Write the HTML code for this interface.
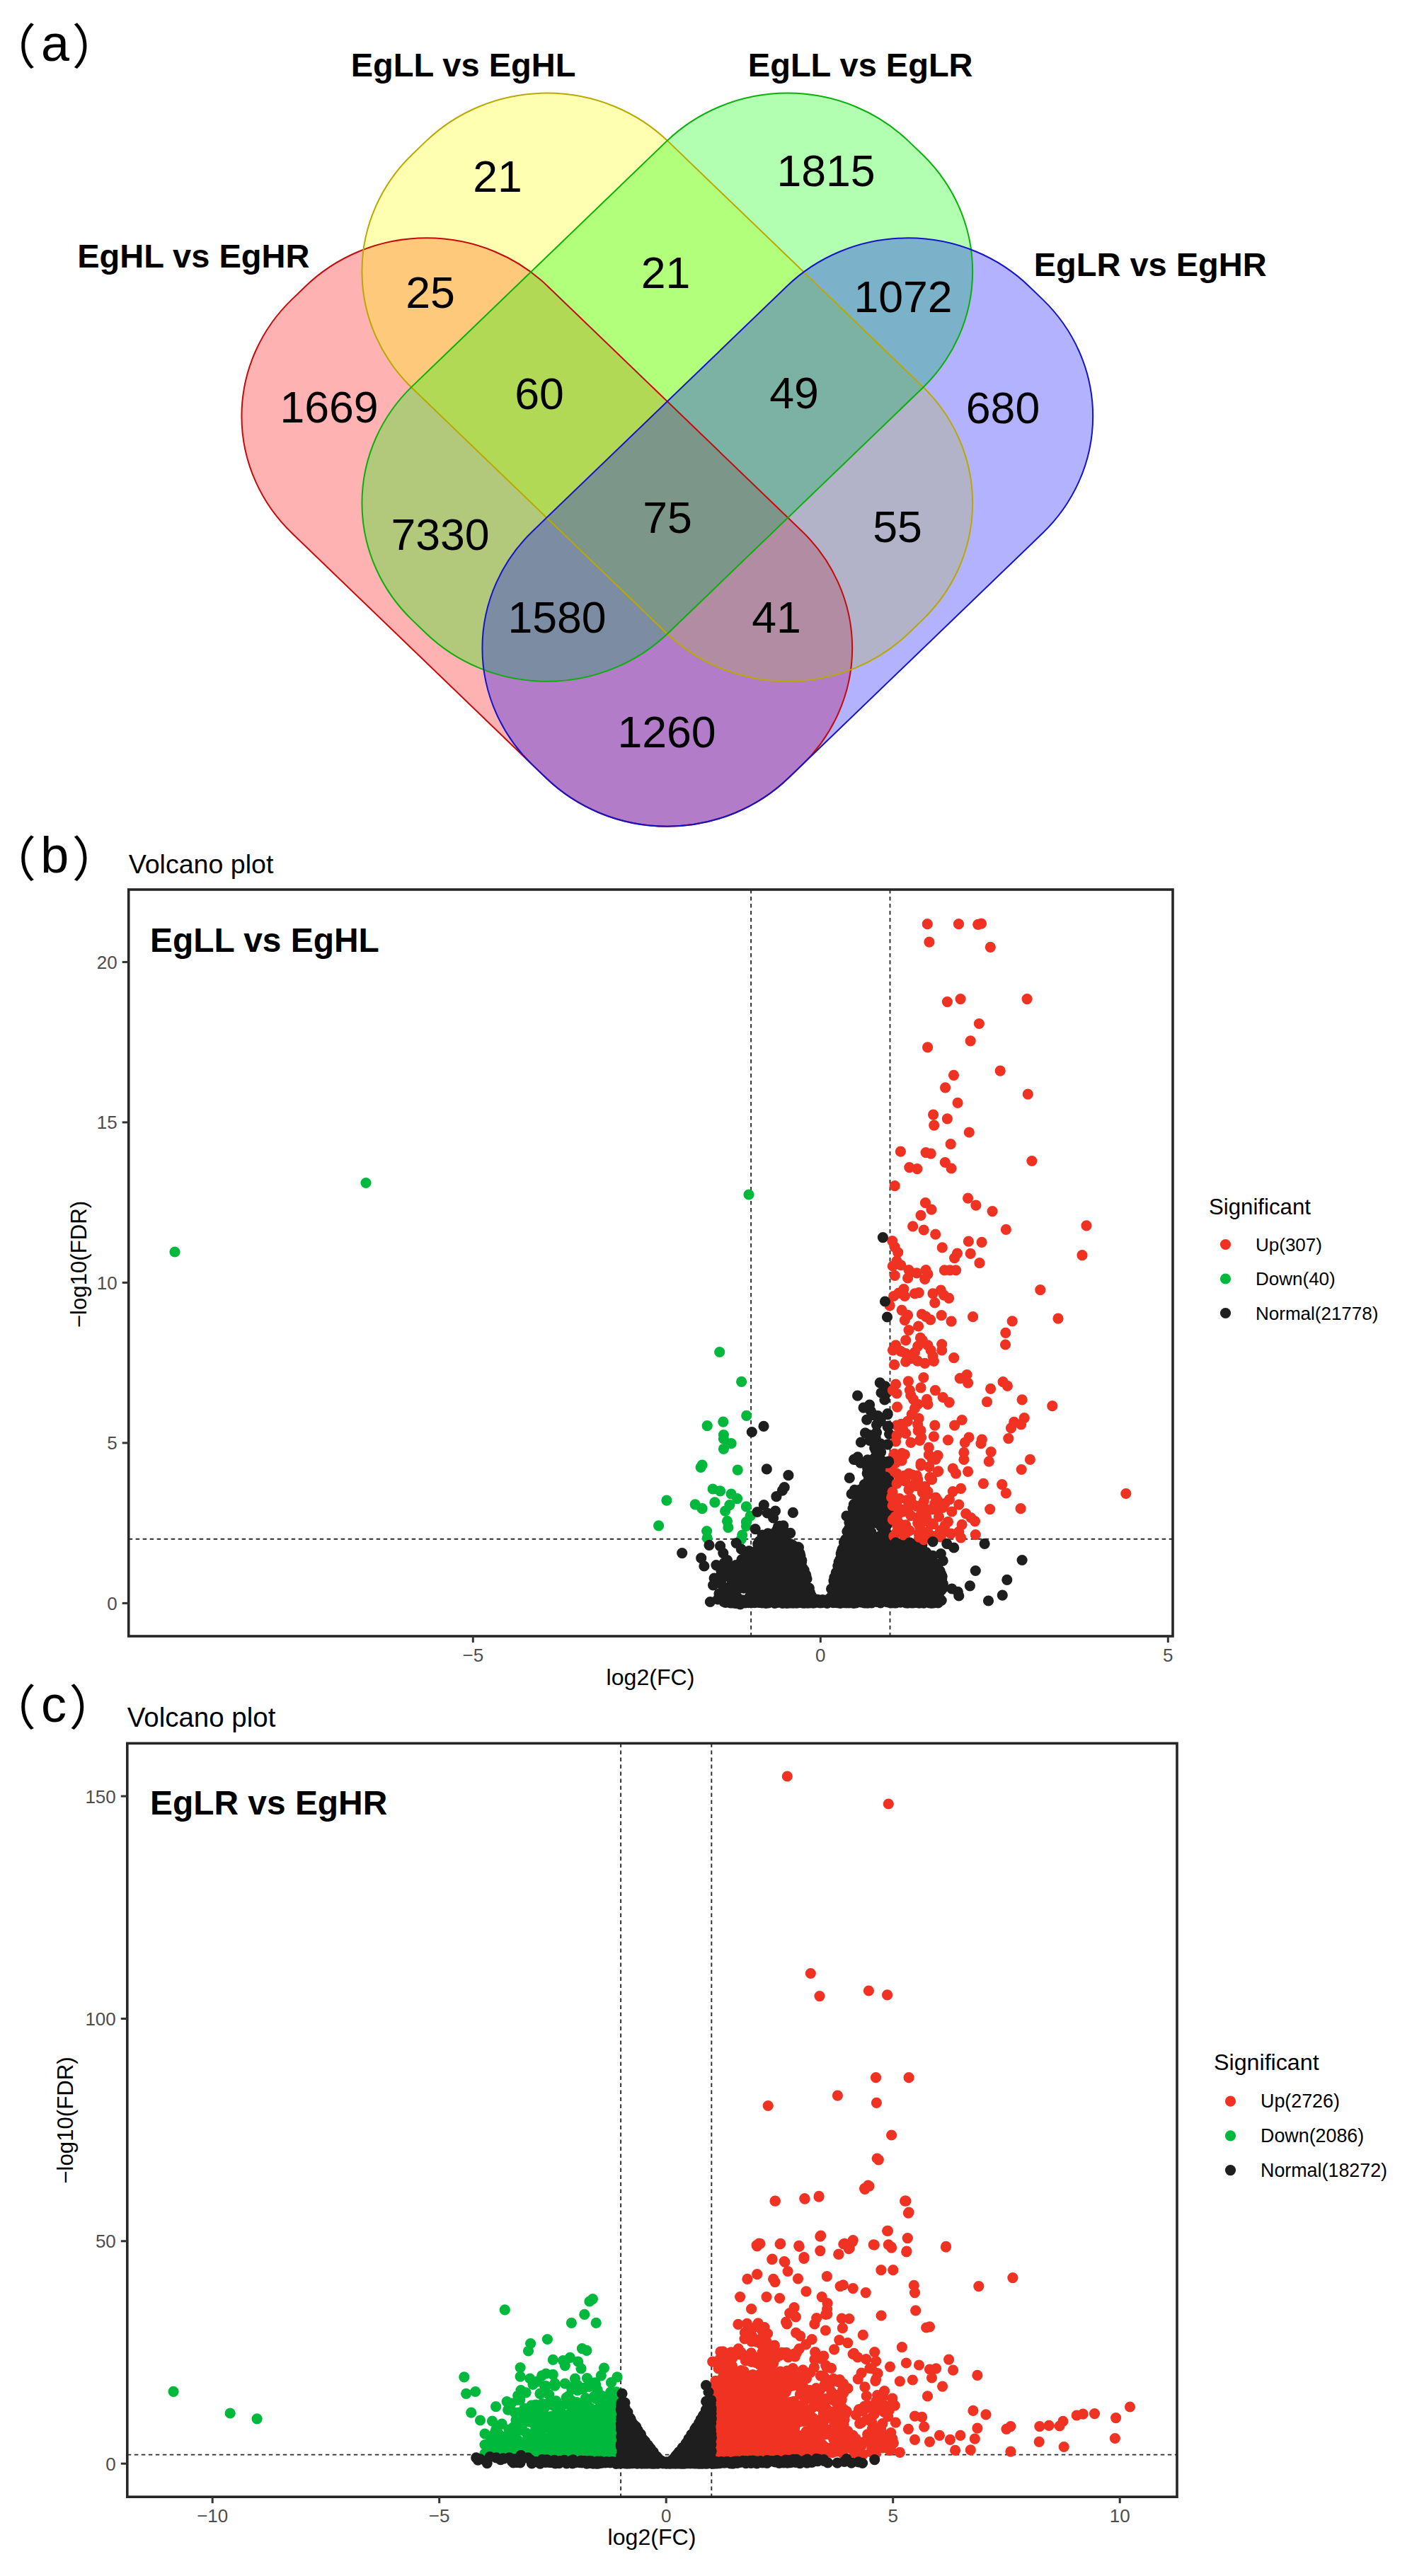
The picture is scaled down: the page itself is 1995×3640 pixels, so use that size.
<!DOCTYPE html>
<html lang="en"><head><meta charset="utf-8"><title>Figure</title>
<style>html,body{margin:0;padding:0;background:#fff}svg{display:block}text{font-family:"Liberation Sans","Noto Sans CJK SC",sans-serif}.cj{font-family:"Noto Sans CJK SC","Liberation Sans",sans-serif}.b{font-weight:bold}.g{fill:#4d4d4d}</style></head><body>
<svg width="1995" height="3640" viewBox="0 0 1995 3640">
<rect width="1995" height="3640" fill="#fff"/>
<path d="M774.1 404.7L1133.2 750.7A242.3 233.5 0 0 1 1133.2 1080.9L1114.1 1099.3A242.3 233.5 0 0 1 771.5 1099.3L412.4 753.3A242.3 233.5 0 0 1 412.4 423.1L431.5 404.7A242.3 233.5 0 0 1 774.1 404.7Z" fill="#ff0000" fill-opacity="0.3"/>
<path d="M944.1 199.9L1303.2 545.9A242.3 233.5 0 0 1 1303.2 876.1L1284.1 894.5A242.3 233.5 0 0 1 941.5 894.5L582.4 548.5A242.3 233.5 0 0 1 582.4 218.3L601.5 199.9A242.3 233.5 0 0 1 944.1 199.9Z" fill="#ffff00" fill-opacity="0.3"/>
<path d="M1303.2 548.5L944.1 894.5A242.3 233.5 0 0 1 601.5 894.5L582.4 876.1A242.3 233.5 0 0 1 582.4 545.9L941.5 199.9A242.3 233.5 0 0 1 1284.1 199.9L1303.2 218.3A242.3 233.5 0 0 1 1303.2 548.5Z" fill="#00ff00" fill-opacity="0.3"/>
<path d="M1473.2 753.3L1114.1 1099.3A242.3 233.5 0 0 1 771.5 1099.3L752.4 1080.9A242.3 233.5 0 0 1 752.4 750.7L1111.5 404.7A242.3 233.5 0 0 1 1454.1 404.7L1473.2 423.1A242.3 233.5 0 0 1 1473.2 753.3Z" fill="#0000ff" fill-opacity="0.3"/>
<path d="M774.1 404.7L1133.2 750.7A242.3 233.5 0 0 1 1133.2 1080.9L1114.1 1099.3A242.3 233.5 0 0 1 771.5 1099.3L412.4 753.3A242.3 233.5 0 0 1 412.4 423.1L431.5 404.7A242.3 233.5 0 0 1 774.1 404.7Z" fill="none" stroke="#c40a0a" stroke-width="2"/>
<path d="M944.1 199.9L1303.2 545.9A242.3 233.5 0 0 1 1303.2 876.1L1284.1 894.5A242.3 233.5 0 0 1 941.5 894.5L582.4 548.5A242.3 233.5 0 0 1 582.4 218.3L601.5 199.9A242.3 233.5 0 0 1 944.1 199.9Z" fill="none" stroke="#b9a800" stroke-width="2"/>
<path d="M1303.2 548.5L944.1 894.5A242.3 233.5 0 0 1 601.5 894.5L582.4 876.1A242.3 233.5 0 0 1 582.4 545.9L941.5 199.9A242.3 233.5 0 0 1 1284.1 199.9L1303.2 218.3A242.3 233.5 0 0 1 1303.2 548.5Z" fill="none" stroke="#0aaf0a" stroke-width="2"/>
<path d="M1473.2 753.3L1114.1 1099.3A242.3 233.5 0 0 1 771.5 1099.3L752.4 1080.9A242.3 233.5 0 0 1 752.4 750.7L1111.5 404.7A242.3 233.5 0 0 1 1454.1 404.7L1473.2 423.1A242.3 233.5 0 0 1 1473.2 753.3Z" fill="none" stroke="#1414c8" stroke-width="2"/>
<text x="654.5" y="108" font-size="47.0" text-anchor="middle" class="b">EgLL vs EgHL</text>
<text x="1215.7" y="108" font-size="47.0" text-anchor="middle" class="b">EgLL vs EgLR</text>
<text x="273.3" y="378" font-size="47.0" text-anchor="middle" class="b">EgHL vs EgHR</text>
<text x="1625.2" y="389.5" font-size="47.0" text-anchor="middle" class="b">EgLR vs EgHR</text>
<text x="703" y="271" font-size="62.6" text-anchor="middle">21</text>
<text x="1167" y="263" font-size="62.6" text-anchor="middle">1815</text>
<text x="608" y="435" font-size="62.6" text-anchor="middle">25</text>
<text x="940.5" y="407" font-size="62.6" text-anchor="middle">21</text>
<text x="1276" y="441" font-size="62.6" text-anchor="middle">1072</text>
<text x="465" y="597" font-size="62.6" text-anchor="middle">1669</text>
<text x="762" y="578" font-size="62.6" text-anchor="middle">60</text>
<text x="1122" y="577" font-size="62.6" text-anchor="middle">49</text>
<text x="1417" y="598" font-size="62.6" text-anchor="middle">680</text>
<text x="622" y="777" font-size="62.6" text-anchor="middle">7330</text>
<text x="943" y="753" font-size="62.6" text-anchor="middle">75</text>
<text x="1268" y="766" font-size="62.6" text-anchor="middle">55</text>
<text x="787" y="894" font-size="62.6" text-anchor="middle">1580</text>
<text x="1097" y="894" font-size="62.6" text-anchor="middle">41</text>
<text x="942" y="1056" font-size="62.6" text-anchor="middle">1260</text>
<text font-size="72"><tspan class="cj" font-size="68" x="-16.9" y="91.1">（</tspan><tspan x="58" y="85.5">a</tspan><tspan class="cj" font-size="68" x="101.8" y="91.1">）</tspan></text>
<text font-size="72"><tspan class="cj" font-size="68" x="-16.9" y="1238.6">（</tspan><tspan x="57.3" y="1233">b</tspan><tspan class="cj" font-size="68" x="101.8" y="1238.6">）</tspan></text>
<text font-size="72"><tspan class="cj" font-size="68" x="-16.9" y="2438.1">（</tspan><tspan x="58" y="2432.5">c</tspan><tspan class="cj" font-size="68" x="97.5" y="2438.1">）</tspan></text>
<g>
<line x1="1061.1" y1="1257" x2="1061.1" y2="2312" stroke="#2a2a2a" stroke-width="1.9" stroke-dasharray="5.5 4.5"/>
<line x1="1257.5" y1="1257" x2="1257.5" y2="2312" stroke="#2a2a2a" stroke-width="1.9" stroke-dasharray="5.5 4.5"/>
<line x1="181.7" y1="2174.8" x2="1657" y2="2174.8" stroke="#2a2a2a" stroke-width="1.9" stroke-dasharray="5.5 4.5"/>
<path d="M1116.3 2209.2h0M1129.8 2227.6h0M1034.5 2239.6h0M1278.3 2246.2h0M1214.1 2169.3h0M1105.3 2252.2h0M1111.4 2249.1h0M1199.3 2222.8h0M1188.4 2261.0h0M1078.3 2225.4h0M1113.2 2225.6h0M1108.6 2196.2h0M1090.6 2212.9h0M1293.9 2240.6h0M1327.7 2244.6h0M1255.9 2169.4h0M1258.3 2190.0h0M1113.1 2213.1h0M1198.8 2171.2h0M1225.9 2136.0h0M1220.4 2120.7h0M1103.7 2188.1h0M1066.1 2261.4h0M1259.4 2244.1h0M1189.0 2203.9h0M1290.3 2229.7h0M1127.6 2186.0h0M1060.6 2248.9h0M1087.2 2205.6h0M1096.6 2222.6h0M1130.9 2198.5h0M1234.4 2133.2h0M1229.8 2097.1h0M1263.2 2196.7h0M1138.4 2261.1h0M1216.3 2254.3h0M1079.2 2233.7h0M1028.9 2255.2h0M1209.8 2226.6h0M1123.9 2256.1h0M1285.4 2225.3h0M1167.8 2264.8h0M1122.4 2201.1h0M1064.0 2202.1h0M1182.1 2238.6h0M1236.2 2182.7h0M1118.2 2196.6h0M1271.6 2201.7h0M1085.0 2230.1h0M1021.3 2249.3h0M1095.5 2170.1h0M1129.4 2248.2h0M1075.4 2206.4h0M1269.6 2208.5h0M1253.6 2230.0h0M1266.2 2196.5h0M1245.5 2240.6h0M1271.8 2194.3h0M1124.9 2255.5h0M1221.3 2098.5h0M1278.1 2243.7h0M1106.4 2202.1h0M1095.5 2252.3h0M1305.1 2228.2h0M1199.9 2216.4h0M1183.3 2264.4h0M1067.5 2213.8h0M1191.2 2222.0h0M1190.9 2256.7h0M1192.5 2240.9h0M1260.7 2217.1h0M1256.8 2179.1h0M1209.3 2187.6h0M1235.1 2148.6h0M1237.2 2049.2h0M1095.6 2171.2h0M1282.6 2254.9h0M1154.4 2264.1h0M1264.5 2252.1h0M1242.7 2235.1h0M1296.4 2246.5h0M1280.1 2228.3h0M1178.1 2258.8h0M1114.6 2263.7h0M1190.5 2263.9h0M1118.8 2222.4h0M1265.9 2256.4h0M1097.5 2183.7h0M1099.1 2219.0h0M1095.3 2174.1h0M1195.8 2256.4h0M1149.0 2260.3h0M1216.4 2251.6h0M1287.8 2191.1h0M1190.1 2244.1h0M1088.8 2249.0h0M1112.5 2198.2h0M1105.4 2245.6h0M1123.8 2246.4h0M1189.5 2228.8h0M1313.0 2207.9h0M1280.8 2221.8h0M1233.5 2194.2h0M1280.1 2210.7h0M1142.4 2263.9h0M1053.8 2209.9h0M1094.3 2257.1h0M1283.0 2207.7h0M1102.8 2231.3h0M1160.0 2263.0h0M1096.8 2165.6h0M1188.2 2195.7h0M1111.7 2265.3h0M1134.9 2237.7h0M1076.7 2264.9h0M1097.1 2224.1h0M1025.4 2245.4h0M1087.0 2211.7h0M1253.7 2123.5h0M1295.2 2237.3h0M1329.2 2230.9h0M1219.2 2122.0h0M1299.3 2202.2h0M1273.6 2220.3h0M1271.2 2215.1h0M1299.6 2205.7h0M1086.1 2252.0h0M1128.2 2198.1h0M1191.9 2211.4h0M1231.2 2264.8h0M1268.9 2222.1h0M1184.4 2261.6h0M1249.3 2251.2h0M1097.5 2243.9h0M1250.3 2170.2h0M1135.2 2228.5h0M1259.0 2210.1h0M1037.0 2249.7h0M1251.4 2154.6h0M1016.0 2251.9h0M1228.4 2140.7h0M1105.7 2214.1h0M1162.2 2260.5h0M1076.2 2176.9h0M1276.1 2226.7h0M1098.5 2163.2h0M1079.9 2252.2h0M1238.5 2057.9h0M1168.6 2265.4h0M1109.3 2232.3h0M1113.8 2265.2h0M1253.8 2241.6h0M1302.4 2233.7h0M1201.8 2212.5h0M1100.6 2253.8h0M1280.8 2184.9h0M1092.3 2215.2h0M1073.1 2177.6h0M1296.8 2211.1h0M1188.9 2261.7h0M1247.9 2122.8h0M1219.6 2256.9h0M1310.5 2230.6h0M1122.7 2208.4h0M1326.5 2231.7h0M1108.9 2226.9h0M1065.9 2251.2h0M1082.9 2169.9h0M1156.9 2264.4h0M1095.2 2177.4h0M1253.5 2183.4h0M1180.8 2250.4h0M1323.7 2237.6h0M1214.8 2229.6h0M1099.3 2221.2h0M1285.4 2263.5h0M1300.5 2214.9h0M1287.5 2244.0h0M1047.1 2227.0h0M1231.7 2124.4h0M1220.5 2184.8h0M1189.6 2204.7h0M1086.9 2199.9h0M1109.8 2241.7h0M1216.9 2246.8h0M1199.7 2239.5h0M1205.6 2223.8h0M1219.6 2183.1h0M1087.6 2167.7h0M1239.0 2260.4h0M1227.0 2223.6h0M1075.8 2195.5h0M1174.6 2245.2h0M1112.4 2244.9h0M1083.3 2236.9h0M1072.3 2228.0h0M1226.3 2238.4h0M1138.7 2225.8h0M1057.7 2260.9h0M1296.6 2179.5h0M1312.1 2252.1h0M1134.0 2245.9h0M1066.5 2246.3h0M1078.8 2188.7h0M1276.8 2261.2h0M1308.2 2237.3h0M1300.9 2230.0h0M1273.5 2261.9h0M1023.2 2208.7h0M1094.8 2176.8h0M1121.2 2189.2h0M1210.7 2152.6h0M1113.9 2265.1h0M1255.4 2140.5h0M1315.8 2249.9h0M1092.9 2217.0h0M1310.9 2206.7h0M1249.9 2117.2h0M1207.6 2218.9h0M1128.6 2259.1h0M1075.6 2242.0h0M1032.9 2231.0h0M1116.9 2189.4h0M1330.2 2261.5h0M1240.6 2212.7h0M1229.1 2108.3h0M1226.0 2110.3h0M1106.6 2225.5h0M1249.7 2218.0h0M1091.0 2177.4h0M1198.3 2221.7h0M1086.5 2199.3h0M1331.2 2244.1h0M1275.8 2186.7h0M1311.6 2202.9h0M1262.5 2256.3h0M1204.0 2236.7h0M1130.8 2251.0h0M1094.1 2201.5h0M1077.5 2234.6h0M1230.5 2206.3h0M1077.5 2213.9h0M1032.4 2240.5h0M1189.2 2258.5h0M1144.0 2259.0h0M1319.0 2230.4h0M1127.0 2192.1h0M1075.5 2246.1h0M1218.4 2250.3h0M1212.4 2182.8h0M1271.2 2248.4h0M1211.8 2239.5h0M1265.1 2230.6h0M1284.6 2249.7h0M1082.3 2216.2h0M1135.5 2252.4h0M1245.5 2257.4h0M1193.1 2261.9h0M1282.0 2213.8h0M1189.2 2242.2h0M1257.9 2226.0h0M1069.8 2256.8h0M1176.3 2248.1h0M1262.5 2260.7h0M1318.3 2211.5h0M1274.5 2180.9h0M1307.1 2203.5h0M1311.7 2240.1h0M1255.6 2088.9h0M1100.6 2249.0h0M1079.1 2218.2h0M1114.8 2249.6h0M1230.9 2233.1h0M1264.8 2219.7h0M1217.0 2120.5h0M1190.8 2193.0h0M1214.8 2133.4h0M1097.3 2205.3h0M1128.0 2229.5h0M1068.9 2261.7h0M1276.1 2210.4h0M1225.8 2265.1h0M1022.9 2227.9h0M1300.5 2245.8h0M1222.4 2264.9h0M1126.3 2234.1h0M1084.2 2207.7h0M1077.8 2220.8h0M1090.5 2255.8h0M1217.6 2134.7h0M1141.5 2265.1h0M1219.7 2204.6h0M1219.9 2102.1h0M1248.3 2094.2h0M1142.8 2263.9h0M1262.9 2218.0h0M1315.1 2252.0h0M1207.9 2171.4h0M1274.0 2238.8h0M1108.7 2177.9h0M1264.2 2264.9h0M1284.0 2225.4h0M1250.9 2221.5h0M1253.5 2098.0h0M1241.2 2142.6h0M1180.5 2237.7h0M1322.9 2215.7h0M1088.0 2169.3h0M1252.3 2092.1h0M1117.8 2188.1h0M1215.1 2155.5h0M1282.5 2191.6h0M1195.7 2244.1h0M1212.5 2115.8h0M1058.6 2257.4h0M1311.2 2255.1h0M1021.3 2225.7h0M1216.2 2143.7h0M1129.1 2202.1h0M1299.1 2190.7h0M1048.1 2203.5h0M1273.5 2194.4h0M1215.4 2248.9h0M1078.0 2225.7h0M1103.0 2222.6h0M1115.3 2221.7h0M1286.2 2262.7h0M1261.0 2204.7h0M1185.2 2212.8h0M1066.9 2251.4h0M1257.5 2264.6h0M1268.6 2222.8h0M1123.8 2245.7h0M1316.0 2251.2h0M1237.3 2240.2h0M1217.0 2134.6h0M1236.6 2122.8h0M1126.5 2231.2h0M1298.8 2188.9h0M1096.8 2214.0h0M1087.2 2211.4h0M1255.0 2137.7h0M1124.2 2253.7h0M1283.6 2201.5h0M1066.6 2212.5h0M1198.5 2214.0h0M1297.1 2248.9h0M1109.1 2183.7h0M1061.8 2248.4h0M1117.2 2251.6h0M1117.7 2182.2h0M1246.7 2081.9h0M1248.2 2228.2h0M1217.5 2230.9h0M1137.1 2246.7h0M1266.8 2222.3h0M1215.7 2242.0h0M1206.5 2160.8h0M1304.5 2218.2h0M1253.3 2220.1h0M1244.6 2111.2h0M1237.5 2109.0h0M1218.6 2212.2h0M1214.4 2195.7h0M1264.0 2211.2h0M1092.5 2220.7h0M1212.2 2155.4h0M1311.6 2218.1h0M1262.6 2223.2h0M1325.9 2237.0h0M1186.3 2232.2h0M1217.9 2177.8h0M1079.7 2228.8h0M1257.7 2180.7h0M1126.5 2241.5h0M1140.7 2251.6h0M1125.4 2248.5h0M1250.8 2163.2h0M1082.5 2228.1h0M1080.3 2192.9h0M1272.8 2225.0h0M1193.0 2178.2h0M1125.7 2203.6h0M1274.9 2240.1h0M1188.6 2204.0h0M1126.3 2241.9h0M1133.2 2239.1h0M1071.9 2201.6h0M1102.6 2230.3h0M1217.3 2205.1h0M1215.9 2263.5h0M1092.5 2251.4h0M1087.3 2230.2h0M1267.0 2188.7h0M1208.0 2167.2h0M1299.9 2193.2h0M1075.6 2215.2h0M1251.0 2094.0h0M1190.8 2246.2h0M1289.9 2193.0h0M1226.3 2196.3h0M1216.9 2164.3h0M1231.9 2200.5h0M1213.4 2120.9h0M1129.9 2226.6h0M1260.2 2227.9h0M1278.3 2194.2h0M1099.5 2157.0h0M1222.8 2204.9h0M1114.1 2214.2h0M1216.5 2258.8h0M1244.8 2157.2h0M1223.9 2097.8h0M1209.0 2170.8h0M1236.3 2111.6h0M1080.4 2222.6h0M1257.7 2249.8h0M1130.8 2209.9h0M1193.1 2238.1h0M1312.8 2225.4h0M1024.7 2213.0h0M1197.3 2217.8h0M1202.7 2140.9h0M1080.4 2264.0h0M1053.5 2211.7h0M1090.0 2246.5h0M1241.8 2106.4h0M1240.4 2054.7h0M1093.8 2195.2h0M1015.7 2233.0h0M1275.3 2238.6h0M1247.0 2101.6h0M1168.6 2263.4h0M1197.2 2193.5h0M1129.0 2216.6h0M1265.2 2197.9h0M1194.6 2259.6h0M1278.5 2213.3h0M1205.6 2206.2h0M1298.1 2206.5h0M1205.8 2153.3h0M1103.3 2234.9h0M1274.8 2261.8h0M1280.4 2190.8h0M1196.2 2178.2h0M1271.9 2186.8h0M1123.7 2223.4h0M1268.8 2200.8h0M1312.1 2222.0h0M1230.3 2226.4h0M1094.0 2187.8h0M1160.1 2261.0h0M1260.7 2215.5h0M1300.9 2220.5h0M1072.9 2248.9h0M1237.8 2135.2h0M1060.0 2193.4h0M1132.5 2224.7h0M1265.6 2214.0h0M1123.1 2263.8h0M1291.0 2216.6h0M1096.3 2222.3h0M1275.7 2243.5h0M1070.2 2261.2h0M1191.5 2226.6h0M1140.0 2231.0h0M1094.8 2202.2h0M1138.6 2258.8h0M1083.4 2240.7h0M1125.4 2197.3h0M1281.7 2197.7h0M1240.6 2043.2h0M1030.0 2215.3h0M1108.2 2189.4h0M1094.8 2217.9h0M1066.3 2255.7h0M1230.3 2130.1h0M1074.8 2178.0h0M1083.0 2182.1h0M1298.2 2226.9h0M1283.3 2226.5h0M1121.4 2227.6h0M1214.3 2228.6h0M1190.2 2195.8h0M1097.8 2248.9h0M1099.3 2228.4h0M1066.0 2244.1h0M1302.9 2182.8h0M1227.3 2177.5h0M1104.2 2242.3h0M1300.7 2202.9h0M1106.5 2263.7h0M1271.9 2253.3h0M1181.6 2244.8h0M1305.7 2219.5h0M1056.5 2206.7h0M1241.2 2247.8h0M1078.4 2199.2h0M1273.4 2248.0h0M1120.0 2194.5h0M1170.8 2259.6h0M1097.8 2177.6h0M1130.2 2238.4h0M1203.6 2197.6h0M1275.0 2237.8h0M1241.1 2098.1h0M1185.1 2207.0h0M1084.1 2255.4h0M1092.7 2262.4h0M1074.8 2208.9h0M1197.7 2189.5h0M1243.0 2239.6h0M1102.1 2218.2h0M1289.4 2216.1h0M1252.5 2102.6h0M1181.3 2222.0h0M1262.2 2244.7h0M1119.9 2184.9h0M1271.1 2195.2h0M1285.0 2220.9h0M1092.3 2203.2h0M1129.4 2260.1h0M1272.7 2189.3h0M1097.6 2236.7h0M1212.1 2180.8h0M1104.6 2191.7h0M1098.5 2207.9h0M1059.8 2255.9h0M1106.6 2234.5h0M1090.4 2210.6h0M1282.5 2216.3h0M1221.5 2138.0h0M1209.4 2218.1h0M1090.0 2213.8h0M1135.4 2264.8h0M1125.6 2247.4h0M1191.3 2241.5h0M1260.7 2259.7h0M1292.6 2260.1h0M1136.9 2230.5h0M1125.5 2219.0h0M1285.8 2220.8h0M1250.0 2119.6h0M1240.2 2236.5h0M1292.5 2199.5h0M1200.7 2150.4h0M1196.2 2185.0h0M1293.1 2232.7h0M1244.9 2188.2h0M1190.9 2238.9h0M1265.5 2222.4h0M1109.9 2211.3h0M1199.3 2160.3h0M1116.3 2193.0h0M1320.8 2240.1h0M1305.3 2261.6h0M1194.0 2178.9h0M1261.1 2179.5h0M1232.7 2193.2h0M1203.6 2141.9h0M1229.9 2246.9h0M1132.6 2229.6h0M1196.9 2164.0h0M1213.2 2208.2h0M1067.0 2197.5h0M1278.1 2255.9h0M1300.1 2194.8h0M1147.6 2263.3h0M1072.6 2208.4h0M1206.3 2125.8h0M1217.0 2197.1h0M1265.7 2206.0h0M1283.3 2207.9h0M1075.3 2213.1h0M1097.7 2209.4h0M1144.4 2262.4h0M1256.6 2245.9h0M1066.9 2208.4h0M1209.4 2255.9h0M1116.0 2234.8h0M1066.6 2258.6h0M1124.4 2236.3h0M1199.7 2214.6h0M1211.8 2258.3h0M1113.4 2193.9h0M1109.8 2174.8h0M1090.2 2193.3h0M1083.3 2180.9h0M1090.4 2229.5h0M1072.1 2239.5h0M1192.9 2217.5h0M1136.2 2262.1h0M1125.1 2251.0h0M1103.3 2261.3h0M1226.0 2236.6h0M1239.4 2203.4h0M1281.0 2227.2h0M1281.4 2251.7h0M1125.7 2237.0h0M1320.7 2208.8h0M1174.6 2256.0h0M1096.0 2206.3h0M1130.5 2221.8h0M1080.5 2253.9h0M1099.1 2223.1h0M1223.8 2208.2h0M1137.6 2257.4h0M1286.1 2208.4h0M1128.4 2241.8h0M1084.9 2194.3h0M1102.9 2159.7h0M1261.6 2191.3h0M1225.7 2189.3h0M1224.3 2219.6h0M1284.7 2211.3h0M1070.5 2189.4h0M1248.4 2257.7h0M1024.9 2252.5h0M1109.6 2261.7h0M1112.1 2249.4h0M1282.4 2203.7h0M1094.0 2198.3h0M1124.4 2202.5h0M1262.1 2261.7h0M1287.1 2261.3h0M1090.7 2186.4h0M1079.7 2195.5h0M1278.9 2257.7h0M1249.9 2144.9h0M1157.8 2261.6h0M1310.9 2209.7h0M1271.5 2218.4h0M1187.2 2261.3h0M1127.3 2248.5h0M1112.0 2202.4h0M1227.9 2220.9h0M1178.0 2234.0h0M1125.2 2198.8h0M1119.4 2220.0h0M1257.0 2135.8h0M1204.8 2161.9h0M1279.7 2240.5h0M1128.1 2260.5h0M1102.5 2183.7h0M1156.3 2263.6h0M1066.1 2264.7h0M1186.9 2203.5h0M1219.6 2103.6h0M1222.2 2220.8h0M1056.7 2206.4h0M1282.4 2249.4h0M1217.5 2110.7h0M1066.3 2209.4h0M1251.1 2229.5h0M1277.8 2233.7h0M1189.5 2201.2h0M1089.1 2207.9h0M1214.3 2148.2h0M1199.2 2187.2h0M1324.4 2263.2h0M1244.9 2099.0h0M1287.5 2228.8h0M1103.2 2205.6h0M1278.1 2251.2h0M1107.3 2206.6h0M1124.1 2259.0h0M1116.3 2181.5h0M1211.7 2255.7h0M1229.9 2209.8h0M1196.0 2216.6h0M1220.5 2204.9h0M1297.1 2249.1h0M1230.6 2249.2h0M1224.7 2158.2h0M1193.9 2254.7h0M1070.1 2220.6h0M1093.6 2213.4h0M1093.0 2211.1h0M1085.0 2254.2h0M1290.1 2203.9h0M1255.8 2070.8h0M1244.4 2099.1h0M1138.2 2224.6h0M1193.4 2252.9h0M1262.0 2245.0h0M1131.9 2225.9h0M1080.6 2199.3h0M1212.1 2173.9h0M1066.1 2242.5h0M1258.0 2194.3h0M1249.5 2127.6h0M1270.6 2185.8h0M1229.5 2229.4h0M1199.3 2263.0h0M1071.7 2240.0h0M1233.3 2235.6h0M1294.0 2206.1h0M1272.3 2264.2h0M1122.3 2226.4h0M1293.2 2262.3h0M1070.7 2208.3h0M1138.4 2258.8h0M1284.2 2190.3h0M1208.8 2216.0h0M1081.7 2209.9h0M1128.3 2219.1h0M1136.9 2265.1h0M1198.5 2263.1h0M1026.6 2220.2h0M1099.8 2209.4h0M1096.4 2211.7h0M1260.3 2198.8h0M1215.9 2205.5h0M1102.7 2163.8h0M1109.9 2195.8h0M1124.9 2234.8h0M1116.1 2223.8h0M1130.3 2248.4h0M1124.5 2264.9h0M1292.5 2227.1h0M1195.2 2248.7h0M1111.4 2215.6h0M1313.9 2201.9h0M1199.9 2244.6h0M1199.0 2225.1h0M1261.4 2190.7h0M1301.6 2243.2h0M1098.3 2242.0h0M1140.7 2245.4h0M1290.3 2248.5h0M1248.4 2151.5h0M1294.0 2253.6h0M1072.6 2186.1h0M1218.1 2229.7h0M1117.2 2209.8h0M1120.8 2232.1h0M1119.7 2216.2h0M1094.8 2264.1h0M1330.1 2236.9h0M1245.2 2247.1h0M1062.3 2213.3h0M1201.5 2184.8h0M1205.8 2162.7h0M1095.0 2189.9h0M1261.9 2198.9h0M1101.6 2156.4h0M1054.5 2229.5h0M1223.1 2199.0h0M1330.7 2231.0h0M1041.0 2256.0h0M1190.8 2188.2h0M1129.8 2252.2h0M1249.6 2234.4h0M1090.1 2215.3h0M1216.9 2132.6h0M1303.0 2203.6h0M1084.2 2239.7h0M1077.5 2205.0h0M1108.1 2243.6h0M1195.4 2179.5h0M1292.0 2200.7h0M1277.0 2236.9h0M1204.5 2187.9h0M1296.4 2189.4h0M1128.1 2195.5h0M1070.7 2181.7h0M1107.9 2254.0h0M1325.8 2217.7h0M1043.4 2215.1h0M1296.1 2262.6h0M1087.6 2195.3h0M1086.6 2254.8h0M1113.9 2254.9h0M1169.0 2263.1h0M1069.6 2253.6h0M1249.8 2243.9h0M1125.9 2196.0h0M1124.6 2192.5h0M1296.5 2241.9h0M1069.1 2260.1h0M1128.8 2211.6h0M1222.4 2165.6h0M1234.3 2078.7h0M1243.2 2199.0h0M1136.7 2245.5h0M1310.4 2220.2h0M1133.4 2253.3h0M1264.5 2261.1h0M1235.6 2121.9h0M1188.8 2193.0h0M1286.9 2214.4h0M1332.4 2238.2h0M1251.4 2126.4h0M1138.8 2240.5h0M1230.1 2147.1h0M1186.9 2224.2h0M1097.3 2216.1h0M1244.4 2169.9h0M1083.3 2176.0h0M1182.3 2239.1h0M1274.0 2250.6h0M1276.7 2210.3h0M1278.5 2190.7h0M1280.0 2254.8h0M1270.7 2226.4h0M1269.1 2252.5h0M1231.1 2165.4h0M1088.5 2230.8h0M1134.8 2254.2h0M1195.8 2247.4h0M1243.3 2198.2h0M1089.9 2256.2h0M1216.9 2231.9h0M1211.0 2258.4h0M1241.5 2175.6h0M1220.8 2203.0h0M1136.1 2218.7h0M1073.7 2199.2h0M1131.9 2243.5h0M1134.2 2236.7h0M1282.4 2224.6h0M1298.8 2223.1h0M1227.9 2191.4h0M1190.4 2203.4h0M1044.8 2209.5h0M1193.8 2201.8h0M1241.0 2253.2h0M1234.6 2139.7h0M1292.8 2236.6h0M1178.9 2228.8h0M1100.5 2229.8h0M1094.1 2210.9h0M1291.2 2191.7h0M1094.8 2260.3h0M1184.9 2237.7h0M1129.8 2250.5h0M1183.7 2234.2h0M1116.2 2196.6h0M1105.9 2177.4h0M1202.7 2146.6h0M1217.9 2120.6h0M1070.0 2219.8h0M1269.9 2207.4h0M1229.4 2226.1h0M1282.0 2186.4h0M1078.6 2256.5h0M1264.6 2229.7h0M1224.2 2098.3h0M1232.9 2253.9h0M1236.1 2077.4h0M1106.6 2203.1h0M1114.7 2252.0h0M1305.7 2197.7h0M1218.4 2173.1h0M1246.6 2135.7h0M1181.5 2249.1h0M1253.7 2081.1h0M1290.3 2218.9h0M1040.5 2246.7h0M1299.7 2245.8h0M1309.8 2220.7h0M1251.1 2112.2h0M1108.1 2208.9h0M1265.8 2225.7h0M1125.7 2215.4h0M1315.3 2208.9h0M1293.3 2252.6h0M1184.6 2237.9h0M1075.7 2246.2h0M1292.7 2188.7h0M1195.7 2242.3h0M1253.6 2213.1h0M1178.9 2232.5h0M1087.3 2185.7h0M1240.9 2210.5h0M1205.0 2259.8h0M1211.1 2135.9h0M1122.2 2229.4h0M1308.6 2193.6h0M1248.3 2236.7h0M1122.9 2250.2h0M1082.7 2172.1h0M1263.0 2200.7h0M1217.0 2161.6h0M1284.4 2257.4h0M1243.1 2231.5h0M1252.1 2102.5h0M1251.9 2108.0h0M1202.2 2162.3h0M1264.7 2239.7h0M1316.7 2202.3h0M1265.6 2193.2h0M1086.8 2219.0h0M1088.2 2173.0h0M1232.7 2186.2h0M1264.5 2206.6h0M1142.8 2249.0h0M1281.4 2214.2h0M1281.4 2265.0h0M1169.5 2264.8h0M1273.7 2213.3h0M1080.8 2186.4h0M1211.5 2251.3h0M1099.3 2216.6h0M1224.9 2243.1h0M1232.0 2103.2h0M1071.3 2182.7h0M1128.7 2195.5h0M1208.6 2206.6h0M1073.0 2250.5h0M1181.8 2257.0h0M1272.7 2235.1h0M1289.7 2233.0h0M1226.6 2150.4h0M1128.5 2215.3h0M1133.1 2223.4h0M1232.2 2176.6h0M1253.9 2121.0h0M1253.5 2201.0h0M1299.1 2214.8h0M1197.8 2222.9h0M1252.7 2209.9h0M1257.6 2218.6h0M1221.0 2145.1h0M1240.6 2202.9h0M1278.0 2235.5h0M1294.6 2201.9h0M1067.0 2261.7h0M1107.9 2167.0h0M1321.9 2247.5h0M1316.0 2244.2h0M1153.2 2264.0h0M1138.9 2226.8h0M1098.0 2168.9h0M1217.2 2213.0h0M1228.0 2214.7h0M1128.8 2224.1h0M1104.9 2236.0h0M1260.5 2194.3h0M1194.5 2175.3h0M1097.5 2258.1h0M1188.7 2215.2h0M1219.7 2155.5h0M1234.9 2179.6h0M1122.1 2202.5h0M1124.6 2199.8h0M1183.3 2229.5h0M1302.4 2236.6h0M1227.1 2191.1h0M1196.8 2177.0h0M1266.0 2252.4h0M1228.3 2173.1h0M1301.4 2201.4h0M1276.4 2189.8h0M1238.7 2201.8h0M1277.5 2247.1h0M1084.1 2199.3h0M1127.9 2259.5h0M1282.1 2265.1h0M1214.7 2219.8h0M1190.7 2262.2h0M1278.5 2246.1h0M1214.7 2210.6h0M1195.1 2187.4h0M1079.3 2190.0h0M1185.0 2218.7h0M1148.5 2262.0h0M1245.4 2187.3h0M1084.9 2166.8h0M1271.0 2237.0h0M1329.7 2243.0h0M1231.9 2176.1h0M1122.1 2233.9h0M1103.0 2179.8h0M1178.3 2258.6h0M1238.7 2204.0h0M1192.5 2179.5h0M1252.8 2083.6h0M1244.7 2252.9h0M1078.2 2184.5h0M1244.5 2212.7h0M1126.5 2210.4h0M1126.4 2195.3h0M1158.6 2264.8h0M1053.3 2223.5h0M1175.6 2259.2h0M1240.8 2045.3h0M1283.0 2264.3h0M1080.9 2229.9h0M1265.2 2261.7h0M1298.4 2259.3h0M1116.2 2188.8h0M1078.3 2180.6h0M1135.2 2233.5h0M1217.0 2192.4h0M1241.9 2124.1h0M1234.9 2234.6h0M1329.9 2247.1h0M1265.8 2210.8h0M1250.9 2247.2h0M1024.3 2250.1h0M1311.8 2217.0h0M1308.1 2253.6h0M1240.7 2083.9h0M1298.6 2265.2h0M1286.2 2194.7h0M1203.5 2255.3h0M1105.7 2264.6h0M1252.0 2102.5h0M1273.4 2254.9h0M1221.4 2188.6h0M1187.9 2258.7h0M1247.2 2104.3h0M1109.5 2251.3h0M1207.3 2154.3h0M1014.2 2259.9h0M1235.0 2151.8h0M1208.8 2127.8h0M1248.0 2092.5h0M1281.7 2262.8h0M1231.3 2182.2h0M1294.8 2184.3h0M1093.4 2231.3h0M1116.5 2227.2h0M1281.5 2200.6h0M1100.3 2218.6h0M1297.5 2237.1h0M1260.1 2188.8h0M1267.9 2256.4h0M1277.9 2211.4h0M1130.2 2195.2h0M1221.3 2097.5h0M1234.2 2246.4h0M1080.4 2180.8h0M1242.6 2227.9h0M1234.5 2103.9h0M1092.0 2262.7h0M1234.6 2209.5h0M1202.4 2190.1h0M1235.8 2251.1h0M1033.6 2243.2h0M1057.8 2228.2h0M1100.1 2245.3h0M1122.3 2263.0h0M1278.9 2191.8h0M1270.6 2241.5h0M1303.5 2210.3h0M1201.1 2243.6h0M1058.3 2191.7h0M1135.4 2235.0h0M1083.9 2264.0h0M1286.6 2182.5h0M1129.1 2254.7h0M1265.8 2233.9h0M1180.5 2254.7h0M1268.4 2232.6h0M1258.3 2248.7h0M1082.5 2230.6h0M1218.6 2117.8h0M1281.4 2262.9h0M1153.2 2262.9h0M1241.2 2239.2h0M1086.3 2253.5h0M1190.7 2247.2h0M1251.7 2095.0h0M1181.0 2257.7h0M1290.5 2258.2h0M1097.5 2217.2h0M1247.6 2179.5h0M1114.4 2207.6h0M1128.4 2186.7h0M1177.8 2250.0h0M1250.5 2220.2h0M1221.7 2120.6h0M1288.1 2187.7h0M1070.5 2215.6h0M1302.4 2246.9h0M1253.2 2079.4h0M1087.1 2213.5h0M1081.7 2246.4h0M1084.9 2233.5h0M1143.1 2249.2h0M1095.1 2209.8h0M1241.2 2212.1h0M1060.0 2227.8h0M1199.3 2258.9h0M1087.5 2205.8h0M1298.1 2191.4h0M1320.2 2208.7h0M1143.3 2244.1h0M1045.5 2243.9h0M1105.1 2167.5h0M1285.4 2209.2h0M1177.2 2258.0h0M1224.0 2117.8h0M1301.5 2248.8h0M1195.7 2195.8h0M1094.3 2229.4h0M1213.1 2153.7h0M1269.5 2224.5h0M1230.4 2143.0h0M1070.1 2201.5h0M1087.0 2168.2h0M1078.7 2175.6h0M1301.9 2202.3h0M1127.9 2202.7h0M1081.2 2262.1h0M1147.5 2261.1h0M1126.6 2227.5h0M1068.5 2264.1h0M1229.7 2196.3h0M1281.1 2210.8h0M1239.0 2220.1h0M1258.8 2243.4h0M1276.6 2192.3h0M1293.9 2248.3h0M1245.7 2251.8h0M1236.1 2213.6h0M1097.4 2162.3h0M1018.2 2216.4h0M1324.4 2247.2h0M1180.2 2247.8h0M1029.7 2254.6h0M1236.4 2086.3h0M1246.7 2171.6h0M1072.7 2214.6h0M1028.5 2218.5h0M1085.9 2184.8h0M1073.6 2190.8h0M1266.9 2257.4h0M1225.7 2239.9h0M1074.1 2255.3h0M1216.2 2222.7h0M1245.3 2123.8h0M1083.2 2203.8h0M1234.6 2070.9h0M1077.9 2203.3h0M1096.0 2242.6h0M1260.4 2203.7h0M1111.7 2200.8h0M1040.7 2229.8h0M1294.6 2248.4h0M1179.9 2236.2h0M1046.2 2236.8h0M1227.3 2206.8h0M1260.1 2226.9h0M1211.3 2192.7h0M1217.1 2259.2h0M1211.5 2254.4h0M1253.8 2178.7h0M1259.3 2256.2h0M1066.5 2213.4h0M1325.0 2251.5h0M1250.6 2090.6h0M1206.6 2199.5h0M1242.6 2237.9h0M1074.4 2255.4h0M1274.0 2244.1h0M1094.2 2168.2h0M1115.5 2200.8h0M1122.0 2232.7h0M1276.7 2215.9h0M1207.4 2127.7h0M1117.3 2195.2h0M1097.7 2226.0h0M1125.7 2257.1h0M1085.2 2224.5h0M1216.8 2140.2h0M1090.7 2185.1h0M1255.1 2215.4h0M1223.3 2111.3h0M1120.4 2237.3h0M1283.8 2189.8h0M1251.7 2137.6h0M1188.4 2240.6h0M1264.2 2190.5h0M1081.0 2242.0h0M1085.1 2258.7h0M1250.7 2175.9h0M1319.3 2226.5h0M1300.2 2188.0h0M1248.3 2099.8h0M1196.6 2204.2h0M1279.1 2223.7h0M1226.4 2198.6h0M1236.1 2059.6h0M1150.3 2262.6h0M1276.3 2234.7h0M1083.6 2187.6h0M1082.5 2170.8h0M1240.6 2220.0h0M1109.2 2194.7h0M1072.2 2220.7h0M1227.3 2089.3h0M1268.1 2187.1h0M1189.6 2198.1h0M1128.5 2248.9h0M1301.5 2183.2h0M1192.4 2209.9h0M1270.8 2213.6h0M1095.5 2223.5h0M1041.7 2241.1h0M1242.9 2215.5h0M1094.3 2248.2h0M1206.2 2237.1h0M1200.6 2176.2h0M1241.4 2205.2h0M1282.0 2260.9h0M1039.8 2211.7h0M1230.3 2178.6h0M1217.7 2209.1h0M1258.9 2248.3h0M1211.1 2239.7h0M1082.4 2247.0h0M1113.7 2249.3h0M1075.8 2251.7h0M1066.5 2217.7h0M1126.1 2238.8h0M1234.5 2232.7h0M1290.4 2264.8h0M1285.6 2234.9h0M1214.9 2198.9h0M1190.5 2205.9h0M1317.8 2242.1h0M1286.3 2214.6h0M1230.1 2087.6h0M1189.0 2251.7h0M1269.8 2237.6h0M1129.1 2238.4h0M1217.9 2209.6h0M1136.7 2227.4h0M1095.9 2226.4h0M1128.9 2223.4h0M1100.8 2171.3h0M1248.2 2092.9h0M1309.0 2195.2h0M1252.9 2189.1h0M1254.7 2072.2h0M1024.3 2257.5h0M1215.0 2238.6h0M1070.3 2210.1h0M1137.9 2255.2h0M1239.4 2224.0h0M1249.4 2164.2h0M1231.3 2180.6h0M1266.8 2226.5h0M1295.9 2236.4h0M1288.8 2217.1h0M1057.9 2236.5h0M1234.5 2093.4h0M1265.2 2264.9h0M1269.1 2207.8h0M1195.6 2224.5h0M1113.9 2241.9h0M1265.9 2180.1h0M1233.6 2107.6h0M1096.5 2249.3h0M1288.3 2241.7h0M1309.3 2195.2h0M1255.8 2115.9h0M1196.7 2204.3h0M1094.7 2201.5h0M1244.5 2134.6h0M1101.5 2159.0h0M1272.4 2226.1h0M1290.2 2183.6h0M1164.3 2261.3h0M1186.2 2256.9h0M1217.1 2224.0h0M1274.5 2224.3h0M1299.7 2225.4h0M1246.9 2087.8h0M1071.7 2194.0h0M1092.6 2243.7h0M1215.2 2124.1h0M1154.9 2260.4h0M1271.5 2201.3h0M1086.7 2182.0h0M1190.5 2251.8h0M1130.4 2210.5h0M1201.8 2155.7h0M1328.2 2236.9h0M1188.3 2263.3h0M1077.9 2238.7h0M1214.8 2108.4h0M1232.8 2073.3h0M1216.2 2122.9h0M1227.8 2154.0h0M1108.7 2241.4h0M1325.4 2264.9h0M1190.2 2225.0h0M1227.5 2094.8h0M1241.7 2254.6h0M1112.8 2264.6h0M1201.9 2263.8h0M1077.3 2187.1h0M1098.1 2210.4h0M1116.2 2230.4h0M1236.6 2076.6h0M1328.0 2228.7h0M1099.1 2225.4h0M1225.2 2081.9h0M1222.5 2133.2h0M1189.6 2195.8h0M1094.2 2249.9h0M1270.0 2222.1h0M1197.0 2221.8h0M1187.1 2261.5h0M1255.8 2103.5h0M1089.8 2217.3h0M1136.8 2228.8h0M1083.6 2184.4h0M1070.3 2258.6h0M1118.8 2211.0h0M1090.7 2234.9h0M1116.5 2204.4h0M1026.6 2208.4h0M1220.7 2154.7h0M1120.0 2204.6h0M1242.9 2230.0h0M1227.7 2143.7h0M1140.3 2262.4h0M1233.4 2196.1h0M1097.7 2241.9h0M1150.7 2265.0h0M1308.3 2226.8h0M1227.7 2116.5h0M1106.0 2176.4h0M1164.5 2262.8h0M1236.7 2043.3h0M1270.0 2237.7h0M1244.9 2127.9h0M1130.1 2245.1h0M1013.2 2231.4h0M1290.5 2252.0h0M1292.9 2255.5h0M1134.6 2265.2h0M1293.7 2238.0h0M1290.6 2182.0h0M1219.5 2167.7h0M1075.3 2219.8h0M1120.7 2224.2h0M1201.4 2231.5h0M1071.7 2241.2h0M1260.0 2198.2h0M1178.7 2232.0h0M1176.5 2257.3h0M1275.7 2202.5h0M1080.6 2232.0h0M1110.7 2196.1h0M1248.2 2221.1h0M1264.6 2207.2h0M1216.6 2220.2h0M1085.9 2254.5h0M1268.3 2223.4h0M1130.9 2231.2h0M1241.4 2077.8h0M1291.5 2229.1h0M1113.2 2249.3h0M1118.8 2190.6h0M1260.9 2255.1h0M1302.8 2231.8h0M1203.7 2262.7h0M1137.6 2264.9h0M1131.7 2243.1h0M1230.9 2229.4h0M1208.8 2235.4h0M1287.5 2245.3h0M1200.7 2226.9h0M1219.6 2177.2h0M1112.3 2233.2h0M1302.6 2181.8h0M1089.4 2240.8h0M1201.1 2260.8h0M1268.5 2242.2h0M1262.0 2180.4h0M1085.4 2187.8h0M1283.3 2232.1h0M1269.6 2243.0h0M1254.4 2068.8h0M1080.4 2256.7h0M1105.2 2207.5h0M1328.2 2240.4h0M1289.4 2189.9h0M1127.2 2213.7h0M1193.5 2257.6h0M1183.4 2247.7h0M1284.2 2229.5h0M1141.5 2245.4h0M1226.1 2190.6h0M1087.0 2219.0h0M1280.0 2202.3h0M1229.6 2177.2h0M1075.6 2204.4h0M1235.5 2122.7h0M1067.3 2243.3h0M1189.4 2228.4h0M1210.6 2217.0h0M1230.6 2148.3h0M1263.2 2246.3h0M1194.5 2230.4h0M1276.8 2256.2h0M1209.1 2124.2h0M1098.2 2246.5h0M1278.7 2264.0h0M1298.8 2193.9h0M1233.8 2084.8h0M1077.4 2233.5h0M1033.3 2226.9h0M1050.9 2244.1h0M1101.8 2160.3h0M1292.2 2227.5h0M1268.3 2185.7h0M1273.1 2245.8h0M1189.8 2197.8h0M1320.0 2220.4h0M1279.7 2205.6h0M1139.6 2257.3h0M1252.0 2195.3h0M1079.6 2197.1h0M1223.9 2168.7h0M1265.5 2203.2h0M1125.8 2258.3h0M1100.9 2210.1h0M1133.4 2252.1h0M1152.9 2261.1h0M1093.8 2211.3h0M1205.7 2248.0h0M1262.3 2191.1h0M1265.3 2195.2h0M1318.9 2259.2h0M1291.1 2252.6h0M1070.9 2249.3h0M1281.5 2185.4h0M1076.2 2192.8h0M1195.6 2243.6h0M1263.6 2202.8h0M1085.5 2200.6h0M1131.7 2261.0h0M1219.2 2239.1h0M1189.4 2257.7h0M1282.2 2261.1h0M1092.0 2240.5h0M1092.6 2220.1h0M1131.7 2216.7h0M1263.3 2247.4h0M1138.4 2262.4h0M1259.6 2224.4h0M1069.4 2195.4h0M1192.3 2215.0h0M1090.9 2179.2h0M1295.6 2264.3h0M1214.0 2124.8h0M1163.4 2263.8h0M1241.6 2220.5h0M1219.0 2152.9h0M1116.7 2236.4h0M1104.4 2230.5h0M1187.8 2257.2h0M1247.5 2087.9h0M1130.8 2237.4h0M1108.7 2227.6h0M1220.2 2196.6h0M1255.3 2243.8h0M1293.5 2227.5h0M1257.7 2252.3h0M1179.2 2229.4h0M1301.0 2217.1h0M1146.1 2259.7h0M1306.9 2219.2h0M1240.8 2058.2h0M1242.6 2185.5h0M1083.7 2256.6h0M1074.6 2252.5h0M1276.5 2243.7h0M1089.6 2260.7h0M1251.1 2081.8h0M1290.1 2259.9h0M1235.4 2106.2h0M1101.5 2243.8h0M1200.6 2232.6h0M1218.9 2128.5h0M1132.4 2207.8h0M1100.2 2164.5h0M1094.8 2205.0h0M1077.7 2204.6h0M1272.8 2258.6h0M1290.1 2243.1h0M1210.5 2193.0h0M1241.8 2121.5h0M1221.2 2257.7h0M1073.6 2229.2h0M1236.2 2118.7h0M1178.0 2233.5h0M1282.3 2201.5h0M1242.3 2086.4h0M1295.2 2197.6h0M1130.7 2205.5h0M1284.1 2250.7h0M1080.3 2255.8h0M1084.0 2233.3h0M1285.4 2242.4h0M1139.2 2248.4h0M1134.4 2216.1h0M1132.8 2204.9h0M1085.6 2263.0h0M1199.5 2237.1h0M1104.4 2222.8h0M1272.8 2218.1h0M1273.8 2218.9h0M1097.6 2245.3h0M1240.1 2088.2h0M1214.4 2112.3h0M1273.7 2237.3h0M1310.9 2257.9h0M1119.3 2188.1h0M1220.0 2102.0h0M1262.6 2225.7h0M1256.7 2244.0h0M1211.6 2225.5h0M1232.2 2240.1h0M1119.7 2183.2h0M1215.5 2104.9h0M1068.2 2232.1h0M1263.2 2244.9h0M1110.2 2228.6h0M1219.9 2209.1h0M1207.5 2236.0h0M1120.1 2257.7h0M1281.4 2182.2h0M1281.6 2215.4h0M1096.3 2258.8h0M1186.7 2232.7h0M1142.3 2245.4h0M1269.8 2255.4h0M1205.0 2131.6h0M1256.3 2093.6h0M1226.2 2095.8h0M1278.1 2244.1h0M1197.8 2233.2h0M1257.2 2201.0h0M1194.5 2211.0h0M1331.6 2245.0h0M1189.9 2189.3h0M1212.8 2160.7h0M1183.8 2212.8h0M1294.3 2197.4h0M1269.8 2232.6h0M1084.9 2213.0h0M1207.1 2181.2h0M1318.6 2233.2h0M1136.2 2225.1h0M1068.4 2207.9h0M1313.3 2246.5h0M1310.9 2241.3h0M1062.2 2244.7h0M1237.7 2237.3h0M1270.2 2253.1h0M1276.3 2246.7h0M1085.8 2178.3h0M1278.1 2199.4h0M1261.0 2193.7h0M1280.6 2238.4h0M1232.2 2097.2h0M1194.6 2241.2h0M1186.8 2207.8h0M1298.4 2205.4h0M1228.8 2121.4h0M1258.8 2257.0h0M1102.8 2211.1h0M1274.6 2256.2h0M1124.4 2253.2h0M1225.7 2189.9h0M1156.8 2263.5h0M1090.0 2193.5h0M1264.6 2205.2h0M1106.4 2185.6h0M1081.0 2238.9h0M1290.3 2224.0h0M1194.6 2240.7h0M1095.3 2215.5h0M1259.5 2228.2h0M1299.3 2254.8h0M1217.0 2112.1h0M1224.6 2170.3h0M1104.7 2212.2h0M1322.6 2213.1h0M1218.2 2195.7h0M1331.2 2227.4h0M1276.0 2194.1h0M1080.8 2221.6h0M1144.4 2250.1h0M1247.4 2080.0h0M1083.3 2225.4h0M1197.7 2163.3h0M1216.0 2247.7h0M1199.9 2151.2h0M1146.7 2255.4h0M1202.4 2211.9h0M1092.5 2216.9h0M1193.4 2260.5h0M1264.0 2245.1h0M1263.3 2219.1h0M1183.6 2261.8h0M1227.0 2195.4h0M1109.3 2212.1h0M1222.8 2257.4h0M1168.9 2261.4h0M1213.5 2190.7h0M1087.0 2247.0h0M1274.7 2203.8h0M1123.9 2220.3h0M1222.7 2162.9h0M1073.4 2203.3h0M1183.5 2259.9h0M1119.7 2195.9h0M1291.8 2203.5h0M1109.1 2197.2h0M1108.2 2230.3h0M1257.0 2106.9h0M1329.8 2224.3h0M1113.5 2196.7h0M1189.3 2228.1h0M1082.3 2265.3h0M1095.4 2189.3h0M1217.0 2143.8h0M1227.4 2166.9h0M1204.6 2238.9h0M1112.1 2256.9h0M1124.2 2221.8h0M1067.7 2257.0h0M1254.0 2246.3h0M1093.1 2239.0h0M1296.8 2241.0h0M1253.5 2154.2h0M1094.1 2171.6h0M1115.4 2228.1h0M1301.3 2193.5h0M1111.5 2184.4h0M1099.7 2252.4h0M1130.3 2252.3h0M1092.5 2221.6h0M1110.2 2193.3h0M1245.2 2085.4h0M1266.9 2224.5h0M1118.2 2190.3h0M1207.9 2129.5h0M1297.7 2205.1h0M1088.7 2180.7h0M1124.9 2215.3h0M1080.4 2262.6h0M1151.3 2260.9h0M1079.0 2262.2h0M1034.4 2264.2h0M1057.7 2264.7h0M1182.6 2264.6h0M1263.8 2265.0h0M1211.5 2261.5h0M1060.4 2264.4h0M1254.7 2263.3h0M1305.6 2263.9h0M1143.0 2261.1h0M1126.5 2261.0h0M1293.1 2264.5h0M1188.0 2261.1h0M1057.6 2261.6h0M1257.5 2262.0h0M1204.7 2264.9h0M1313.6 2264.9h0M1260.4 2262.1h0M1118.4 2262.3h0M1146.8 2262.0h0M1035.0 2261.2h0M1138.9 2261.8h0M1165.4 2261.7h0M1113.5 2262.9h0M1029.5 2263.2h0M1045.9 2261.5h0M1228.0 2263.5h0M1318.4 2261.1h0M1313.1 2265.0h0M1236.2 2262.1h0M1206.3 2265.3h0M1303.1 2263.4h0M1203.0 2261.7h0M1105.6 2265.3h0M1302.9 2264.2h0M1034.3 2264.8h0M1324.7 2262.0h0M1085.7 2264.7h0M1295.1 2262.4h0M1199.3 2264.8h0M1147.6 2261.1h0M1022.8 2263.5h0M1039.2 2260.9h0M1053.6 2261.1h0M1277.9 2262.1h0M1034.7 2262.2h0M1171.9 2263.2h0M1066.0 2263.1h0M1266.0 2264.8h0M1288.5 2263.5h0M1102.8 2264.3h0M1161.8 2262.5h0M1195.3 2261.4h0M1177.5 2263.1h0M1322.9 2264.4h0M1026.9 2263.9h0M1117.2 2264.8h0M1149.1 2265.2h0M1302.1 2263.2h0M1289.3 2262.2h0M1244.0 2262.0h0M1113.6 2262.1h0M1084.5 2262.9h0M1203.1 2261.9h0M1072.9 2263.8h0M1272.7 2261.8h0M1319.5 2264.9h0M1085.8 2264.9h0M1242.1 2262.0h0M1219.1 2261.9h0M1178.9 2262.9h0M1302.2 2262.5h0M1221.5 2262.7h0M1172.2 2262.0h0M1196.1 2264.8h0M1151.5 2263.5h0M1153.4 2262.9h0M1131.9 2263.6h0M1151.8 2263.7h0M1317.7 2265.0h0M1027.0 2262.1h0M1142.1 2263.4h0M1202.0 2263.7h0M1094.6 2265.3h0M1287.8 2261.1h0M1108.9 2263.3h0M1120.4 2265.1h0M1293.6 2261.6h0M1095.2 2264.2h0M1234.4 2261.8h0M1164.8 2263.6h0M1092.9 2261.8h0M1284.7 2261.5h0M1056.6 2262.7h0M1321.7 2262.2h0M1161.6 2264.7h0M1040.2 2262.1h0M1042.7 2261.7h0M1224.5 2263.3h0M1293.2 2261.2h0M1209.5 2264.9h0M1201.0 2263.5h0M1097.8 2261.2h0M1244.1 2264.8h0M1091.5 2263.8h0M1196.2 2263.9h0M1155.6 2261.7h0M1077.2 2262.1h0M1122.5 2261.1h0M1311.6 2263.9h0M1206.3 2264.9h0M1146.8 2262.6h0M1216.1 2263.8h0M1032.1 2264.8h0M1192.4 2264.6h0M1115.0 2262.6h0M1296.0 2263.1h0M1099.3 2262.7h0M1105.7 2261.9h0M1069.3 2264.2h0M1155.3 2261.3h0M1072.2 2264.5h0M1061.9 2264.4h0M1123.0 2263.6h0M1253.1 2263.6h0M1166.4 2263.6h0M1257.5 2261.3h0M1151.3 2261.2h0M1098.1 2261.0h0M1181.7 2262.3h0M1137.9 2264.2h0M1063.0 2261.4h0M1131.3 2262.2h0M1162.1 2263.0h0M1084.8 2264.6h0M1124.2 2262.3h0M1187.2 2265.4h0M1238.2 2263.4h0M1042.8 2264.2h0M1086.2 2261.7h0M1189.3 2263.9h0M1097.5 2264.1h0M1107.1 2263.8h0M1262.5 2261.8h0M1234.3 2261.4h0M1220.9 2264.9h0M1035.4 2264.7h0M1100.4 2263.0h0M1272.1 2262.7h0M1152.6 2264.3h0M1320.7 2262.0h0M1125.7 2265.2h0M1320.7 2264.2h0M1279.9 2264.9h0M1220.6 2263.8h0M1292.4 2264.1h0M1052.5 2264.5h0M1267.1 2261.0h0M1217.5 2262.3h0M1107.7 2264.2h0M1048.2 2260.9h0M1035.0 2262.6h0M1128.3 2264.6h0M1154.5 2261.2h0M1097.2 2264.7h0M1213.4 2262.4h0M1177.3 2264.6h0M1287.9 2264.9h0M1074.8 2264.3h0M1178.2 2263.2h0M1190.4 2262.1h0M1294.0 2263.3h0M1034.6 2261.6h0M1027.4 2264.0h0M1065.4 2262.7h0M1259.8 2264.8h0M1111.4 2261.5h0M1231.6 2264.9h0M1230.8 2261.8h0M1146.2 2264.7h0M1222.4 2264.0h0M1062.5 2264.7h0M1144.3 2264.8h0M1139.1 2262.9h0M1189.9 2263.6h0M1265.4 2265.0h0M1122.2 2261.2h0M1284.9 2261.2h0M1254.8 2263.0h0M1261.6 2262.8h0M1057.6 2264.2h0M1051.5 2261.4h0M1119.9 2263.6h0M1185.7 2264.9h0M1236.7 2261.8h0M1264.2 2261.4h0M1118.4 2264.7h0M1253.7 2262.3h0M1134.9 2263.8h0M1068.6 2261.6h0M1162.0 2261.7h0M1125.2 2263.9h0M1178.1 2262.0h0M1290.5 2263.8h0M1232.9 2263.6h0M1284.1 2262.0h0M1190.9 2263.8h0M1105.2 2261.4h0M1265.6 2264.0h0M1047.6 2264.5h0M1315.3 2265.2h0M1268.4 2263.0h0M1190.5 2263.0h0M1146.7 2262.9h0M1049.2 2261.2h0M1053.1 2264.8h0M1226.5 2262.5h0M1267.4 2262.3h0M1305.1 2265.2h0M1025.1 2264.3h0M1258.9 2264.7h0M1183.5 2261.9h0M1069.4 2263.0h0M1296.0 2262.0h0M1143.0 2263.2h0M1106.4 2261.0h0M1260.1 2262.3h0M1114.4 2262.1h0M1222.5 2024.9h0M1224.7 2006.2h0M1243.9 2065.3h0M1235.3 2027.8h0M1240.5 2060.9h0M1237.2 2031.2h0M1244.6 2051.8h0M1252.0 1968.7h0M1228.7 2035.4h0M1248.0 2065.4h0M1256.6 2026.5h0M1228.7 2027.8h0M1233.0 2028.8h0M1234.6 1999.3h0M1211.9 2058.9h0M1240.3 2000.7h0M1250.6 1958.8h0" fill="none" stroke="#1e1e1e" stroke-width="15.2" stroke-linecap="round"/><path d="M247.0 1769.0h0M517.0 1671.5h0M1058.0 1688.0h0M1016.7 1910.5h0M1047.6 1952.4h0M1054.7 2000.3h0M1021.8 2009.1h0M999.2 2014.7h0M1022.4 2027.5h0M1022.4 2033.1h0M1033.1 2039.7h0M1022.4 2047.3h0M992.1 2070.0h0M990.1 2073.4h0M1042.2 2077.1h0M1007.1 2104.0h0M1017.6 2106.8h0M1033.1 2111.0h0M1041.6 2117.6h0M941.9 2120.1h0M1009.9 2122.9h0M982.2 2125.8h0M992.1 2131.7h0M1030.9 2126.6h0M1054.4 2128.9h0M1024.6 2135.1h0M1060.1 2142.2h0M1027.5 2149.3h0M1054.4 2150.7h0M930.6 2155.8h0M1028.9 2158.4h0M1054.4 2156.4h0M998.6 2163.5h0M1048.7 2169.1h0M999.2 2173.4h0M1047.3 2174.8h0" fill="none" stroke="#00b93c" stroke-width="15.2" stroke-linecap="round"/><path d="M1310.3 1305.7h0M1354.5 1305.7h0M1381.7 1306.3h0M1386.5 1305.1h0M1312.9 1331.2h0M1399.3 1338.3h0M1338.4 1415.6h0M1357.1 1411.6h0M1451.1 1411.6h0M1383.4 1446.5h0M1371.2 1470.8h0M1310.6 1479.9h0M1413.2 1513.1h0M1347.5 1519.3h0M1335.6 1536.9h0M1452.3 1546.2h0M1353.1 1558.4h0M1318.6 1575.1h0M1338.4 1580.8h0M1319.7 1590.1h0M1369.3 1600.0h0M1343.2 1616.7h0M1272.4 1627.2h0M1308.1 1628.6h0M1315.2 1630.1h0M1457.9 1640.5h0M1335.3 1642.5h0M1344.1 1651.0h0M1284.8 1649.6h0M1295.9 1651.6h0M1264.2 1675.7h0M1307.5 1699.7h0M1316.0 1709.1h0M1301.0 1717.3h0M1367.6 1693.2h0M1378.9 1703.1h0M1402.1 1711.6h0M1535.0 1731.8h0M1289.7 1732.9h0M1305.2 1738.0h0M1321.7 1744.2h0M1421.4 1737.4h0M1368.4 1754.1h0M1387.1 1755.3h0M1331.3 1762.9h0M1260.8 1753.6h0M1264.2 1762.1h0M1268.7 1769.7h0M1352.5 1771.1h0M1348.6 1777.6h0M1371.2 1771.4h0M1529.0 1773.7h0M1384.0 1784.7h0M1267.0 1781.9h0M1272.7 1787.6h0M1261.3 1789.0h0M1284.0 1794.6h0M1295.3 1798.9h0M1308.1 1794.6h0M1310.9 1800.3h0M1306.7 1807.4h0M1264.2 1802.3h0M1282.6 1806.0h0M1334.4 1794.9h0M1342.1 1794.9h0M1350.6 1794.9h0M1469.8 1822.7h0M1276.9 1821.6h0M1269.8 1827.2h0M1278.3 1831.5h0M1262.7 1831.5h0M1292.5 1827.8h0M1298.2 1826.7h0M1318.0 1827.8h0M1329.3 1823.0h0M1333.6 1830.1h0M1340.7 1834.3h0M1320.8 1840.8h0M1257.1 1844.8h0M1274.1 1851.3h0M1282.6 1858.4h0M1278.3 1865.5h0M1302.4 1857.0h0M1308.1 1860.4h0M1314.6 1864.9h0M1330.2 1858.7h0M1344.1 1867.2h0M1374.6 1860.7h0M1430.2 1866.9h0M1495.0 1863.2h0M1297.6 1874.0h0M1284.0 1879.6h0M1420.8 1883.3h0M1300.4 1890.4h0M1279.7 1893.8h0M1265.6 1900.9h0M1272.7 1909.4h0M1296.7 1902.3h0M1292.5 1910.8h0M1310.9 1900.9h0M1315.2 1908.0h0M1330.7 1899.5h0M1330.7 1908.0h0M1420.5 1900.0h0M1347.7 1918.7h0M1286.8 1919.3h0M1279.7 1924.1h0M1306.7 1926.4h0M1319.4 1923.5h0M1263.6 1928.4h0M1318.0 1916.5h0M1366.1 1942.5h0M1356.2 1947.6h0M1367.6 1954.1h0M1417.1 1952.7h0M1423.4 1958.4h0M1399.6 1962.4h0M1283.4 1951.9h0M1265.6 1956.1h0M1261.3 1964.6h0M1267.0 1968.9h0M1285.4 1964.6h0M1301.0 1960.9h0M1321.4 1964.6h0M1286.8 1971.7h0M1332.2 1974.5h0M1341.2 1981.6h0M1309.5 1977.4h0M1310.9 1984.4h0M1296.7 1984.4h0M1292.5 1990.1h0M1394.5 1980.8h0M1444.1 1977.9h0M1486.8 1986.7h0M1288.2 1998.6h0M1298.2 2004.3h0M1296.7 2012.8h0M1359.1 2006.5h0M1348.6 2014.2h0M1447.2 2003.7h0M1442.6 2012.8h0M1432.7 2009.4h0M1428.5 2017.9h0M1320.8 2014.2h0M1319.4 2029.8h0M1301.0 2021.3h0M1299.6 2035.4h0M1267.0 2014.2h0M1275.5 2018.4h0M1279.7 2025.5h0M1267.0 2028.4h0M1265.6 2036.9h0M1286.8 2038.3h0M1339.5 2034.9h0M1369.0 2031.2h0M1363.3 2038.3h0M1387.4 2034.0h0M1386.0 2039.7h0M1424.8 2032.6h0M1361.9 2052.4h0M1400.1 2051.6h0M1312.3 2045.4h0M1325.1 2056.7h0M1278.3 2055.3h0M1262.7 2056.7h0M1274.1 2063.8h0M1361.9 2062.4h0M1397.3 2065.2h0M1455.4 2062.4h0M1301.0 2068.0h0M1443.2 2076.5h0M1367.6 2079.3h0M1346.3 2075.1h0M1350.6 2082.2h0M1325.1 2079.3h0M1301.0 2070.8h0M1389.4 2096.3h0M1415.7 2097.7h0M1421.4 2109.9h0M1590.8 2110.5h0M1357.6 2103.4h0M1346.3 2107.6h0M1316.6 2090.7h0M1306.7 2100.6h0M1310.9 2107.6h0M1322.2 2116.1h0M1284.0 2104.8h0M1292.5 2096.3h0M1267.0 2082.2h0M1278.3 2085.0h0M1267.0 2096.3h0M1261.3 2113.3h0M1258.5 2077.9h0M1271.2 2089.2h0M1284.0 2082.2h0M1295.3 2085.0h0M1296.7 2090.7h0M1398.7 2132.6h0M1442.1 2131.7h0M1354.8 2126.1h0M1335.0 2124.6h0M1344.9 2136.0h0M1303.8 2124.6h0M1320.8 2124.6h0M1322.2 2133.1h0M1308.1 2138.8h0M1364.7 2138.8h0M1371.8 2144.5h0M1377.5 2149.6h0M1284.0 2130.3h0M1286.8 2141.6h0M1267.0 2127.5h0M1269.8 2138.8h0M1261.3 2147.3h0M1275.5 2155.8h0M1306.7 2147.3h0M1318.0 2153.0h0M1335.0 2155.8h0M1359.1 2154.4h0M1354.8 2164.3h0M1299.6 2158.6h0M1298.2 2167.1h0M1310.9 2164.3h0M1332.2 2165.7h0M1343.5 2167.1h0M1378.3 2168.6h0M1279.7 2167.1h0M1267.0 2164.3h0M1357.6 2172.8h0M1305.2 2175.6h0M1286.8 2117.6h0M1276.9 2133.1h0M1326.5 2143.1h0M1262.9 2170.7h0M1341.4 2118.9h0M1291.3 2126.9h0M1271.1 2085.7h0M1265.3 2067.2h0M1328.6 2162.6h0M1274.4 2053.7h0M1267.7 2129.9h0M1273.4 2012.3h0M1279.6 1912.5h0M1294.2 2099.7h0M1267.6 1988.1h0M1324.7 2120.1h0M1339.5 2150.4h0M1290.5 1977.4h0M1313.7 2087.3h0M1267.9 2156.8h0M1301.4 2152.1h0M1281.8 2119.7h0M1298.7 2172.2h0M1284.9 2162.9h0M1264.8 2143.1h0M1282.3 2008.3h0M1318.4 2153.4h0M1329.2 2172.0h0M1261.1 2127.4h0M1319.2 2170.7h0M1289.0 2084.2h0M1263.9 2054.3h0M1276.4 2161.2h0M1306.3 2133.5h0M1279.6 2154.9h0M1305.4 2121.2h0M1271.5 2013.9h0M1296.7 2152.2h0M1309.3 2112.4h0M1296.4 1923.1h0M1317.3 2062.1h0M1304.4 2126.4h0M1301.6 2031.0h0M1303.3 2108.8h0M1325.7 2078.9h0M1271.0 2117.7h0M1278.7 2093.0h0M1304.9 1946.5h0M1315.8 2132.8h0M1261.3 2147.4h0M1308.9 2144.2h0M1312.4 2055.7h0M1303.5 1894.1h0M1259.7 2115.4h0M1310.6 2149.9h0M1331.9 2130.3h0M1275.6 2136.1h0M1261.1 2108.0h0M1261.5 1907.8h0M1321.8 2062.2h0M1276.5 2168.8h0M1259.6 2116.2h0M1312.7 2072.7h0M1268.6 2150.0h0M1295.3 2128.4h0M1299.7 2142.1h0M1297.3 2021.7h0" fill="none" stroke="#f03223" stroke-width="15.2" stroke-linecap="round"/><path d="M1247.4 1748.6h0M1250.5 1839.0h0M1253.5 1861.0h0M1254.2 1998.6h0M1255.1 2015.0h0M1254.2 2041.1h0M1255.7 2065.2h0M1079.0 2015.3h0M1062.3 2023.5h0M1083.3 2075.9h0M1113.9 2084.7h0M1108.2 2101.7h0M1105.4 2106.2h0M1096.9 2114.7h0M1120.4 2137.4h0M1079.3 2126.6h0M1070.0 2136.5h0M1084.1 2138.0h0M1095.5 2135.1h0M1092.6 2145.0h0M1106.8 2155.8h0M1067.1 2160.6h0M1077.1 2169.1h0M1116.7 2166.3h0M963.7 2194.6h0M990.7 2201.7h0M994.9 2213.0h0M1002.0 2183.3h0M1017.6 2184.7h0M1021.8 2194.6h0M1027.5 2204.5h0M1040.2 2180.5h0M1047.3 2189.0h0M1054.4 2197.5h0M1011.9 2211.6h0M1019.0 2220.1h0M1034.6 2221.5h0M1009.1 2230.0h0M1007.6 2239.9h0M1019.0 2238.5h0M1003.4 2263.5h0M1033.1 2254.1h0M1038.8 2265.4h0M1045.9 2266.9h0M1243.3 1953.8h0M1211.6 1972.2h0M1245.0 1968.0h0M1249.9 1977.9h0M1220.1 1989.2h0M1228.6 1985.0h0M1230.0 1993.5h0M1254.1 1997.7h0M1244.2 2007.6h0M1238.5 2013.3h0M1254.1 2016.1h0M1238.5 2024.1h0M1216.4 2038.0h0M1244.2 2040.2h0M1235.7 2045.9h0M1242.8 2054.4h0M1206.5 2062.3h0M1215.9 2067.1h0M1225.8 2062.9h0M1237.1 2060.1h0M1254.1 2067.1h0M1225.8 2075.6h0M1237.1 2079.9h0M1200.3 2088.4h0M1251.3 2087.0h0M1228.6 2094.1h0M1242.8 2095.5h0M1207.4 2105.4h0M1203.1 2111.0h0M1215.9 2109.6h0M1211.6 2121.0h0M1196.0 2142.2h0M1391.1 2181.3h0M1444.1 2204.5h0M1378.3 2219.5h0M1422.8 2232.3h0M1370.4 2240.8h0M1344.9 2245.0h0M1353.4 2249.3h0M1354.8 2255.0h0M1416.3 2254.1h0M1396.5 2262.0h0M1327.9 2259.2h0M1316.6 2264.9h0M1318.0 2178.5h0M1285.4 2179.9h0M1265.6 2179.9h0M1337.8 2181.3h0M1347.7 2187.0h0M1329.3 2195.5h0M1318.0 2198.3h0M1332.2 2205.4h0M1292.5 2201.1h0M1327.9 2219.5h0M1329.3 2235.1h0M1322.2 2246.5h0" fill="none" stroke="#1e1e1e" stroke-width="15.2" stroke-linecap="round"/>
<rect x="181.7" y="1257" width="1475.3" height="1055" fill="none" stroke="#262626" stroke-width="3.6"/>
<line x1="668.3" y1="2312" x2="668.3" y2="2321" stroke="#333" stroke-width="3"/>
<text x="668.3" y="2347.5" font-size="26" text-anchor="middle" class="g">−5</text>
<line x1="1159.3" y1="2312" x2="1159.3" y2="2321" stroke="#333" stroke-width="3"/>
<text x="1159.3" y="2347.5" font-size="26" text-anchor="middle" class="g">0</text>
<line x1="1650.3" y1="2312" x2="1650.3" y2="2321" stroke="#333" stroke-width="3"/>
<text x="1650.3" y="2347.5" font-size="26" text-anchor="middle" class="g">5</text>
<line x1="172.7" y1="2265.4" x2="181.7" y2="2265.4" stroke="#333" stroke-width="3"/>
<text x="165.7" y="2274.9" font-size="26" text-anchor="end" class="g">0</text>
<line x1="172.7" y1="2038.9" x2="181.7" y2="2038.9" stroke="#333" stroke-width="3"/>
<text x="165.7" y="2048.4" font-size="26" text-anchor="end" class="g">5</text>
<line x1="172.7" y1="1812.4" x2="181.7" y2="1812.4" stroke="#333" stroke-width="3"/>
<text x="165.7" y="1821.9" font-size="26" text-anchor="end" class="g">10</text>
<line x1="172.7" y1="1585.9" x2="181.7" y2="1585.9" stroke="#333" stroke-width="3"/>
<text x="165.7" y="1595.4" font-size="26" text-anchor="end" class="g">15</text>
<line x1="172.7" y1="1359.4" x2="181.7" y2="1359.4" stroke="#333" stroke-width="3"/>
<text x="165.7" y="1368.9" font-size="26" text-anchor="end" class="g">20</text>
<text x="181.7" y="1233.5" font-size="37.6" text-anchor="start">Volcano plot</text>
<text x="212" y="1345.4" font-size="47.9" text-anchor="start" class="b">EgLL vs EgHL</text>
<text x="919" y="2381" font-size="32.1" text-anchor="middle">log2(FC)</text>
<text transform="translate(122,1786.5) rotate(-90)" font-size="31.2" text-anchor="middle">−log10(FDR)</text>
<text x="1708" y="1716" font-size="31.2" text-anchor="start">Significant</text>
<circle cx="1731.5" cy="1758.5" r="7.6" fill="#f03223"/>
<text x="1774" y="1767.5" font-size="26.0" text-anchor="start">Up(307)</text>
<circle cx="1731.5" cy="1807.0" r="7.6" fill="#00b93c"/>
<text x="1774" y="1816.0" font-size="26.0" text-anchor="start">Down(40)</text>
<circle cx="1731.5" cy="1855.5" r="7.6" fill="#1e1e1e"/>
<text x="1774" y="1864.5" font-size="26.0" text-anchor="start">Normal(21778)</text>
</g>
<g>
<line x1="877.1" y1="2463.4" x2="877.1" y2="3528.2" stroke="#2a2a2a" stroke-width="1.9" stroke-dasharray="5.5 4.5"/>
<line x1="1005.3" y1="2463.4" x2="1005.3" y2="3528.2" stroke="#2a2a2a" stroke-width="1.9" stroke-dasharray="5.5 4.5"/>
<line x1="179.8" y1="3468.6" x2="1663" y2="3468.6" stroke="#2a2a2a" stroke-width="1.9" stroke-dasharray="5.5 4.5"/>
<path d="M713.3 3263.9h0M837.4 3248.6h0M832.9 3252.0h0M825.8 3270.4h0M807.4 3282.3h0M842.2 3282.3h0M773.4 3305.5h0M749.6 3311.5h0M746.5 3322.0h0M822.4 3318.6h0M828.9 3321.4h0M781.3 3334.4h0M795.5 3335.6h0M805.4 3331.3h0M798.3 3342.6h0M816.7 3337.0h0M821.0 3346.9h0M853.5 3346.0h0M735.1 3345.5h0M735.1 3358.2h0M748.7 3361.0h0M753.0 3369.5h0M765.7 3356.8h0M771.4 3354.0h0M781.3 3355.4h0M812.5 3361.0h0M829.5 3360.5h0M798.3 3368.1h0M849.3 3356.8h0M872.0 3358.8h0M863.5 3366.7h0M655.8 3358.8h0M658.6 3382.3h0M671.7 3379.5h0M665.7 3409.2h0M678.5 3420.0h0M695.5 3421.1h0M700.6 3400.7h0M716.1 3393.6h0M731.7 3385.1h0M743.1 3380.9h0M762.9 3382.3h0M775.6 3383.7h0M727.5 3409.2h0M738.8 3407.8h0M685.0 3439.0h0M685.0 3454.5h0M700.6 3433.3h0M700.6 3465.9h0M719.0 3433.3h0M707.6 3446.0h0M245.1 3379.3h0M325.2 3410.0h0M363.1 3417.8h0M857.8 3443.2h0M781.6 3446.5h0M857.3 3465.2h0M874.2 3446.4h0M732.0 3387.3h0M762.9 3420.8h0M844.1 3463.3h0M778.1 3450.8h0M832.1 3447.2h0M741.5 3464.2h0M783.2 3446.0h0M787.6 3445.4h0M806.7 3458.4h0M832.5 3460.9h0M854.5 3450.7h0M821.6 3436.3h0M862.4 3412.8h0M865.4 3468.2h0M855.0 3422.0h0M862.7 3460.3h0M795.0 3453.7h0M777.0 3466.7h0M824.1 3430.3h0M779.5 3467.8h0M849.4 3417.8h0M790.4 3455.2h0M728.5 3447.3h0M774.5 3460.1h0M824.1 3447.6h0M828.7 3457.3h0M729.8 3436.5h0M842.8 3407.2h0M750.6 3413.4h0M872.8 3462.8h0M761.1 3419.0h0M853.6 3464.8h0M800.0 3452.3h0M854.8 3435.8h0M811.1 3462.6h0M767.5 3459.6h0M853.2 3461.2h0M845.8 3423.8h0M765.6 3463.2h0M843.1 3467.5h0M738.6 3434.3h0M838.6 3408.6h0M797.9 3443.7h0M767.3 3464.7h0M812.5 3439.2h0M812.9 3462.9h0M729.0 3419.9h0M853.4 3465.9h0M855.6 3461.6h0M807.6 3411.7h0M863.1 3460.5h0M833.2 3445.0h0M866.6 3452.6h0M844.0 3440.2h0M867.4 3424.9h0M695.4 3453.4h0M860.4 3414.8h0M728.2 3448.1h0M772.7 3452.5h0M853.9 3459.2h0M820.4 3455.4h0M850.9 3448.1h0M872.2 3453.3h0M832.4 3465.3h0M867.7 3439.5h0M774.4 3462.4h0M858.2 3443.6h0M817.1 3466.5h0M828.9 3397.2h0M831.9 3424.5h0M812.4 3462.3h0M867.6 3431.0h0M834.6 3467.3h0M822.1 3434.6h0M759.4 3365.2h0M785.4 3442.9h0M851.9 3461.6h0M863.3 3446.6h0M792.0 3453.3h0M832.8 3456.0h0M807.3 3448.9h0M866.3 3467.9h0M813.2 3429.4h0M818.3 3433.0h0M866.1 3454.8h0M855.6 3459.1h0M859.3 3456.2h0M860.7 3463.1h0M795.3 3434.0h0M836.3 3458.9h0M727.6 3446.8h0M865.0 3462.2h0M720.6 3434.0h0M805.6 3450.4h0M846.5 3455.8h0M839.7 3459.8h0M824.0 3451.6h0M836.7 3460.8h0M781.1 3459.2h0M850.2 3449.5h0M817.2 3429.3h0M793.7 3455.4h0M861.8 3436.1h0M826.5 3440.4h0M858.7 3463.3h0M772.7 3425.9h0M818.3 3455.6h0M857.6 3452.6h0M720.4 3459.5h0M846.0 3439.6h0M810.1 3371.8h0M832.4 3462.6h0M843.6 3452.1h0M824.2 3423.9h0M834.3 3451.5h0M853.4 3430.7h0M862.0 3428.2h0M867.7 3458.2h0M850.1 3424.5h0M851.2 3450.5h0M866.5 3460.3h0M838.9 3452.9h0M797.2 3435.9h0M807.5 3402.4h0M834.8 3456.2h0M818.4 3464.5h0M863.2 3416.7h0M863.0 3459.5h0M831.8 3439.5h0M853.6 3468.1h0M820.4 3461.8h0M800.9 3439.6h0M841.0 3451.9h0M845.6 3463.2h0M828.9 3459.3h0M749.4 3418.7h0M834.1 3425.7h0M826.8 3404.1h0M849.9 3422.5h0M849.4 3460.5h0M781.9 3458.6h0M804.3 3433.8h0M802.9 3393.8h0M843.6 3439.0h0M824.1 3454.9h0M798.7 3412.6h0M856.6 3454.3h0M857.7 3459.5h0M833.5 3461.0h0M832.7 3462.9h0M843.1 3465.6h0M809.2 3468.0h0M785.1 3438.3h0M819.4 3452.9h0M844.7 3456.3h0M784.0 3371.2h0M851.0 3468.2h0M842.3 3412.8h0M860.0 3434.8h0M837.7 3435.9h0M709.1 3425.2h0M855.7 3457.1h0M794.7 3463.6h0M860.7 3452.7h0M817.3 3403.4h0M758.9 3453.5h0M813.8 3466.1h0M873.2 3459.5h0M765.7 3460.4h0M792.0 3460.4h0M816.6 3440.2h0M822.2 3437.7h0M875.2 3407.1h0M864.9 3448.9h0M827.8 3396.5h0M788.9 3464.7h0M822.8 3466.5h0M809.6 3434.5h0M820.7 3423.5h0M852.3 3449.5h0M756.5 3467.6h0M847.7 3422.9h0M782.6 3444.8h0M841.3 3441.0h0M860.1 3464.3h0M843.4 3467.1h0M803.5 3450.5h0M857.4 3433.3h0M783.2 3452.9h0M830.4 3462.5h0M858.0 3459.6h0M749.9 3422.5h0M868.0 3462.7h0M734.3 3468.1h0M802.2 3427.9h0M802.2 3441.2h0M842.1 3419.0h0M844.6 3463.2h0M816.5 3457.2h0M849.7 3463.9h0M740.7 3460.0h0M869.1 3468.4h0M789.2 3443.9h0M832.8 3445.7h0M858.4 3467.5h0M839.4 3423.3h0M790.4 3425.9h0M837.2 3440.3h0M734.6 3412.4h0M774.0 3468.6h0M848.8 3461.7h0M853.2 3462.6h0M830.2 3409.7h0M856.7 3435.6h0M865.1 3431.6h0M863.4 3407.6h0M827.4 3421.2h0M835.8 3468.5h0M843.0 3383.0h0M812.0 3465.6h0M802.6 3458.8h0M770.1 3450.7h0M822.2 3463.8h0M835.9 3467.1h0M847.7 3437.3h0M826.8 3450.9h0M842.6 3423.7h0M832.9 3426.5h0M836.4 3467.1h0M867.8 3435.3h0M782.0 3437.3h0M829.2 3462.9h0M807.9 3442.8h0M858.9 3468.1h0M836.0 3432.3h0M811.9 3467.5h0M832.3 3424.5h0M802.4 3467.6h0M862.6 3456.7h0M845.2 3467.4h0M841.7 3462.1h0M818.2 3450.1h0M866.5 3461.1h0M865.6 3438.2h0M831.4 3401.5h0M764.4 3441.9h0M865.2 3462.4h0M793.8 3399.7h0M866.9 3438.5h0M783.8 3367.9h0M866.8 3466.1h0M847.8 3467.4h0M697.4 3458.0h0M864.2 3467.1h0M819.4 3449.6h0M813.0 3435.3h0M871.4 3452.8h0M816.0 3412.3h0M807.0 3440.8h0M782.1 3431.4h0M787.5 3451.4h0M870.7 3450.1h0M857.5 3457.1h0M858.9 3455.7h0M863.3 3433.3h0M877.1 3443.2h0M839.8 3443.1h0M866.1 3441.7h0M870.5 3459.0h0M836.3 3458.7h0M698.9 3438.4h0M759.7 3465.1h0M816.0 3432.7h0M823.7 3449.8h0M868.7 3460.0h0M786.6 3466.3h0M801.8 3455.5h0M853.4 3465.8h0M763.6 3406.7h0M847.7 3463.9h0M740.8 3403.4h0M807.0 3457.0h0M802.9 3413.7h0M823.3 3465.9h0M866.4 3466.9h0M852.4 3467.1h0M777.5 3426.6h0M835.5 3458.8h0M758.5 3462.6h0M761.0 3460.0h0M869.2 3453.8h0M784.2 3457.1h0M688.8 3458.3h0M849.1 3424.6h0M804.3 3432.1h0M872.8 3453.8h0M796.7 3465.5h0M807.9 3461.3h0M782.7 3427.1h0M775.8 3464.3h0M834.8 3430.5h0M864.6 3407.3h0M865.9 3462.1h0M773.5 3467.3h0M854.1 3456.5h0M771.9 3467.9h0M811.9 3456.0h0M845.9 3461.8h0M841.6 3465.5h0M855.6 3444.7h0M796.6 3456.1h0M818.8 3397.1h0M755.4 3454.0h0M851.2 3435.6h0M871.6 3463.6h0M782.0 3427.3h0M834.8 3468.3h0M841.5 3441.9h0M813.3 3467.1h0M863.1 3446.3h0M788.1 3410.1h0M841.5 3432.6h0M831.2 3466.1h0M815.6 3455.2h0M834.1 3457.9h0M833.8 3466.8h0M874.7 3441.7h0M870.3 3397.1h0M867.0 3396.2h0M842.8 3431.2h0M875.8 3460.5h0M785.3 3394.7h0M753.9 3440.9h0M823.5 3376.0h0M769.2 3444.9h0M803.7 3458.3h0M827.7 3445.9h0M811.4 3461.9h0M864.6 3452.6h0M739.8 3455.5h0M851.6 3459.3h0M869.0 3453.0h0M870.3 3443.9h0M848.8 3462.8h0M749.9 3453.3h0M866.2 3433.4h0M795.7 3451.8h0M774.2 3464.3h0M833.4 3464.5h0M862.6 3380.1h0M836.2 3427.7h0M788.4 3464.7h0M729.3 3432.7h0M856.5 3452.8h0M862.4 3462.5h0M828.2 3397.2h0M853.8 3451.8h0M809.0 3441.1h0M808.3 3453.4h0M783.6 3447.6h0M838.6 3454.0h0M847.0 3440.9h0M812.8 3466.4h0M778.2 3414.7h0M817.6 3460.6h0M735.9 3377.6h0M786.2 3446.4h0M830.4 3467.1h0M842.4 3464.1h0M798.1 3432.1h0M769.6 3371.5h0M820.4 3454.7h0M817.5 3434.0h0M846.7 3455.2h0M873.6 3468.6h0M859.9 3436.4h0M872.9 3457.7h0M873.3 3460.0h0M754.0 3438.1h0M874.4 3416.2h0M867.8 3427.5h0M839.8 3468.5h0M835.2 3466.9h0M867.7 3467.4h0M859.6 3456.6h0M864.9 3464.6h0M792.5 3415.8h0M803.6 3462.1h0M872.3 3408.2h0M841.9 3370.1h0M822.9 3457.4h0M845.8 3406.8h0M812.3 3444.0h0M847.4 3411.9h0M807.0 3447.3h0M803.0 3439.4h0M816.5 3467.4h0M851.2 3468.1h0M864.6 3455.1h0M770.7 3397.7h0M852.8 3461.2h0M829.7 3433.3h0M855.6 3466.1h0M845.8 3437.5h0M819.4 3442.8h0M759.8 3454.9h0M805.9 3464.8h0M817.6 3432.3h0M842.7 3438.9h0M781.0 3463.3h0M835.6 3453.2h0M840.9 3366.8h0M835.6 3452.8h0M779.3 3435.0h0M866.2 3418.4h0M863.1 3416.2h0M840.0 3433.4h0M829.8 3455.8h0M863.0 3458.7h0M757.8 3446.9h0M828.1 3459.4h0M821.0 3465.6h0M704.1 3428.5h0M761.3 3401.9h0M781.6 3465.4h0M842.0 3467.9h0M850.7 3460.4h0M862.8 3450.0h0M830.8 3462.3h0M771.8 3452.2h0M782.8 3465.6h0M849.5 3458.1h0M836.4 3433.0h0M830.0 3439.3h0M865.8 3431.8h0M837.4 3453.4h0M861.5 3461.1h0M839.8 3414.5h0M793.6 3438.6h0M819.4 3445.1h0M816.3 3459.3h0M866.5 3455.8h0M798.1 3428.9h0M863.4 3449.8h0M859.4 3465.7h0M730.2 3459.1h0M724.8 3461.3h0M866.6 3431.4h0M809.6 3457.3h0M850.8 3385.5h0M811.5 3433.7h0M738.3 3419.1h0M839.9 3452.3h0M734.8 3391.1h0M861.2 3458.2h0M855.1 3460.4h0M875.0 3452.5h0M858.8 3457.1h0M800.2 3450.0h0M862.6 3465.1h0M866.7 3460.0h0M850.0 3466.1h0M807.5 3401.4h0M776.3 3446.4h0M781.5 3444.7h0M846.5 3436.8h0M833.9 3449.9h0M764.7 3468.3h0M769.7 3456.0h0M818.1 3442.7h0M806.1 3455.4h0M860.1 3386.0h0M845.7 3409.5h0M855.6 3441.3h0M856.2 3447.7h0M716.1 3464.0h0M751.1 3462.8h0M817.9 3416.1h0M870.9 3379.8h0M831.5 3464.4h0M758.7 3450.5h0M868.6 3427.9h0M874.1 3443.7h0M870.3 3459.3h0M834.9 3466.4h0M826.5 3463.8h0M744.5 3460.5h0M843.5 3445.7h0M840.1 3428.4h0M860.2 3460.0h0M763.8 3460.2h0M802.9 3447.9h0M760.0 3454.1h0M755.7 3446.6h0M815.7 3463.5h0M785.2 3455.5h0M836.7 3446.7h0M845.6 3465.1h0M828.1 3425.0h0M852.9 3464.0h0M818.7 3461.8h0M841.4 3465.4h0M819.7 3463.8h0M843.8 3450.6h0M835.9 3459.1h0M743.8 3438.1h0M865.2 3464.0h0M866.3 3466.5h0M808.1 3467.2h0M818.7 3438.2h0M797.6 3443.9h0M822.9 3449.0h0M846.9 3451.6h0M847.6 3465.8h0M859.3 3453.7h0M789.1 3430.1h0M851.2 3450.7h0M778.5 3461.3h0M853.0 3456.3h0M868.9 3430.4h0M855.8 3417.4h0M833.5 3460.0h0M854.1 3427.6h0M871.1 3410.8h0M795.2 3464.1h0M873.7 3459.1h0M862.6 3455.2h0M816.1 3377.6h0M834.0 3447.0h0M827.3 3453.0h0M793.9 3467.8h0M839.6 3447.3h0M865.2 3464.3h0M863.0 3457.7h0M819.6 3464.2h0M818.5 3429.1h0M827.2 3461.3h0M756.9 3431.1h0M861.8 3451.6h0M875.6 3431.4h0M821.6 3456.8h0M834.9 3454.9h0M866.1 3464.0h0M824.7 3464.7h0M792.3 3459.6h0M751.0 3461.4h0M859.1 3467.6h0M839.9 3457.0h0M810.3 3453.5h0M817.5 3372.4h0M862.2 3462.5h0M786.2 3461.6h0M853.1 3423.4h0M825.4 3439.0h0M830.8 3424.0h0M835.8 3458.1h0M850.7 3432.8h0M850.4 3464.8h0M832.5 3454.1h0M785.3 3468.0h0M875.2 3452.9h0M845.2 3455.3h0M847.7 3454.9h0M824.4 3455.0h0M746.8 3440.2h0M855.0 3400.6h0M732.2 3448.5h0M851.4 3434.3h0M797.4 3461.2h0M799.7 3455.6h0M752.7 3451.7h0M807.8 3376.2h0M863.4 3410.2h0M831.5 3466.0h0M763.8 3454.6h0M852.5 3467.7h0M821.1 3467.1h0M873.4 3461.0h0M798.1 3449.3h0M829.9 3457.1h0M811.8 3432.3h0M826.4 3436.2h0M777.1 3395.0h0M866.5 3466.7h0M838.8 3462.3h0M829.5 3452.8h0M844.2 3377.2h0M857.1 3397.0h0M870.3 3435.0h0M788.5 3428.9h0M796.7 3463.7h0M873.7 3383.4h0M808.2 3444.1h0M796.9 3450.1h0M824.6 3456.7h0M781.2 3458.7h0M862.5 3454.3h0M872.5 3451.4h0M774.8 3458.4h0M824.1 3410.0h0M861.9 3467.7h0M861.8 3459.4h0M859.8 3464.5h0M845.4 3462.6h0M868.0 3406.3h0M844.9 3458.2h0M872.2 3457.5h0M807.8 3392.3h0M832.8 3450.2h0M866.3 3438.3h0M858.8 3428.5h0M858.1 3448.9h0M792.5 3444.7h0M842.0 3460.9h0M837.8 3424.6h0M869.4 3435.5h0M812.5 3432.7h0M697.7 3466.9h0M818.9 3452.9h0M745.4 3422.0h0M771.5 3371.6h0M862.7 3449.0h0M819.2 3465.2h0M871.7 3461.7h0M800.9 3414.7h0M816.7 3428.6h0M812.6 3402.7h0M866.4 3459.6h0M832.7 3372.4h0M789.9 3467.6h0M818.5 3429.7h0M873.5 3429.6h0M873.5 3461.3h0M748.5 3408.3h0M786.2 3465.3h0M757.2 3399.5h0M815.1 3458.4h0M874.8 3436.4h0M871.0 3468.6h0M845.7 3453.8h0M815.8 3370.1h0M872.1 3466.6h0M795.1 3429.1h0M744.8 3412.4h0M819.6 3466.9h0M824.8 3467.8h0M843.2 3458.3h0M852.8 3432.4h0M753.2 3446.3h0M753.8 3414.2h0M825.9 3444.0h0M794.0 3444.2h0M806.3 3467.1h0M829.4 3464.3h0M828.8 3442.8h0M859.2 3458.4h0M866.8 3430.0h0M849.8 3448.7h0M871.9 3453.8h0M809.7 3407.8h0M817.6 3445.1h0M764.5 3468.6h0M846.4 3454.1h0M815.1 3438.1h0M829.1 3450.6h0M831.5 3456.5h0M857.0 3461.6h0M827.6 3457.2h0M858.7 3465.9h0M800.1 3463.4h0M845.6 3436.6h0M829.4 3458.9h0M826.7 3458.5h0M788.3 3449.3h0M859.3 3459.1h0M842.6 3463.5h0M786.5 3440.7h0M854.8 3463.8h0M840.7 3449.2h0M844.2 3457.1h0M787.2 3396.0h0M847.2 3463.9h0M798.8 3468.1h0M840.0 3464.7h0M823.9 3438.0h0M755.6 3445.6h0M785.7 3453.5h0M825.1 3466.3h0M820.1 3446.4h0M872.3 3432.7h0M821.2 3461.4h0M813.5 3427.0h0M859.2 3450.7h0M842.7 3457.3h0M821.5 3428.0h0M843.9 3451.8h0M868.3 3459.8h0M825.1 3462.2h0M861.3 3468.4h0M869.0 3462.2h0M834.0 3466.5h0M835.4 3452.9h0M776.6 3465.2h0M858.6 3435.7h0M868.5 3423.1h0M832.2 3445.2h0M794.3 3453.3h0M862.2 3463.6h0M813.0 3416.4h0M822.6 3456.2h0M865.3 3462.3h0M838.6 3446.0h0M801.1 3452.6h0M788.4 3458.8h0M835.4 3459.6h0M841.9 3420.4h0M873.2 3468.1h0M854.6 3462.7h0M861.7 3465.4h0M833.7 3438.8h0M827.4 3455.9h0M762.5 3467.8h0M824.0 3463.9h0M833.8 3424.2h0M842.8 3462.5h0M716.7 3463.3h0M836.5 3452.7h0M835.0 3456.8h0M800.9 3468.6h0M852.0 3468.5h0M851.6 3460.2h0M806.5 3467.9h0M851.1 3465.7h0M831.1 3372.2h0M846.6 3457.2h0M853.5 3454.2h0M782.0 3461.7h0M859.3 3457.9h0M813.4 3454.6h0M849.0 3405.7h0M822.2 3447.4h0M789.6 3445.6h0M832.6 3467.0h0M758.8 3458.4h0M785.6 3392.7h0M848.0 3400.6h0M863.1 3450.9h0M869.2 3444.1h0M769.2 3458.4h0M827.5 3388.6h0M854.6 3444.0h0M859.1 3461.1h0M871.2 3466.3h0M847.9 3453.7h0M808.5 3436.1h0M845.6 3456.2h0M822.2 3448.5h0M861.0 3452.1h0M810.4 3456.2h0M820.3 3466.9h0M859.3 3451.0h0M776.9 3418.6h0M848.9 3453.5h0M762.8 3435.7h0M831.6 3429.1h0M860.5 3460.1h0M803.1 3460.4h0M781.4 3398.8h0M870.8 3457.1h0M799.6 3439.1h0M872.6 3419.6h0M816.9 3450.0h0M794.8 3427.9h0M834.5 3403.2h0M856.9 3452.1h0M846.3 3465.1h0M791.4 3465.9h0M800.1 3388.0h0M771.3 3464.3h0M780.1 3433.6h0M866.7 3438.7h0M819.3 3439.8h0M826.5 3431.8h0M868.8 3453.3h0M790.0 3424.7h0M839.6 3462.9h0M826.1 3458.0h0M843.6 3459.8h0M835.1 3467.7h0M836.0 3460.2h0M769.8 3455.6h0M755.5 3451.2h0M801.2 3430.0h0M849.6 3450.9h0M838.7 3416.6h0M859.4 3444.1h0M717.7 3405.2h0M870.8 3443.0h0M841.8 3465.7h0M823.0 3442.5h0M735.3 3451.6h0M829.0 3461.6h0M872.6 3426.2h0M767.6 3467.6h0M786.8 3462.2h0M859.2 3422.6h0M764.9 3443.6h0M804.1 3414.0h0M860.1 3454.7h0M706.9 3460.9h0M868.1 3468.3h0M793.8 3454.5h0M767.5 3426.8h0M827.8 3443.7h0M689.5 3467.9h0M803.1 3386.1h0M818.4 3447.7h0M831.5 3424.9h0M852.9 3467.8h0M730.7 3428.6h0M790.4 3422.4h0M876.4 3462.5h0M828.9 3411.8h0M838.9 3466.5h0M788.1 3467.6h0M864.3 3438.9h0M858.5 3468.3h0M803.7 3463.9h0M807.6 3466.2h0M861.4 3458.5h0M790.0 3457.1h0M855.0 3414.7h0M861.3 3396.2h0M827.4 3443.0h0M868.1 3468.3h0M862.0 3435.0h0M834.3 3467.7h0M803.1 3396.3h0M821.3 3417.2h0M730.6 3465.9h0M791.2 3440.5h0M845.9 3446.7h0M776.4 3467.6h0M843.7 3463.5h0M816.5 3467.3h0M873.8 3449.7h0M863.7 3460.4h0M815.1 3407.6h0M849.9 3442.8h0M818.4 3463.2h0M800.4 3422.4h0M820.0 3438.9h0M844.9 3429.7h0M853.9 3462.9h0M852.8 3425.7h0M850.1 3389.5h0M788.3 3442.2h0M852.7 3394.4h0M839.4 3445.2h0M758.1 3439.6h0M810.7 3418.8h0M859.4 3464.0h0M850.6 3467.7h0M703.9 3459.1h0M826.2 3408.7h0M775.1 3465.2h0M785.0 3414.2h0M841.2 3463.3h0M847.1 3442.5h0M802.2 3461.1h0M828.6 3457.5h0M823.5 3460.9h0M722.3 3396.0h0M765.4 3381.5h0M809.7 3456.8h0M869.5 3444.6h0M752.4 3456.3h0M836.3 3431.4h0M788.9 3408.2h0M873.0 3452.9h0M684.9 3467.0h0M840.6 3465.9h0M842.6 3455.1h0M766.0 3396.5h0M865.8 3389.1h0M846.6 3451.6h0M791.3 3462.8h0M781.2 3425.1h0M740.9 3456.3h0M862.1 3444.7h0M849.7 3460.5h0M855.1 3448.9h0M760.7 3467.7h0M840.4 3463.9h0M825.5 3439.8h0M854.8 3445.4h0M860.8 3421.1h0M837.4 3467.8h0M790.8 3426.2h0M831.0 3452.6h0M785.8 3463.8h0M853.1 3462.7h0M737.8 3466.7h0M795.1 3464.1h0M826.8 3447.2h0M868.4 3444.9h0M731.6 3391.2h0M861.0 3451.7h0M815.3 3463.3h0M812.8 3436.2h0M869.2 3464.8h0M827.3 3464.3h0M863.8 3451.6h0M834.4 3451.1h0M802.0 3463.5h0M861.6 3447.0h0M820.6 3464.7h0M704.7 3439.7h0M838.0 3367.7h0M863.8 3459.8h0M844.8 3457.2h0M862.1 3460.3h0M832.6 3450.7h0M826.3 3459.4h0M866.6 3431.7h0M814.7 3445.9h0M824.4 3440.8h0M725.0 3460.6h0M789.6 3439.8h0M843.5 3415.8h0M769.8 3401.6h0M770.7 3430.3h0M850.8 3461.0h0M724.6 3459.9h0M693.5 3445.4h0M720.6 3461.7h0M856.1 3444.9h0M842.6 3452.8h0M756.9 3398.0h0M710.2 3466.6h0M835.9 3454.8h0M856.1 3466.2h0M862.5 3468.5h0M818.5 3432.7h0M837.3 3443.4h0M851.6 3457.0h0M853.2 3388.0h0M826.1 3437.1h0M843.0 3404.9h0M874.6 3418.8h0M807.7 3449.2h0M788.4 3425.6h0M845.2 3385.4h0M865.5 3467.6h0M860.0 3432.7h0M773.0 3415.2h0M848.9 3397.3h0M827.5 3460.2h0M849.7 3460.4h0M727.0 3445.1h0M851.8 3418.3h0M753.3 3447.1h0M844.7 3431.3h0M851.5 3466.1h0M788.2 3454.3h0M792.1 3463.5h0M836.3 3450.6h0M788.5 3433.1h0M862.6 3455.4h0M831.2 3451.5h0M811.6 3459.5h0M800.8 3451.1h0M716.5 3450.7h0M791.0 3457.1h0M717.0 3450.0h0M868.4 3446.8h0M757.7 3452.9h0M787.0 3436.5h0M756.3 3452.2h0M830.7 3451.3h0M864.8 3457.3h0M776.8 3466.3h0M764.0 3466.4h0M861.2 3430.0h0M815.0 3394.6h0M835.7 3417.7h0M873.0 3460.6h0M821.3 3467.5h0M831.1 3464.5h0M834.5 3443.7h0M794.2 3447.1h0M838.3 3443.1h0M798.4 3449.1h0M795.8 3457.2h0M828.2 3453.5h0M765.7 3446.8h0M811.3 3463.8h0M827.5 3430.7h0M874.6 3444.1h0M872.8 3462.5h0M804.8 3443.4h0M750.0 3409.9h0M824.6 3436.8h0M826.4 3453.0h0M825.4 3464.5h0M865.7 3439.0h0M876.8 3450.6h0M862.8 3458.1h0M860.6 3432.7h0M742.6 3450.4h0M870.7 3448.4h0M836.3 3468.2h0M815.6 3466.1h0M862.1 3459.3h0M822.3 3462.3h0M839.0 3386.5h0M860.2 3447.6h0M813.4 3459.5h0M846.7 3434.7h0M825.2 3432.1h0M859.3 3457.3h0M790.2 3417.7h0M834.9 3466.7h0M744.3 3461.8h0M829.1 3446.7h0M693.5 3450.6h0M833.9 3434.4h0M848.5 3409.6h0M834.5 3447.0h0M837.0 3456.5h0M818.0 3417.0h0M765.8 3450.9h0M841.5 3389.3h0M858.9 3467.5h0M848.1 3394.8h0M862.6 3450.4h0M804.1 3455.3h0M766.6 3463.7h0M816.9 3433.1h0M851.0 3455.7h0M786.1 3466.1h0M834.4 3443.3h0M827.3 3446.2h0M789.3 3462.2h0M713.2 3443.4h0M751.0 3398.9h0M819.5 3456.2h0M779.6 3441.1h0M853.6 3468.0h0M865.5 3460.7h0M842.1 3453.8h0M839.8 3410.0h0M812.5 3458.5h0M861.5 3459.7h0M846.9 3437.7h0M851.9 3415.1h0M725.8 3429.4h0M761.3 3460.9h0M854.7 3468.5h0M815.9 3445.0h0M850.8 3458.4h0M859.8 3463.2h0M858.0 3406.5h0M804.1 3449.1h0M827.4 3467.5h0M841.8 3452.0h0M826.8 3427.1h0M854.8 3461.9h0M822.6 3444.4h0M824.6 3445.6h0M846.7 3448.0h0M839.1 3446.4h0M840.4 3463.4h0M805.9 3397.0h0M707.5 3458.6h0M874.7 3457.5h0M803.0 3456.2h0M825.8 3374.0h0M846.5 3462.0h0M825.3 3456.2h0M835.9 3445.6h0M834.2 3467.5h0M794.3 3461.8h0M814.3 3451.9h0M803.8 3462.6h0M856.0 3449.3h0M827.9 3465.0h0M832.5 3452.0h0M792.3 3452.6h0M778.7 3442.3h0M867.9 3454.0h0M747.8 3418.7h0M857.8 3463.1h0M857.3 3440.0h0M732.0 3409.0h0M764.2 3462.7h0M843.3 3459.0h0M842.5 3428.5h0M832.3 3446.4h0M762.9 3439.1h0M812.0 3415.0h0M794.7 3429.7h0M871.1 3419.9h0M859.9 3455.8h0M779.9 3464.5h0M817.8 3459.4h0M764.9 3460.6h0M830.8 3457.4h0M858.6 3450.2h0M834.3 3468.6h0M789.2 3425.5h0M767.4 3429.6h0M841.4 3443.1h0M855.2 3450.2h0M719.8 3455.9h0M817.7 3457.5h0M806.6 3464.1h0M782.9 3413.4h0M847.6 3461.8h0M837.0 3462.2h0M867.5 3442.3h0M847.0 3455.0h0M795.9 3423.5h0M863.5 3458.1h0M871.3 3442.2h0M835.2 3466.4h0M742.6 3468.0h0M857.7 3468.2h0M855.2 3453.2h0M801.8 3425.4h0M830.9 3465.2h0M867.7 3466.5h0M804.4 3445.8h0M830.8 3468.5h0M853.6 3465.9h0M832.7 3451.4h0M783.5 3465.7h0M776.4 3468.1h0M856.8 3464.8h0M792.9 3464.0h0M853.1 3464.9h0M864.0 3463.4h0M805.0 3397.3h0M764.3 3459.5h0M821.6 3448.3h0M820.6 3430.9h0" fill="none" stroke="#00b93c" stroke-width="15.2" stroke-linecap="round"/><path d="M1112.3 2510.0h0M1255.3 2549.0h0M1145.3 2788.5h0M1158.0 2820.6h0M1227.4 2813.0h0M1253.6 2818.9h0M1237.5 2935.7h0M1284.1 2935.7h0M1183.4 2961.1h0M1085.2 2975.5h0M1238.4 2971.3h0M1259.6 3017.0h0M1239.2 3050.0h0M1226.5 3088.1h0M1221.5 3092.3h0M1095.4 3110.1h0M1136.8 3106.7h0M1157.1 3103.3h0M1279.9 3110.1h0M1284.1 3126.1h0M1159.7 3159.1h0M1253.6 3152.4h0M1282.4 3162.5h0M1072.5 3170.1h0M1069.1 3172.7h0M1102.1 3171.0h0M1129.2 3174.4h0M1158.8 3180.3h0M1191.8 3171.0h0M1204.5 3167.6h0M1200.3 3176.9h0M1234.2 3171.8h0M1255.3 3171.8h0M1259.6 3176.1h0M1280.7 3182.0h0M1336.6 3174.4h0M1091.1 3192.2h0M1108.1 3195.5h0M1136.0 3189.6h0M1185.1 3185.4h0M1596.5 3401.0h0M1576.6 3416.6h0M1546.5 3410.6h0M1530.2 3411.2h0M1521.2 3413.0h0M1575.4 3445.5h0M1501.9 3421.4h0M1497.1 3428.0h0M1482.1 3427.4h0M1468.8 3428.6h0M1468.2 3450.3h0M1503.2 3457.5h0M1427.9 3428.6h0M1421.9 3432.3h0M1427.9 3464.2h0M1393.0 3411.8h0M1374.9 3406.4h0M1380.9 3431.1h0M1377.3 3446.1h0M1371.3 3461.8h0M1356.9 3441.3h0M1349.6 3462.4h0M1342.4 3447.3h0M1327.4 3441.3h0M1313.5 3450.3h0M1302.7 3415.4h0M1292.5 3414.2h0M1305.7 3429.2h0M1292.5 3447.3h0M1283.4 3432.3h0M1271.4 3465.4h0M1262.4 3452.1h0M1254.5 3408.2h0M1264.2 3399.2h0M1265.4 3423.2h0M1235.3 3411.2h0M1241.3 3444.3h0M1226.2 3399.2h0M1217.2 3423.2h0M1205.2 3441.3h0M1430.9 3218.6h0M1382.8 3230.6h0M1336.4 3175.2h0M1380.9 3356.4h0M1340.6 3334.1h0M1346.6 3349.2h0M1331.6 3372.1h0M1310.5 3385.9h0M1313.5 3287.8h0M1308.7 3289.0h0M1293.7 3264.9h0M1292.5 3239.6h0M1291.3 3229.4h0M1316.5 3360.0h0M1322.6 3346.8h0M1313.5 3348.0h0M1298.5 3342.0h0M1289.4 3363.0h0M1280.4 3339.0h0M1274.4 3316.7h0M1271.4 3364.8h0M1278.6 3110.2h0M1283.4 3127.1h0M1282.2 3162.6h0M1281.0 3181.2h0M1254.5 3152.3h0M1259.3 3175.2h0M1261.8 3207.7h0M1244.9 3207.7h0M1235.3 3172.2h0M1205.2 3165.6h0M1199.2 3177.6h0M1193.1 3170.4h0M1184.7 3185.4h0M1158.8 3160.2h0M1158.8 3180.6h0M1128.7 3173.4h0M1135.9 3191.5h0M1102.8 3170.4h0M1073.9 3170.4h0M1069.7 3174.0h0M1090.8 3192.7h0M1108.9 3196.3h0M1113.1 3209.5h0M1127.5 3219.8h0M1095.0 3224.6h0M1092.6 3220.4h0M1069.7 3213.7h0M1055.9 3220.4h0M1045.6 3245.6h0M1083.0 3245.6h0M1101.6 3247.5h0M1122.1 3260.7h0M1139.0 3237.8h0M1161.2 3245.6h0M1169.1 3254.7h0M1168.4 3216.7h0M1187.1 3230.6h0M1191.3 3228.8h0M1205.2 3233.6h0M1223.2 3239.6h0M1241.3 3051.8h0M1228.0 3089.1h0M1222.0 3093.3h0M1157.0 3104.2h0M1137.1 3107.2h0M1095.0 3110.2h0M1088.6 3361.0h0M1040.7 3385.5h0M1136.9 3465.6h0M1031.6 3396.0h0M1083.7 3415.6h0M1083.3 3309.3h0M1166.5 3389.6h0M1037.9 3464.6h0M1051.7 3427.1h0M1045.2 3463.9h0M1234.9 3435.3h0M1163.3 3410.9h0M1094.2 3405.0h0M1037.5 3460.7h0M1039.6 3407.9h0M1034.4 3439.6h0M1064.0 3427.2h0M1083.7 3347.6h0M1192.9 3405.2h0M1182.6 3384.3h0M1055.0 3362.9h0M1136.3 3445.4h0M1047.3 3442.9h0M1065.8 3431.6h0M1029.1 3411.8h0M1088.9 3457.5h0M1104.7 3455.0h0M1034.2 3400.8h0M1143.9 3389.3h0M1114.0 3373.2h0M1136.5 3410.5h0M1090.3 3435.4h0M1098.5 3461.1h0M1122.7 3431.6h0M1196.3 3407.3h0M1051.7 3445.0h0M1027.2 3438.7h0M1034.1 3454.5h0M1056.5 3369.3h0M1014.4 3468.3h0M1027.7 3451.8h0M1050.0 3442.9h0M1051.2 3350.8h0M1173.2 3439.7h0M1047.9 3449.1h0M1019.3 3430.4h0M1033.9 3465.0h0M1059.7 3465.5h0M1081.6 3442.2h0M1060.8 3303.0h0M1073.0 3375.2h0M1027.5 3465.6h0M1018.8 3431.3h0M1112.2 3456.7h0M1068.9 3410.4h0M1129.9 3451.0h0M1069.2 3375.0h0M1121.9 3406.8h0M1012.6 3468.3h0M1011.3 3458.7h0M1134.0 3454.0h0M1072.9 3463.4h0M1094.3 3429.4h0M1012.5 3443.8h0M1059.0 3463.2h0M1052.4 3452.2h0M1037.7 3455.8h0M1102.8 3467.5h0M1055.6 3454.4h0M1078.3 3440.7h0M1083.1 3468.5h0M1039.1 3440.4h0M1164.8 3370.4h0M1055.2 3423.3h0M1034.2 3460.3h0M1115.7 3268.6h0M1064.6 3451.2h0M1022.4 3367.5h0M1046.0 3450.0h0M1036.1 3433.1h0M1060.1 3450.0h0M1110.6 3451.2h0M1058.2 3425.7h0M1077.3 3402.0h0M1138.4 3452.1h0M1025.3 3460.0h0M1074.6 3411.4h0M1049.9 3430.5h0M1102.8 3465.2h0M1024.6 3461.2h0M1006.3 3453.2h0M1106.7 3401.9h0M1054.1 3454.9h0M1051.8 3464.8h0M1045.9 3408.7h0M1028.4 3460.7h0M1010.5 3459.9h0M1035.2 3459.8h0M1030.2 3415.5h0M1053.7 3455.7h0M1041.9 3464.2h0M1071.1 3282.8h0M1051.9 3435.7h0M1090.8 3419.0h0M1034.4 3457.6h0M1116.7 3438.6h0M1150.4 3435.8h0M1029.4 3453.4h0M1046.9 3467.1h0M1080.1 3432.1h0M1053.1 3420.4h0M1044.0 3435.2h0M1034.2 3422.2h0M1056.9 3423.7h0M1120.3 3409.9h0M1018.5 3457.7h0M1107.2 3370.1h0M1080.2 3447.6h0M1029.7 3466.5h0M1109.2 3352.3h0M1101.1 3461.5h0M1164.3 3358.6h0M1165.3 3436.8h0M1199.8 3276.5h0M1051.4 3438.5h0M1050.6 3434.7h0M1172.7 3459.3h0M1008.1 3436.7h0M1024.7 3424.9h0M1013.1 3400.6h0M1099.6 3452.9h0M1029.6 3427.4h0M1052.5 3450.7h0M1101.9 3466.6h0M1090.8 3455.1h0M1021.8 3423.3h0M1033.3 3457.7h0M1033.0 3459.5h0M1080.3 3463.3h0M1055.2 3431.9h0M1151.3 3397.3h0M1016.4 3412.9h0M1082.0 3453.8h0M1100.7 3442.8h0M1107.6 3399.7h0M1041.4 3433.9h0M1187.7 3456.1h0M1013.0 3460.2h0M1107.1 3324.6h0M1187.2 3399.7h0M1062.0 3427.1h0M1138.6 3408.0h0M1041.6 3424.4h0M1092.7 3435.2h0M1053.6 3366.6h0M1134.7 3453.9h0M1008.2 3422.0h0M1145.1 3385.1h0M1048.0 3422.7h0M1111.9 3327.3h0M1135.3 3421.3h0M1056.8 3466.6h0M1037.4 3465.4h0M1025.1 3448.4h0M1050.1 3453.1h0M1037.8 3414.4h0M1069.8 3448.7h0M1053.7 3391.5h0M1020.1 3429.8h0M1027.7 3437.7h0M1020.6 3388.8h0M1240.9 3446.7h0M1079.1 3459.9h0M1157.0 3446.7h0M1017.4 3447.0h0M1057.1 3458.5h0M1006.7 3337.1h0M1022.7 3464.0h0M1081.5 3369.2h0M1012.8 3429.4h0M1071.7 3436.2h0M1015.5 3454.9h0M1060.4 3408.0h0M1144.8 3457.9h0M1146.1 3464.8h0M1096.1 3331.4h0M1093.5 3426.2h0M1048.0 3446.7h0M1070.2 3404.9h0M1039.7 3445.2h0M1087.5 3326.1h0M1073.1 3465.8h0M1038.7 3450.2h0M1074.3 3394.9h0M1088.5 3363.6h0M1090.2 3455.5h0M1048.1 3463.5h0M1015.8 3404.2h0M1069.4 3460.7h0M1030.7 3451.6h0M1030.7 3392.6h0M1122.3 3413.6h0M1071.9 3459.3h0M1068.7 3457.5h0M1054.1 3453.7h0M1024.7 3406.3h0M1032.4 3448.1h0M1059.2 3465.8h0M1084.3 3331.8h0M1058.8 3444.4h0M1062.1 3455.1h0M1091.1 3465.7h0M1036.6 3468.5h0M1047.5 3453.6h0M1057.3 3416.1h0M1045.6 3430.7h0M1095.0 3425.8h0M1149.4 3387.1h0M1023.0 3445.5h0M1039.8 3439.8h0M1033.7 3447.2h0M1066.3 3381.9h0M1015.0 3429.8h0M1085.8 3368.1h0M1075.1 3342.8h0M1210.8 3448.6h0M1042.5 3424.1h0M1084.9 3467.9h0M1054.5 3451.4h0M1059.8 3467.0h0M1043.0 3388.5h0M1099.8 3401.5h0M1059.0 3426.0h0M1034.9 3425.2h0M1055.7 3392.3h0M1077.0 3412.7h0M1193.4 3437.7h0M1101.2 3417.3h0M1039.6 3450.2h0M1024.7 3461.8h0M1069.2 3458.9h0M1074.5 3421.7h0M1103.1 3424.0h0M1039.3 3423.1h0M1055.4 3415.2h0M1056.1 3450.1h0M1139.4 3461.3h0M1083.5 3458.5h0M1035.2 3424.0h0M1010.9 3364.3h0M1016.9 3434.5h0M1030.0 3458.8h0M1007.3 3448.1h0M1038.4 3445.7h0M1158.9 3466.9h0M1039.9 3442.3h0M1047.7 3465.3h0M1049.6 3449.9h0M1047.5 3444.5h0M1082.8 3464.6h0M1028.6 3467.6h0M1042.6 3442.6h0M1055.1 3466.8h0M1047.0 3441.3h0M1015.5 3412.4h0M1025.1 3464.1h0M1094.2 3397.2h0M1058.2 3455.2h0M1045.6 3467.5h0M1028.3 3411.7h0M1065.6 3436.9h0M1137.6 3450.9h0M1037.6 3418.2h0M1026.2 3433.2h0M1037.6 3458.3h0M1072.3 3421.7h0M1054.0 3466.5h0M1013.3 3396.4h0M1136.7 3454.2h0M1122.2 3457.4h0M1018.2 3434.8h0M1094.1 3455.3h0M1019.3 3461.9h0M1032.6 3451.5h0M1030.6 3438.3h0M1031.0 3465.0h0M1021.7 3467.3h0M1064.8 3427.9h0M1025.0 3386.6h0M1116.8 3401.7h0M1032.3 3430.1h0M1022.0 3463.6h0M1042.9 3284.4h0M1014.9 3460.3h0M1118.9 3396.9h0M1030.6 3440.2h0M1011.2 3440.6h0M1147.8 3378.6h0M1038.3 3457.4h0M1035.2 3467.4h0M1014.9 3449.3h0M1075.9 3434.8h0M1035.8 3413.0h0M1035.6 3464.6h0M1072.7 3459.9h0M1044.8 3445.2h0M1074.0 3451.7h0M1018.3 3441.7h0M1064.1 3289.5h0M1036.9 3457.6h0M1045.6 3457.7h0M1037.9 3404.9h0M1057.3 3432.4h0M1064.1 3433.3h0M1085.3 3461.2h0M1044.5 3392.4h0M1018.1 3438.3h0M1062.2 3434.2h0M1050.8 3460.0h0M1022.7 3390.9h0M1074.3 3336.8h0M1041.1 3415.0h0M1012.9 3442.2h0M1035.0 3436.2h0M1068.5 3338.7h0M1032.8 3446.3h0M1024.7 3437.3h0M1084.5 3430.4h0M1116.0 3455.9h0M1054.9 3424.4h0M1017.0 3442.8h0M1015.1 3347.0h0M1087.4 3430.6h0M1043.1 3443.7h0M1039.3 3461.0h0M1035.6 3465.6h0M1071.4 3467.1h0M1111.3 3437.1h0M1056.7 3457.6h0M1033.6 3398.8h0M1043.1 3455.6h0M1085.5 3443.8h0M1026.6 3465.5h0M1025.6 3432.5h0M1115.7 3394.6h0M1007.9 3457.1h0M1098.2 3466.5h0M1086.8 3411.1h0M1034.4 3444.0h0M1189.3 3276.2h0M1075.3 3423.7h0M1044.8 3461.3h0M1054.9 3438.4h0M1063.4 3459.6h0M1042.0 3467.6h0M1010.2 3421.2h0M1239.6 3384.6h0M1040.4 3450.9h0M1095.3 3434.4h0M1077.7 3467.4h0M1110.3 3453.2h0M1034.2 3349.5h0M1036.2 3467.2h0M1095.8 3356.5h0M1127.5 3442.9h0M1126.6 3443.8h0M1059.2 3451.2h0M1077.0 3386.5h0M1077.2 3448.7h0M1007.3 3458.7h0M1050.4 3465.2h0M1072.7 3467.8h0M1052.9 3436.2h0M1089.4 3337.6h0M1064.1 3459.8h0M1055.5 3283.3h0M1090.1 3441.7h0M1051.1 3431.2h0M1041.5 3461.8h0M1115.7 3394.6h0M1014.1 3453.4h0M1088.0 3461.2h0M1048.1 3448.8h0M1046.7 3448.4h0M1052.1 3467.6h0M1061.6 3397.1h0M1129.7 3371.1h0M1027.5 3336.7h0M1028.4 3410.6h0M1087.7 3398.8h0M1091.6 3445.0h0M1060.8 3423.0h0M1180.2 3420.8h0M1016.3 3457.5h0M1059.2 3456.0h0M1088.9 3447.9h0M1046.9 3421.7h0M1124.7 3461.8h0M1158.1 3419.8h0M1063.6 3450.4h0M1097.9 3438.0h0M1059.6 3401.9h0M1016.6 3434.8h0M1090.6 3383.3h0M1062.1 3438.4h0M1084.3 3363.6h0M1068.7 3441.9h0M1043.3 3318.9h0M1014.6 3462.8h0M1111.2 3440.1h0M1187.7 3461.0h0M1036.0 3459.6h0M1019.1 3457.9h0M1025.1 3445.6h0M1091.5 3390.5h0M1121.7 3454.3h0M1221.1 3400.3h0M1054.6 3432.8h0M1054.7 3456.1h0M1158.5 3377.3h0M1094.3 3420.7h0M1055.1 3460.3h0M1023.8 3409.0h0M1090.9 3446.6h0M1102.2 3425.6h0M1025.9 3421.8h0M1028.5 3467.6h0M1147.4 3421.8h0M1029.9 3451.5h0M1094.0 3463.4h0M1011.5 3460.4h0M1048.8 3426.8h0M1027.1 3451.6h0M1030.2 3466.7h0M1013.0 3464.4h0M1070.8 3462.9h0M1074.1 3356.9h0M1109.3 3450.9h0M1058.1 3421.1h0M1091.4 3429.1h0M1046.4 3435.2h0M1062.5 3301.2h0M1088.0 3410.0h0M1079.9 3424.0h0M1058.1 3453.4h0M1071.8 3395.6h0M1072.3 3392.8h0M1019.5 3465.3h0M1055.5 3466.9h0M1209.3 3446.0h0M1064.9 3453.3h0M1128.3 3422.7h0M1049.8 3445.2h0M1075.6 3468.2h0M1153.3 3434.2h0M1130.3 3383.3h0M1014.9 3364.5h0M1178.6 3319.8h0M1018.2 3453.8h0M1055.2 3452.6h0M1049.1 3416.3h0M1046.9 3323.9h0M1061.1 3452.1h0M1051.3 3370.8h0M1039.4 3464.0h0M1104.7 3425.6h0M1095.2 3446.4h0M1019.8 3466.1h0M1028.1 3418.4h0M1054.4 3448.8h0M1042.4 3401.8h0M1024.2 3466.5h0M1042.7 3367.7h0M1066.2 3414.3h0M1067.1 3439.3h0M1105.2 3446.3h0M1061.8 3337.4h0M1255.5 3442.4h0M1059.2 3456.9h0M1032.1 3416.9h0M1065.0 3330.2h0M1088.8 3450.0h0M1128.7 3357.4h0M1072.9 3305.9h0M1058.5 3451.0h0M1138.1 3461.6h0M1038.2 3452.2h0M1061.8 3452.6h0M1197.7 3310.6h0M1032.0 3466.9h0M1043.8 3430.0h0M1080.5 3426.0h0M1139.5 3456.3h0M1056.7 3423.7h0M1086.1 3449.3h0M1122.5 3398.9h0M1055.5 3459.6h0M1041.6 3465.4h0M1040.4 3460.5h0M1096.9 3382.8h0M1111.8 3283.8h0M1044.1 3438.1h0M1095.3 3464.7h0M1062.8 3441.6h0M1025.2 3463.9h0M1008.5 3464.6h0M1051.7 3430.5h0M1089.2 3427.6h0M1065.1 3448.3h0M1036.3 3442.6h0M1042.0 3452.3h0M1061.1 3459.8h0M1048.9 3450.2h0M1032.9 3411.9h0M1038.5 3457.2h0M1022.3 3439.5h0M1077.5 3459.9h0M1045.4 3327.0h0M1019.8 3459.9h0M1090.0 3403.1h0M1168.0 3345.3h0M1102.2 3364.8h0M1095.5 3468.3h0M1171.8 3372.7h0M1124.6 3296.3h0M1089.9 3432.6h0M1064.3 3397.2h0M1153.2 3374.6h0M1031.4 3413.7h0M1072.1 3369.3h0M1052.3 3381.4h0M1046.8 3374.6h0M1017.1 3430.8h0M1092.8 3398.2h0M1060.1 3462.8h0M1036.0 3464.7h0M1032.2 3417.0h0M1167.6 3403.5h0M1030.4 3413.5h0M1084.3 3465.6h0M1014.8 3396.3h0M1048.2 3363.4h0M1039.9 3401.9h0M1095.7 3454.0h0M1025.5 3445.1h0M1116.0 3435.0h0M1030.9 3433.2h0M1041.9 3466.5h0M1007.3 3433.7h0M1060.8 3463.1h0M1093.2 3433.8h0M1032.9 3323.8h0M1122.4 3325.8h0M1036.3 3460.0h0M1043.3 3401.3h0M1110.9 3414.5h0M1074.0 3432.3h0M1029.9 3443.3h0M1029.4 3439.7h0M1038.1 3445.5h0M1014.1 3463.1h0M1084.6 3460.9h0M1045.2 3399.7h0M1066.7 3456.6h0M1186.4 3389.3h0M1094.3 3433.2h0M1033.2 3439.6h0M1034.7 3434.4h0M1105.4 3450.3h0M1051.7 3430.9h0M1051.5 3452.0h0M1076.8 3459.9h0M1056.3 3439.2h0M1072.7 3429.4h0M1054.3 3388.4h0M1035.4 3424.9h0M1035.8 3462.2h0M1052.7 3446.4h0M1069.9 3445.4h0M1042.6 3453.6h0M1041.0 3468.5h0M1031.3 3457.3h0M1064.9 3468.3h0M1086.0 3462.8h0M1057.7 3437.1h0M1070.9 3462.2h0M1062.1 3431.9h0M1039.7 3438.2h0M1040.5 3414.2h0M1038.5 3443.7h0M1130.7 3300.9h0M1073.1 3378.9h0M1094.5 3395.5h0M1061.8 3462.3h0M1062.4 3447.1h0M1053.2 3460.8h0M1020.7 3435.7h0M1097.7 3421.6h0M1029.6 3454.5h0M1040.4 3458.6h0M1031.3 3437.8h0M1044.6 3416.0h0M1093.1 3413.3h0M1055.0 3457.4h0M1066.0 3369.7h0M1050.2 3463.7h0M1051.7 3387.7h0M1025.4 3458.5h0M1034.1 3454.8h0M1091.6 3331.8h0M1058.1 3461.8h0M1081.5 3408.4h0M1027.0 3430.4h0M1015.8 3428.4h0M1148.0 3451.4h0M1136.1 3464.3h0M1042.7 3365.4h0M1058.5 3332.8h0M1193.5 3413.5h0M1059.6 3455.5h0M1017.6 3464.3h0M1068.5 3445.1h0M1043.5 3445.9h0M1122.2 3443.8h0M1043.3 3460.9h0M1031.9 3455.0h0M1131.9 3367.2h0M1033.2 3454.0h0M1026.4 3456.4h0M1064.5 3453.8h0M1084.5 3364.2h0M1016.7 3437.0h0M1182.0 3463.8h0M1222.3 3449.7h0M1038.3 3460.7h0M1092.4 3420.9h0M1117.8 3451.7h0M1048.0 3437.6h0M1077.9 3438.7h0M1061.9 3441.0h0M1017.5 3457.3h0M1028.1 3376.6h0M1060.2 3383.9h0M1020.6 3462.2h0M1038.7 3447.9h0M1032.4 3448.0h0M1099.9 3436.4h0M1029.4 3461.9h0M1020.8 3453.4h0M1108.7 3425.5h0M1073.8 3442.2h0M1046.0 3466.9h0M1047.9 3448.3h0M1034.8 3467.3h0M1028.9 3433.6h0M1051.1 3461.5h0M1019.9 3427.7h0M1032.3 3410.0h0M1074.3 3442.4h0M1038.7 3466.2h0M1031.8 3454.6h0M1063.2 3440.7h0M1065.6 3436.9h0M1065.8 3435.8h0M1026.0 3466.5h0M1030.8 3431.6h0M1139.7 3468.1h0M1043.0 3392.9h0M1085.7 3458.8h0M1018.8 3442.0h0M1045.2 3442.4h0M1073.5 3341.6h0M1024.2 3467.1h0M1059.9 3369.1h0M1049.4 3444.1h0M1018.1 3453.7h0M1040.0 3428.4h0M1037.8 3440.5h0M1087.1 3454.0h0M1045.5 3465.9h0M1040.0 3441.6h0M1053.4 3383.1h0M1051.0 3462.8h0M1079.5 3415.4h0M1051.9 3411.4h0M1067.8 3406.3h0M1050.1 3414.6h0M1051.9 3403.5h0M1020.5 3425.9h0M1021.5 3437.9h0M1027.6 3439.8h0M1053.5 3447.3h0M1051.9 3453.2h0M1166.3 3464.6h0M1026.7 3451.0h0M1029.8 3448.1h0M1189.3 3390.7h0M1108.3 3421.8h0M1013.2 3441.7h0M1056.7 3414.6h0M1027.6 3445.1h0M1205.1 3326.3h0M1258.7 3456.0h0M1054.1 3435.0h0M1057.4 3430.0h0M1010.2 3421.8h0M1025.2 3431.0h0M1102.6 3351.0h0M1096.0 3411.5h0M1028.7 3377.6h0M1043.7 3424.4h0M1176.0 3465.6h0M1027.3 3441.9h0M1059.1 3452.9h0M1085.4 3447.1h0M1016.9 3465.6h0M1042.5 3386.3h0M1020.7 3455.1h0M1060.4 3461.6h0M1047.1 3427.9h0M1042.8 3467.9h0M1092.8 3426.7h0M1059.7 3436.5h0M1065.5 3454.3h0M1022.0 3420.4h0M1061.5 3455.0h0M1049.2 3392.8h0M1021.7 3458.4h0M1116.7 3448.5h0M1159.1 3401.5h0M1134.5 3348.8h0M1026.4 3466.6h0M1074.6 3463.9h0M1028.0 3333.6h0M1091.7 3351.9h0M1122.2 3410.0h0M1091.1 3460.2h0M1020.5 3383.7h0M1044.5 3459.4h0M1084.4 3455.0h0M1036.6 3374.5h0M1139.7 3462.5h0M1041.9 3355.7h0M1032.9 3454.8h0M1067.8 3460.0h0M1043.4 3459.9h0M1044.7 3395.3h0M1021.2 3448.0h0M1062.7 3357.4h0M1040.1 3390.9h0M1104.9 3461.1h0M1038.8 3458.1h0M1034.5 3343.1h0M1061.2 3390.4h0M1067.4 3468.5h0M1026.8 3428.5h0M1039.2 3467.0h0M1094.6 3373.8h0M1028.9 3461.5h0M1078.0 3389.1h0M1097.9 3445.9h0M1101.2 3468.2h0M1115.8 3434.5h0M1046.4 3324.0h0M1086.7 3450.7h0M1086.6 3435.9h0M1061.9 3465.1h0M1044.1 3444.0h0M1216.9 3456.1h0M1062.8 3394.4h0M1044.4 3463.3h0M1153.4 3463.2h0M1110.2 3453.5h0M1084.1 3440.1h0M1109.7 3406.7h0M1131.2 3463.8h0M1048.4 3444.0h0M1164.7 3400.3h0M1033.2 3442.4h0M1035.8 3462.8h0M1050.3 3449.9h0M1022.5 3458.1h0M1025.3 3449.3h0M1100.2 3437.5h0M1155.0 3461.1h0M1061.2 3389.9h0M1054.6 3421.5h0M1037.6 3432.0h0M1077.0 3421.7h0M1057.0 3379.7h0M1063.5 3460.7h0M1077.0 3443.6h0M1166.7 3342.3h0M1022.0 3428.5h0M1107.1 3425.4h0M1023.5 3459.9h0M1025.1 3460.6h0M1094.7 3454.3h0M1189.0 3442.3h0M1066.2 3449.5h0M1008.3 3403.0h0M1063.8 3397.5h0M1043.9 3457.8h0M1067.8 3424.3h0M1025.7 3372.3h0M1028.4 3446.4h0M1036.8 3462.3h0M1013.9 3451.9h0M1094.4 3314.2h0M1100.7 3429.5h0M1124.5 3467.3h0M1071.8 3408.0h0M1060.0 3445.6h0M1034.3 3368.9h0M1026.2 3457.5h0M1049.1 3442.5h0M1041.9 3396.1h0M1048.7 3454.9h0M1065.4 3460.0h0M1084.6 3297.5h0M1053.6 3427.9h0M1017.1 3460.2h0M1100.6 3444.4h0M1026.7 3345.5h0M1029.1 3457.0h0M1032.3 3465.0h0M1129.3 3318.8h0M1086.1 3453.0h0M1224.5 3402.7h0M1032.6 3468.6h0M1117.0 3444.0h0M1085.2 3464.7h0M1223.7 3333.7h0M1040.8 3441.2h0M1064.5 3461.1h0M1158.6 3431.8h0M1109.6 3433.6h0M1123.3 3442.6h0M1166.0 3362.5h0M1042.0 3401.7h0M1046.3 3458.8h0M1077.4 3429.4h0M1040.7 3447.7h0M1069.2 3461.0h0M1041.4 3435.3h0M1037.0 3411.8h0M1025.0 3445.5h0M1145.6 3462.0h0M1072.7 3436.2h0M1012.4 3463.2h0M1067.9 3432.0h0M1012.8 3444.9h0M1080.7 3363.4h0M1048.4 3460.5h0M1022.7 3464.4h0M1023.8 3412.9h0M1030.9 3433.9h0M1163.7 3329.1h0M1021.7 3442.6h0M1027.2 3424.2h0M1122.1 3427.3h0M1008.3 3405.9h0M1078.6 3461.8h0M1016.5 3440.5h0M1006.3 3456.9h0M1023.3 3458.7h0M1081.4 3465.0h0M1034.4 3465.4h0M1120.3 3346.6h0M1047.5 3452.7h0M1023.0 3384.0h0M1039.9 3463.8h0M1058.4 3409.7h0M1015.3 3460.8h0M1142.6 3461.5h0M1115.1 3459.4h0M1026.6 3467.5h0M1096.6 3413.9h0M1024.8 3460.3h0M1041.4 3427.0h0M1097.2 3458.7h0M1038.7 3464.7h0M1036.2 3409.9h0M1082.3 3455.3h0M1024.2 3442.0h0M1069.8 3461.4h0M1007.5 3456.7h0M1080.9 3460.6h0M1045.4 3434.4h0M1076.1 3442.2h0M1060.2 3441.0h0M1038.8 3438.5h0M1049.2 3450.6h0M1192.7 3460.2h0M1032.1 3430.8h0M1052.0 3444.0h0M1027.3 3394.8h0M1017.9 3452.4h0M1019.7 3433.1h0M1077.1 3456.2h0M1175.1 3442.1h0M1013.6 3448.4h0M1121.1 3465.0h0M1055.3 3448.8h0M1025.5 3341.5h0M1029.2 3454.8h0M1016.7 3397.7h0M1065.0 3461.7h0M1121.5 3456.8h0M1053.2 3407.2h0M1013.4 3464.5h0M1018.7 3460.8h0M1048.0 3436.0h0M1035.4 3462.1h0M1089.7 3379.2h0M1011.4 3466.9h0M1030.6 3430.1h0M1025.2 3430.8h0M1069.6 3375.8h0M1037.5 3442.2h0M1053.5 3363.4h0M1022.2 3464.3h0M1057.4 3452.8h0M1030.8 3465.6h0M1080.7 3422.0h0M1042.0 3369.0h0M1115.4 3460.0h0M1082.5 3464.7h0M1130.8 3403.5h0M1050.6 3442.7h0M1055.5 3433.0h0M1026.2 3459.9h0M1074.4 3435.1h0M1024.4 3427.7h0M1073.1 3455.2h0M1094.0 3459.9h0M1047.4 3468.3h0M1085.5 3374.0h0M1034.3 3465.0h0M1080.1 3288.5h0M1030.4 3457.8h0M1101.7 3328.3h0M1049.8 3443.3h0M1082.0 3445.6h0M1235.5 3444.8h0M1026.5 3414.1h0M1072.5 3455.8h0M1017.7 3445.8h0M1131.5 3411.8h0M1045.5 3391.4h0M1101.9 3466.5h0M1146.1 3456.9h0M1078.8 3439.5h0M1039.8 3460.3h0M1075.5 3461.9h0M1078.0 3384.8h0M1033.3 3394.7h0M1111.0 3324.3h0M1027.9 3448.0h0M1066.6 3447.3h0M1011.4 3440.4h0M1042.6 3455.2h0M1025.8 3467.6h0M1022.8 3430.9h0M1021.6 3358.5h0M1099.3 3437.2h0M1072.4 3450.0h0M1070.0 3454.3h0M1068.2 3417.0h0M1079.5 3446.1h0M1034.7 3434.9h0M1014.8 3382.6h0M1110.2 3380.5h0M1064.9 3427.4h0M1062.4 3415.5h0M1045.1 3380.2h0M1118.2 3454.0h0M1058.2 3374.2h0M1061.3 3376.1h0M1035.6 3460.4h0M1049.9 3456.9h0M1132.0 3457.7h0M1164.3 3465.1h0M1159.2 3439.8h0M1247.3 3458.9h0M1062.3 3465.9h0M1090.4 3461.8h0M1062.1 3416.4h0M1016.5 3407.6h0M1036.3 3414.1h0M1064.0 3460.9h0M1151.2 3465.4h0M1012.4 3457.7h0M1129.9 3441.8h0M1092.5 3386.9h0M1206.4 3461.5h0M1128.6 3319.8h0M1131.1 3466.6h0M1050.5 3441.7h0M1048.3 3438.8h0M1022.8 3431.5h0M1145.6 3424.8h0M1026.9 3446.6h0M1138.7 3455.5h0M1047.3 3434.1h0M1094.6 3459.8h0M1097.7 3463.7h0M1087.1 3403.9h0M1037.6 3466.6h0M1013.0 3431.4h0M1018.2 3456.4h0M1047.7 3448.8h0M1068.9 3386.5h0M1052.0 3457.4h0M1058.1 3426.3h0M1025.8 3468.0h0M1133.9 3403.7h0M1058.7 3389.0h0M1157.4 3468.5h0M1112.0 3439.6h0M1063.1 3459.2h0M1171.9 3407.6h0M1185.8 3306.6h0M1116.4 3365.3h0M1113.4 3401.6h0M1094.0 3409.2h0M1033.7 3367.9h0M1013.2 3453.8h0M1026.5 3440.7h0M1088.2 3445.0h0M1047.0 3374.9h0M1068.2 3455.3h0M1011.7 3433.0h0M1087.1 3459.8h0M1035.9 3388.9h0M1031.8 3428.2h0M1047.1 3459.0h0M1054.1 3396.8h0M1052.3 3410.2h0M1020.6 3423.6h0M1037.5 3463.4h0M1087.0 3457.9h0M1045.9 3448.0h0M1076.8 3456.2h0M1031.7 3366.2h0M1029.6 3443.8h0M1020.8 3415.5h0M1015.2 3403.2h0M1055.1 3417.9h0M1063.4 3427.1h0M1087.2 3442.1h0M1024.6 3464.3h0M1201.4 3444.3h0M1107.0 3414.8h0M1049.7 3431.0h0M1043.3 3449.6h0M1017.3 3465.2h0M1069.5 3437.1h0M1027.4 3461.5h0M1132.3 3456.1h0M1078.2 3458.0h0M1028.9 3466.9h0M1041.1 3442.7h0M1101.6 3435.1h0M1066.6 3395.5h0M1070.9 3440.9h0M1071.2 3451.2h0M1178.2 3464.7h0M1021.5 3322.8h0M1035.3 3447.1h0M1034.1 3414.2h0M1044.0 3449.0h0M1089.2 3406.6h0M1042.2 3435.6h0M1060.6 3459.6h0M1160.0 3333.0h0M1047.2 3354.2h0M1109.8 3457.2h0M1058.1 3399.9h0M1254.7 3414.6h0M1059.8 3419.3h0M1037.1 3466.3h0M1026.6 3434.7h0M1059.6 3466.8h0M1056.3 3449.2h0M1057.7 3436.5h0M1046.1 3393.5h0M1038.5 3447.9h0M1017.7 3452.0h0M1045.5 3443.6h0M1192.1 3434.1h0M1029.5 3457.5h0M1073.4 3334.1h0M1018.0 3463.7h0M1050.8 3431.1h0M1071.6 3382.7h0M1050.0 3418.4h0M1042.3 3455.3h0M1054.3 3434.2h0M1190.8 3376.1h0M1102.2 3411.1h0M1089.1 3437.3h0M1063.7 3451.5h0M1044.4 3357.1h0M1090.1 3462.5h0M1086.1 3405.7h0M1159.9 3390.5h0M1056.7 3449.1h0M1141.3 3452.7h0M1043.9 3445.7h0M1053.3 3447.4h0M1035.7 3377.4h0M1021.0 3439.9h0M1078.3 3382.4h0M1138.8 3436.0h0M1025.5 3412.6h0M1039.2 3422.4h0M1018.6 3453.9h0M1036.5 3391.5h0M1122.3 3439.8h0M1043.7 3456.8h0M1081.5 3348.4h0M1033.3 3453.3h0M1034.6 3459.4h0M1144.4 3377.5h0M1064.2 3438.0h0M1047.2 3424.1h0M1138.7 3312.8h0M1065.1 3381.7h0M1054.4 3464.5h0M1071.7 3449.5h0M1046.1 3451.6h0M1088.7 3442.7h0M1120.4 3458.5h0M1037.1 3462.8h0M1088.5 3467.8h0M1121.5 3393.3h0M1020.8 3437.9h0M1098.1 3425.7h0M1039.4 3413.5h0M1020.8 3430.7h0M1017.3 3466.0h0M1075.0 3444.5h0M1026.7 3429.7h0M1092.4 3465.8h0M1028.1 3460.4h0M1237.7 3336.5h0M1036.4 3467.0h0M1099.5 3324.9h0M1059.2 3439.7h0M1093.8 3453.9h0M1027.8 3449.9h0M1162.2 3429.1h0M1021.1 3459.8h0M1083.9 3461.5h0M1062.7 3434.6h0M1012.6 3464.2h0M1076.0 3430.3h0M1010.5 3441.5h0M1089.7 3454.0h0M1060.5 3424.5h0M1026.7 3445.7h0M1069.4 3459.2h0M1015.4 3369.2h0M1048.5 3405.9h0M1048.0 3438.2h0M1025.2 3398.1h0M1080.9 3462.0h0M1070.7 3428.5h0M1054.7 3334.6h0M1023.2 3460.1h0M1045.3 3458.4h0M1100.5 3449.5h0M1119.2 3368.6h0M1189.7 3448.5h0M1038.5 3446.4h0M1038.4 3456.6h0M1034.7 3424.1h0M1087.8 3451.1h0M1145.1 3352.4h0M1078.5 3427.5h0M1042.5 3457.1h0M1184.6 3365.6h0M1038.3 3447.3h0M1039.8 3458.2h0M1038.1 3444.9h0M1058.6 3442.3h0M1076.5 3451.7h0M1018.0 3447.9h0M1081.0 3339.4h0M1082.5 3421.5h0M1076.7 3435.8h0M1024.9 3415.8h0M1119.4 3446.5h0M1007.1 3450.0h0M1053.8 3453.3h0M1131.8 3416.2h0M1056.8 3448.8h0M1012.0 3377.0h0M1019.9 3443.5h0M1081.3 3447.5h0M1032.4 3449.2h0M1026.0 3461.0h0M1069.5 3413.7h0M1028.5 3400.4h0M1144.1 3421.6h0M1098.2 3389.3h0M1015.3 3424.2h0M1113.6 3330.9h0M1063.2 3434.5h0M1089.3 3322.6h0M1021.5 3392.2h0M1035.0 3464.8h0M1015.0 3451.2h0M1057.6 3416.0h0M1040.3 3449.7h0M1085.2 3441.0h0M1014.6 3370.4h0M1090.4 3451.4h0M1015.7 3461.6h0M1048.5 3427.2h0M1039.5 3465.9h0M1041.1 3459.5h0M1072.8 3455.3h0M1025.1 3457.4h0M1135.5 3361.2h0M1024.5 3451.3h0M1035.6 3420.6h0M1079.4 3425.9h0M1032.6 3466.0h0M1045.1 3416.4h0M1063.8 3358.4h0M1053.4 3335.7h0M1256.7 3445.8h0M1137.8 3390.6h0M1077.5 3436.0h0M1083.3 3463.6h0M1009.8 3447.7h0M1072.0 3356.1h0M1046.2 3442.1h0M1034.0 3461.7h0M1049.6 3460.5h0M1037.2 3450.3h0M1029.0 3451.6h0M1063.8 3429.4h0M1072.1 3461.4h0M1085.5 3467.6h0M1042.4 3463.1h0M1055.5 3452.2h0M1015.6 3414.2h0M1073.8 3415.3h0M1072.4 3403.9h0M1051.8 3423.4h0M1060.5 3450.5h0M1088.6 3463.0h0M1040.9 3463.0h0M1021.6 3465.2h0M1068.8 3467.6h0M1101.6 3454.9h0M1031.4 3461.8h0M1093.9 3464.2h0M1021.4 3457.3h0M1086.1 3381.8h0M1094.5 3447.1h0M1012.3 3433.2h0M1020.4 3465.9h0M1228.9 3346.5h0M1110.5 3281.0h0M1038.5 3468.0h0M1020.6 3467.4h0M1066.5 3453.1h0M1029.1 3458.2h0M1110.1 3405.9h0M1023.1 3459.4h0M1022.2 3441.3h0M1027.8 3464.4h0M1047.1 3433.2h0M1015.9 3419.3h0M1053.5 3456.3h0M1065.3 3460.7h0M1042.0 3451.7h0M1041.1 3403.1h0M1041.7 3390.0h0M1115.3 3425.9h0M1045.7 3398.9h0M1117.2 3463.7h0M1030.6 3413.8h0M1085.5 3430.7h0M1110.9 3378.4h0M1096.8 3427.7h0M1023.8 3424.1h0M1070.1 3436.2h0M1108.9 3355.0h0M1089.8 3416.3h0M1063.6 3456.8h0M1045.7 3466.1h0M1086.7 3467.1h0M1035.5 3449.7h0M1040.3 3397.9h0M1118.0 3353.3h0M1088.1 3457.5h0M1032.8 3413.5h0M1037.8 3445.7h0M1047.1 3439.9h0M1087.8 3355.6h0M1068.4 3461.8h0M1054.4 3432.7h0M1137.3 3455.2h0M1083.8 3435.5h0M1049.8 3399.2h0M1017.5 3433.7h0M1027.6 3458.3h0M1079.8 3459.5h0M1078.6 3382.9h0M1045.4 3456.6h0M1078.0 3347.6h0M1035.0 3388.9h0M1143.0 3404.7h0M1017.6 3460.9h0M1079.5 3357.3h0M1190.9 3466.9h0M1060.0 3457.9h0M1036.0 3403.0h0M1023.2 3435.3h0M1112.3 3418.8h0M1061.9 3402.3h0M1045.2 3459.2h0M1104.8 3419.5h0M1144.5 3443.8h0M1031.1 3467.8h0M1022.7 3463.3h0M1017.2 3333.1h0M1060.3 3462.6h0M1024.7 3461.8h0M1064.4 3432.7h0M1116.6 3405.9h0M1058.3 3288.0h0M1066.7 3369.2h0M1026.0 3368.3h0M1019.0 3460.0h0M1077.8 3432.2h0M1055.8 3408.6h0M1081.4 3467.8h0M1061.3 3324.8h0M1115.4 3440.0h0M1026.7 3427.9h0M1042.2 3378.5h0M1038.5 3461.8h0M1033.0 3441.3h0M1150.9 3283.9h0M1026.4 3440.1h0M1089.0 3462.6h0M1153.3 3429.7h0M1024.4 3449.7h0M1066.6 3400.6h0M1088.5 3460.0h0M1080.1 3439.8h0M1068.2 3378.5h0M1063.4 3453.2h0M1018.7 3420.6h0M1135.9 3374.2h0M1052.7 3406.4h0M1088.6 3451.7h0M1014.5 3452.4h0M1091.4 3316.8h0M1038.1 3443.2h0M1046.6 3400.2h0M1067.7 3446.0h0M1054.7 3463.6h0M1129.2 3447.4h0M1150.4 3345.2h0M1063.2 3441.1h0M1037.1 3413.7h0M1043.0 3461.7h0M1016.5 3444.0h0M1024.3 3455.6h0M1159.6 3426.6h0M1059.9 3458.8h0M1041.4 3420.7h0M1149.2 3401.2h0M1052.4 3422.9h0M1079.7 3468.5h0M1139.7 3462.3h0M1021.3 3433.1h0M1022.3 3396.0h0M1131.2 3454.5h0M1015.8 3468.2h0M1079.9 3431.6h0M1093.8 3433.6h0M1082.1 3461.7h0M1012.4 3466.0h0M1038.4 3420.5h0M1057.3 3441.5h0M1190.5 3465.7h0M1096.0 3461.2h0M1052.9 3455.0h0M1041.4 3425.1h0M1031.8 3461.1h0M1189.0 3401.1h0M1103.7 3412.5h0M1023.6 3420.0h0M1082.9 3452.3h0M1057.3 3437.8h0M1050.0 3403.2h0M1141.4 3461.6h0M1055.5 3434.4h0M1192.1 3426.8h0M1082.2 3448.2h0M1043.2 3358.4h0M1069.4 3411.2h0M1035.1 3452.1h0M1021.1 3446.5h0M1060.2 3424.8h0M1074.8 3439.0h0M1073.3 3442.2h0M1083.5 3412.7h0M1143.6 3457.5h0M1088.4 3423.8h0M1080.8 3451.7h0M1029.3 3432.0h0M1082.7 3347.6h0M1135.5 3414.2h0M1031.2 3440.9h0M1102.9 3430.9h0M1090.3 3459.4h0M1062.8 3442.7h0M1046.8 3357.7h0M1075.7 3428.1h0M1091.3 3399.8h0M1024.9 3465.8h0M1028.8 3439.2h0M1059.2 3401.8h0M1040.5 3432.8h0M1007.9 3435.3h0M1206.5 3325.3h0M1055.5 3376.1h0M1078.8 3432.9h0M1130.5 3445.8h0M1031.4 3409.1h0M1044.4 3457.1h0M1056.1 3459.1h0M1063.6 3444.0h0M1033.3 3411.0h0M1113.8 3431.1h0M1046.0 3415.3h0M1055.7 3467.3h0M1028.3 3462.6h0M1093.2 3358.2h0M1065.4 3461.8h0M1107.2 3421.5h0M1067.1 3468.0h0M1110.8 3441.2h0M1067.2 3431.5h0M1038.7 3456.0h0M1071.0 3408.2h0M1121.9 3428.4h0M1013.4 3416.5h0M1060.4 3450.3h0M1037.1 3466.5h0M1059.4 3459.5h0M1099.2 3464.5h0M1096.8 3368.6h0M1089.3 3468.0h0M1140.8 3465.9h0M1038.0 3453.6h0M1075.4 3443.0h0M1035.5 3423.9h0M1077.7 3448.4h0M1032.2 3459.9h0M1034.8 3460.6h0M1015.8 3467.7h0M1063.0 3363.1h0M1164.7 3371.8h0M1052.8 3463.2h0M1064.6 3447.8h0M1135.2 3456.2h0M1028.3 3378.6h0M1230.7 3464.9h0M1031.0 3357.2h0M1043.6 3443.5h0M1017.1 3399.4h0M1121.9 3424.8h0M1086.4 3453.4h0M1092.2 3462.7h0M1057.9 3466.2h0M1105.1 3353.7h0M1059.1 3463.6h0M1032.4 3454.6h0M1075.6 3373.3h0M1021.0 3389.2h0M1016.4 3452.7h0M1051.3 3450.7h0M1180.3 3420.0h0M1079.7 3447.0h0M1056.8 3455.9h0M1025.2 3453.5h0M1092.7 3339.6h0M1064.8 3439.5h0M1056.7 3432.5h0M1018.3 3421.5h0M1156.2 3456.1h0M1088.1 3404.2h0M1017.4 3448.7h0M1044.3 3419.7h0M1144.7 3406.0h0M1101.0 3448.2h0M1046.2 3430.7h0M1088.6 3450.9h0M1116.1 3462.1h0M1082.1 3319.2h0M1034.0 3467.5h0M1052.4 3296.0h0M1028.3 3410.0h0M1172.7 3437.9h0M1122.9 3446.3h0M1049.9 3445.4h0M1055.6 3445.4h0M1024.2 3465.3h0M1050.9 3468.5h0M1119.3 3457.6h0M1080.9 3462.1h0M1008.1 3455.1h0M1107.2 3441.9h0M1065.5 3462.0h0M1045.0 3382.4h0M1062.0 3467.7h0M1023.1 3456.8h0M1148.6 3435.4h0M1157.2 3428.0h0M1079.7 3427.8h0M1183.9 3443.8h0M1050.2 3466.6h0M1115.3 3463.5h0M1043.7 3422.1h0M1097.7 3445.5h0M1035.6 3384.9h0M1035.5 3457.8h0M1083.1 3321.0h0M1094.5 3465.4h0M1085.9 3380.6h0M1028.5 3408.4h0M1101.3 3393.6h0M1043.4 3425.8h0M1056.1 3461.9h0M1026.5 3383.3h0M1061.6 3467.1h0M1025.6 3446.1h0M1008.6 3464.0h0M1101.5 3458.2h0M1153.1 3466.6h0M1053.3 3396.7h0M1085.5 3461.6h0M1077.3 3419.4h0M1073.1 3465.1h0M1114.1 3417.0h0M1130.7 3468.0h0M1015.9 3426.8h0M1147.7 3438.5h0M1029.4 3408.8h0M1018.6 3440.7h0M1131.6 3404.6h0M1022.5 3464.3h0M1012.8 3441.2h0M1054.6 3435.7h0M1026.0 3393.3h0M1128.0 3398.9h0M1093.9 3438.0h0M1014.7 3455.6h0M1038.8 3452.9h0M1037.5 3452.5h0M1032.6 3407.5h0M1018.7 3453.0h0M1030.9 3429.2h0M1031.4 3437.1h0M1030.9 3415.6h0M1017.9 3323.2h0M1037.3 3447.4h0M1104.1 3383.1h0M1043.2 3446.4h0M1141.0 3453.8h0M1070.1 3466.7h0M1032.2 3332.8h0M1128.8 3460.7h0M1064.9 3417.5h0M1076.3 3426.7h0M1061.7 3308.6h0M1098.2 3467.1h0M1061.7 3433.9h0M1119.3 3425.9h0M1086.5 3465.8h0M1051.8 3391.0h0M1014.0 3445.3h0M1063.5 3448.1h0M1034.4 3441.3h0M1017.5 3435.5h0M1237.6 3362.2h0M1131.2 3408.6h0M1112.2 3350.2h0M1016.3 3464.1h0M1084.5 3440.2h0M1032.5 3465.4h0M1164.8 3419.7h0M1066.7 3405.2h0M1118.3 3454.7h0M1072.8 3426.0h0M1028.4 3462.6h0M1090.4 3427.9h0M1038.8 3417.9h0M1028.0 3406.2h0M1013.1 3459.2h0M1053.2 3455.4h0M1221.9 3372.9h0M1069.8 3465.5h0M1030.6 3436.8h0M1046.3 3427.0h0M1065.5 3442.6h0M1069.7 3453.7h0M1096.4 3446.3h0M1113.7 3455.1h0M1060.3 3402.4h0M1086.0 3361.1h0M1061.0 3431.2h0M1103.7 3450.6h0M1051.8 3436.4h0M1040.6 3437.1h0M1047.0 3349.7h0M1010.8 3448.7h0M1061.6 3337.2h0M1058.8 3452.3h0M1054.6 3456.0h0M1027.6 3428.7h0M1044.7 3354.2h0M1168.8 3269.8h0M1041.2 3417.3h0M1055.5 3466.0h0M1032.6 3436.5h0M1020.2 3383.6h0M1041.6 3415.8h0M1040.9 3463.9h0M1080.2 3452.5h0M1042.3 3446.1h0M1024.0 3447.2h0M1043.0 3460.0h0M1054.8 3436.7h0M1086.0 3411.7h0M1023.1 3344.9h0M1047.9 3457.0h0M1026.7 3398.7h0M1082.8 3381.9h0M1059.1 3459.1h0M1068.7 3432.5h0M1076.5 3400.0h0M1113.8 3457.3h0M1062.6 3411.1h0M1008.6 3462.9h0M1098.7 3462.2h0M1093.7 3446.7h0M1050.6 3446.8h0M1071.8 3468.0h0M1057.4 3460.5h0M1061.3 3423.5h0M1074.1 3459.2h0M1093.7 3435.8h0M1109.7 3439.5h0M1020.3 3437.0h0M1112.1 3446.9h0M1261.0 3446.2h0M1054.8 3365.7h0M1085.1 3461.3h0M1077.8 3414.5h0M1104.4 3358.0h0M1033.5 3432.0h0M1022.6 3457.4h0M1049.1 3443.6h0M1106.8 3459.3h0M1039.7 3400.9h0M1029.4 3450.5h0M1095.8 3447.3h0M1028.2 3407.1h0M1049.0 3436.3h0M1063.2 3458.1h0M1045.1 3437.7h0M1023.2 3451.0h0M1072.4 3373.7h0M1040.3 3460.8h0M1025.1 3460.9h0M1087.2 3455.4h0M1119.7 3371.1h0M1109.5 3436.9h0M1045.2 3449.9h0M1034.1 3455.4h0M1123.6 3465.2h0M1042.9 3426.2h0M1104.4 3459.3h0M1242.6 3434.6h0M1079.6 3443.3h0M1016.2 3465.5h0M1079.4 3443.6h0M1238.0 3431.6h0M1018.4 3437.7h0M1054.1 3439.5h0M1035.9 3456.9h0M1057.3 3385.4h0M1236.9 3364.5h0M1018.9 3460.4h0M1087.1 3453.5h0M1134.8 3449.0h0M1052.8 3451.5h0M1074.6 3451.8h0M1077.3 3407.0h0M1013.7 3467.7h0M1008.9 3430.8h0M1161.7 3423.4h0M1063.2 3396.1h0M1020.3 3463.0h0M1121.4 3439.8h0M1038.0 3466.5h0M1036.5 3367.2h0M1057.8 3461.4h0M1052.1 3304.8h0M1027.9 3403.6h0M1082.4 3407.5h0M1096.3 3453.2h0M1107.0 3461.6h0M1061.6 3262.7h0M1101.2 3361.6h0M1053.9 3370.6h0M1094.1 3462.2h0M1015.7 3461.3h0M1180.3 3463.1h0M1081.1 3459.5h0M1074.6 3456.0h0M1046.0 3452.2h0M1067.5 3385.5h0M1168.6 3262.8h0M1010.7 3466.2h0M1098.9 3387.0h0M1058.7 3458.1h0M1028.9 3462.4h0M1011.4 3449.7h0M1122.4 3458.7h0M1116.2 3442.7h0M1026.3 3403.7h0M1107.4 3444.4h0M1031.1 3456.8h0M1077.9 3408.1h0M1036.7 3454.8h0M1106.5 3357.1h0M1023.5 3425.3h0M1245.1 3272.0h0M1100.1 3430.4h0M1022.4 3329.2h0M1066.4 3447.4h0M1045.9 3448.7h0M1055.5 3423.1h0M1022.2 3388.4h0M1090.7 3352.9h0M1157.9 3425.9h0M1048.8 3443.9h0M1053.2 3452.4h0M1116.0 3455.5h0M1060.0 3447.8h0M1022.6 3451.3h0M1062.1 3407.0h0M1057.1 3463.5h0M1113.4 3428.2h0M1048.4 3428.4h0M1102.4 3379.8h0M1055.0 3449.9h0M1021.5 3468.6h0M1033.4 3447.8h0M1033.0 3422.1h0M1078.5 3445.6h0M1090.1 3458.6h0M1013.4 3451.6h0M1052.7 3463.5h0M1123.3 3330.0h0M1039.8 3460.6h0M1058.5 3426.2h0M1028.2 3468.5h0M1066.7 3409.2h0M1075.9 3313.0h0M1109.2 3422.0h0M1047.5 3460.5h0M1017.9 3423.3h0M1070.9 3446.2h0M1061.3 3465.2h0M1065.0 3373.5h0M1059.6 3458.4h0M1017.7 3447.8h0M1035.1 3427.5h0M1077.2 3462.7h0M1086.1 3340.2h0M1015.2 3426.2h0M1060.2 3433.8h0M1071.8 3457.0h0M1084.6 3370.6h0M1165.4 3371.6h0M1034.9 3332.0h0M1025.3 3465.9h0M1139.5 3361.0h0M1106.2 3373.7h0M1098.0 3454.9h0M1046.5 3456.3h0M1048.6 3444.9h0M1055.2 3467.0h0M1076.6 3442.1h0M1089.6 3434.4h0M1060.5 3441.8h0M1062.1 3405.8h0M1077.2 3323.6h0M1165.2 3439.8h0M1067.7 3374.3h0M1053.8 3453.9h0M1059.0 3454.3h0M1107.5 3371.3h0M1123.7 3458.7h0M1084.1 3455.3h0M1051.0 3457.1h0M1064.9 3439.4h0M1039.9 3449.4h0M1025.5 3467.1h0M1011.5 3452.8h0M1026.3 3459.0h0M1128.3 3371.3h0M1084.6 3412.2h0M1037.4 3403.6h0M1102.2 3456.8h0M1045.4 3468.2h0M1070.9 3372.2h0M1057.3 3416.1h0M1044.5 3355.4h0M1018.1 3411.3h0M1084.2 3343.7h0M1038.3 3464.5h0M1077.3 3294.1h0M1041.5 3442.4h0M1209.3 3412.3h0M1010.2 3461.0h0M1071.1 3439.3h0M1068.8 3464.3h0M1068.6 3420.0h0M1017.8 3459.9h0M1019.8 3459.5h0M1019.3 3451.7h0M1058.9 3452.6h0M1039.3 3427.0h0M1007.6 3374.3h0M1079.4 3432.5h0M1035.3 3422.3h0M1034.4 3464.4h0M1071.8 3420.3h0M1068.1 3453.5h0M1056.1 3434.5h0M1075.2 3442.4h0M1188.2 3415.5h0M1017.4 3429.9h0M1128.1 3417.2h0M1042.0 3458.7h0M1042.3 3464.1h0M1075.8 3412.9h0M1041.7 3465.6h0M1089.7 3443.1h0M1047.2 3399.5h0M1069.0 3309.1h0M1090.2 3380.5h0M1056.1 3412.2h0M1058.8 3465.9h0M1015.1 3435.0h0M1034.9 3423.6h0M1101.4 3420.3h0M1035.0 3430.4h0M1058.9 3416.5h0M1041.0 3453.1h0M1125.4 3325.0h0M1092.1 3467.8h0M1083.8 3440.9h0M1031.0 3458.2h0M1060.0 3459.2h0M1063.7 3456.4h0M1046.5 3456.1h0M1066.2 3451.6h0M1037.0 3448.3h0M1058.0 3455.2h0M1042.1 3457.0h0M1108.0 3429.6h0M1042.5 3447.7h0M1107.7 3422.3h0M1104.0 3435.8h0M1014.7 3418.6h0M1063.4 3431.5h0M1067.9 3464.6h0M1042.8 3452.3h0M1119.5 3365.4h0M1090.5 3339.3h0M1052.5 3450.0h0M1073.1 3411.9h0M1104.8 3324.3h0M1141.2 3385.3h0M1039.4 3354.3h0M1045.6 3387.5h0M1097.4 3443.4h0M1018.6 3465.6h0M1041.3 3437.1h0M1032.3 3452.3h0M1065.5 3418.1h0M1089.6 3449.4h0M1047.3 3454.8h0M1097.2 3331.1h0M1023.2 3462.1h0M1094.0 3427.4h0M1047.5 3424.1h0M1051.5 3428.4h0M1024.5 3443.2h0M1057.1 3466.0h0M1054.4 3424.6h0M1052.8 3420.9h0M1127.0 3364.8h0M1044.9 3442.8h0M1063.6 3355.7h0M1076.1 3468.3h0M1034.6 3375.8h0M1151.7 3323.7h0M1167.6 3439.3h0M1053.6 3448.5h0M1104.3 3388.5h0M1191.7 3368.4h0M1035.6 3456.7h0M1031.7 3459.3h0M1054.1 3432.0h0M1028.5 3451.1h0M1019.6 3438.7h0M1212.9 3466.6h0M1031.1 3401.8h0M1052.1 3452.6h0M1031.8 3463.5h0M1043.1 3355.0h0M1077.7 3424.1h0M1191.7 3381.6h0M1056.2 3372.7h0M1166.7 3270.4h0M1060.1 3438.6h0M1026.1 3378.9h0M1037.1 3464.1h0M1074.5 3460.1h0M1043.5 3451.4h0M1060.6 3291.7h0M1020.6 3454.7h0M1063.3 3449.5h0M1045.5 3409.5h0M1075.3 3443.5h0M1033.1 3462.1h0M1020.3 3444.7h0M1032.1 3431.8h0M1043.7 3461.1h0M1061.1 3449.9h0M1072.1 3454.2h0M1188.8 3405.8h0M1026.8 3433.8h0M1025.7 3457.6h0M1076.9 3436.1h0M1178.6 3412.8h0M1052.2 3358.1h0M1076.3 3437.3h0M1139.5 3438.8h0M1149.0 3417.1h0M1021.3 3436.0h0M1090.9 3436.0h0M1030.7 3459.6h0M1124.4 3273.8h0M1041.8 3429.0h0M1108.5 3400.5h0M1034.0 3446.9h0M1118.7 3363.5h0M1176.3 3390.9h0M1178.9 3424.7h0M1244.8 3436.2h0M1243.3 3452.2h0M1168.0 3461.6h0M1171.6 3414.9h0M1146.4 3440.5h0M1186.3 3362.7h0M1197.9 3374.9h0M1231.4 3416.4h0M1213.6 3404.7h0M1152.2 3422.0h0M1256.3 3405.9h0M1204.1 3460.8h0M1164.3 3392.2h0M1179.5 3408.0h0M1166.4 3293.0h0M1241.4 3456.2h0M1171.6 3438.8h0M1256.0 3450.8h0M1219.3 3299.3h0M1251.0 3451.3h0M1249.6 3378.6h0M1174.9 3380.2h0M1253.6 3458.4h0M1253.2 3453.2h0M1237.6 3393.3h0M1193.2 3419.0h0M1258.5 3461.9h0M1212.3 3361.7h0M1177.8 3446.7h0M1231.3 3346.6h0M1159.4 3357.2h0M1240.0 3353.7h0M1219.4 3468.5h0M1224.5 3418.8h0M1172.8 3465.1h0M1166.7 3432.2h0M1244.8 3432.2h0M1217.1 3353.2h0M1206.9 3465.7h0M1178.5 3411.7h0M1234.3 3453.0h0M1235.7 3323.6h0M1214.7 3424.7h0M1232.2 3432.3h0M1151.7 3423.8h0M1178.5 3435.2h0M1147.1 3305.7h0M1210.6 3467.9h0M1211.8 3330.9h0M1170.6 3462.0h0M1152.1 3442.7h0M1243.5 3452.3h0M1209.2 3465.8h0M1250.2 3399.0h0M1201.1 3448.1h0M1211.4 3451.3h0M1180.7 3453.1h0M1219.4 3406.8h0M1237.7 3441.7h0M1237.9 3404.8h0M1150.9 3333.9h0M1181.0 3429.3h0M1258.0 3402.1h0M1150.4 3462.7h0M1189.2 3454.4h0M1190.4 3289.7h0M1250.2 3455.1h0M1159.4 3399.1h0M1260.9 3389.0h0M1250.9 3441.8h0M1257.1 3462.6h0M1160.3 3458.7h0M1165.6 3400.8h0M1224.3 3385.7h0M1231.8 3423.1h0M1258.8 3437.6h0M1182.9 3403.8h0M1166.4 3363.6h0M1237.2 3467.5h0M1180.1 3393.5h0M1150.1 3445.1h0M1164.6 3408.2h0M1257.5 3344.3h0M1146.7 3454.2h0M1225.7 3439.9h0M1247.6 3386.1h0M1178.9 3458.2h0M1231.7 3459.6h0M1253.8 3448.8h0M1153.7 3275.6h0M1165.8 3457.8h0M1197.8 3435.4h0M1171.4 3436.4h0M1149.7 3447.3h0M1249.2 3408.4h0M1162.1 3454.6h0M1257.5 3445.1h0M1174.6 3346.4h0M1148.8 3390.9h0M1190.8 3440.9h0M1177.5 3361.4h0M1246.9 3424.7h0" fill="none" stroke="#f03223" stroke-width="15.2" stroke-linecap="round"/><path d="M995.6 3444.1h0M952.4 3476.8h0M889.2 3475.0h0M1000.8 3430.4h0M897.3 3452.3h0M884.7 3462.6h0M881.0 3444.3h0M985.1 3446.2h0M1005.0 3405.1h0M967.8 3474.8h0M914.2 3459.4h0M985.7 3469.5h0M993.8 3412.8h0M928.0 3474.4h0M976.9 3477.6h0M974.3 3472.0h0M890.1 3427.6h0M899.9 3458.7h0M893.9 3474.2h0M980.1 3440.1h0M904.1 3444.0h0M959.4 3464.7h0M904.4 3447.9h0M919.3 3479.6h0M888.7 3464.3h0M988.2 3472.0h0M993.6 3463.9h0M997.7 3408.2h0M990.2 3454.5h0M890.4 3417.1h0M885.9 3439.4h0M986.4 3465.3h0M994.7 3480.0h0M884.9 3452.9h0M950.5 3478.8h0M952.0 3480.9h0M879.4 3420.4h0M1000.5 3429.0h0M886.7 3427.3h0M992.5 3433.7h0M987.8 3444.2h0M955.2 3473.8h0M1004.4 3416.0h0M984.6 3440.8h0M880.9 3440.8h0M995.1 3480.4h0M903.1 3440.2h0M991.4 3437.5h0M902.5 3444.1h0M917.7 3469.5h0M912.6 3467.4h0M912.4 3468.4h0M1003.0 3474.7h0M881.1 3477.7h0M879.6 3441.9h0M880.3 3461.0h0M895.2 3444.5h0M1000.0 3465.0h0M878.5 3418.0h0M900.1 3463.9h0M993.3 3417.0h0M969.7 3467.4h0M998.2 3430.6h0M969.1 3454.5h0M1002.8 3434.8h0M978.5 3441.3h0M986.8 3476.4h0M975.6 3480.1h0M980.8 3443.1h0M899.3 3440.7h0M895.1 3451.0h0M888.1 3444.0h0M985.3 3464.1h0M992.5 3423.7h0M1001.3 3433.4h0M902.9 3458.3h0M954.7 3470.4h0M979.8 3458.6h0M965.7 3467.8h0M995.5 3446.7h0M893.4 3431.1h0M992.6 3459.8h0M995.7 3424.1h0M880.0 3461.7h0M965.2 3472.6h0M956.6 3471.5h0M892.8 3465.6h0M902.4 3461.0h0M986.2 3432.7h0M917.6 3459.4h0M990.9 3465.7h0M970.2 3478.2h0M983.8 3439.7h0M893.3 3439.0h0M879.4 3422.0h0M891.9 3432.7h0M901.3 3476.1h0M881.9 3438.9h0M950.0 3480.0h0M1004.1 3472.7h0M954.1 3473.8h0M985.3 3456.2h0M971.9 3474.6h0M898.3 3480.4h0M1003.1 3458.8h0M993.9 3426.7h0M981.5 3437.5h0M989.9 3432.9h0M975.2 3453.2h0M886.1 3446.4h0M878.5 3424.6h0M957.1 3468.1h0M1005.3 3417.3h0M880.0 3418.0h0M910.0 3479.5h0M902.2 3476.6h0M1001.1 3398.4h0M886.9 3425.8h0M882.9 3468.4h0M969.0 3480.8h0M908.5 3475.4h0M973.8 3448.3h0M973.0 3446.2h0M998.2 3410.8h0M1001.9 3436.9h0M997.3 3445.6h0M1002.6 3429.3h0M891.9 3452.0h0M903.2 3457.4h0M893.0 3439.8h0M976.8 3440.0h0M999.2 3462.2h0M923.1 3469.9h0M901.4 3434.3h0M882.2 3459.1h0M890.2 3476.4h0M888.2 3442.4h0M984.6 3474.7h0M975.7 3464.5h0M1003.9 3432.6h0M887.2 3440.4h0M886.9 3432.9h0M887.6 3429.3h0M966.1 3477.6h0M924.1 3470.3h0M916.2 3471.0h0M996.9 3462.5h0M926.8 3474.3h0M979.3 3443.4h0M913.2 3465.8h0M1001.0 3414.4h0M885.3 3421.5h0M887.9 3428.8h0M992.4 3438.6h0M960.3 3477.3h0M975.1 3468.1h0M1001.2 3440.0h0M1004.1 3466.3h0M903.3 3468.1h0M1001.4 3455.4h0M891.8 3431.5h0M900.1 3458.3h0M881.8 3466.0h0M905.0 3450.9h0M900.8 3472.8h0M974.2 3460.8h0M981.9 3468.4h0M999.8 3463.4h0M979.8 3456.9h0M1004.0 3460.1h0M878.5 3448.3h0M954.8 3479.4h0M918.4 3461.5h0M1004.4 3433.4h0M877.3 3404.3h0M982.5 3467.6h0M969.0 3467.1h0M888.8 3466.7h0M917.0 3479.3h0M968.8 3461.1h0M890.7 3450.7h0M1001.1 3426.8h0M878.7 3418.6h0M935.8 3478.0h0M979.6 3453.1h0M914.3 3466.0h0M915.3 3470.7h0M962.6 3477.1h0M970.9 3450.7h0M888.9 3474.7h0M900.2 3439.4h0M953.1 3479.1h0M897.2 3458.9h0M982.4 3464.6h0M929.9 3477.7h0M955.1 3477.4h0M890.7 3447.6h0M955.5 3472.0h0M992.9 3457.2h0M984.2 3430.9h0M957.5 3480.0h0M966.5 3457.1h0M981.9 3475.1h0M982.8 3435.6h0M983.6 3452.6h0M886.9 3468.1h0M1003.6 3423.3h0M971.7 3461.4h0M980.1 3471.9h0M899.4 3467.7h0M959.4 3470.0h0M1004.6 3404.4h0M918.2 3464.6h0M992.5 3440.9h0M973.5 3459.8h0M886.0 3447.9h0M883.8 3439.8h0M907.8 3466.2h0M907.3 3446.1h0M1001.0 3409.3h0M889.7 3472.8h0M877.2 3454.0h0M918.7 3461.4h0M981.6 3463.7h0M952.2 3480.9h0M992.3 3447.8h0M992.1 3425.3h0M1004.7 3424.3h0M883.5 3423.8h0M988.6 3473.0h0M934.2 3480.2h0M902.3 3470.3h0M990.5 3466.6h0M962.6 3467.9h0M945.2 3479.9h0M913.6 3457.7h0M888.3 3428.0h0M908.6 3461.2h0M1003.7 3440.5h0M973.3 3447.9h0M977.5 3459.8h0M985.5 3452.4h0M999.1 3419.3h0M898.3 3468.7h0M907.3 3472.7h0M881.6 3422.2h0M900.2 3480.3h0M979.5 3440.0h0M978.6 3474.8h0M917.0 3473.5h0M888.4 3469.2h0M909.8 3457.1h0M884.9 3453.3h0M882.5 3419.6h0M1003.5 3441.2h0M972.6 3472.8h0M991.2 3455.6h0M886.9 3408.6h0M906.6 3459.3h0M908.1 3446.3h0M1002.9 3477.8h0M884.6 3427.7h0M987.9 3428.5h0M985.2 3438.4h0M904.7 3473.4h0M903.2 3460.2h0M1004.4 3404.0h0M903.3 3477.9h0M965.7 3474.4h0M879.5 3458.5h0M968.8 3470.7h0M879.7 3448.1h0M943.7 3480.5h0M907.7 3475.5h0M953.4 3478.2h0M894.5 3465.7h0M896.0 3465.2h0M906.1 3467.2h0M904.8 3480.2h0M994.9 3431.7h0M988.4 3443.0h0M888.6 3453.8h0M884.8 3456.0h0M897.4 3455.3h0M907.8 3468.3h0M931.2 3476.9h0M966.9 3470.8h0M923.8 3474.9h0M884.1 3435.5h0M909.6 3469.0h0M991.4 3464.0h0M962.7 3471.4h0M997.9 3432.7h0M882.0 3439.7h0M916.7 3456.8h0M896.3 3468.3h0M964.3 3481.2h0M907.8 3456.6h0M1001.3 3452.2h0M990.7 3435.1h0M1000.7 3468.1h0M909.1 3474.8h0M885.2 3473.4h0M967.5 3468.9h0M976.1 3474.7h0M884.0 3441.5h0M979.2 3449.0h0M983.3 3459.5h0M893.2 3439.9h0M906.7 3480.7h0M1001.5 3423.5h0M1003.9 3418.1h0M892.3 3463.1h0M892.5 3479.5h0M913.5 3463.0h0M895.9 3475.1h0M996.8 3444.5h0M892.5 3480.0h0M949.7 3477.5h0M912.2 3466.2h0M924.0 3480.4h0M885.4 3457.8h0M887.2 3446.2h0M1004.9 3402.7h0M980.6 3478.5h0M997.5 3405.2h0M970.0 3480.4h0M898.7 3477.3h0M878.4 3396.2h0M878.5 3409.5h0M1003.5 3397.8h0M880.1 3461.8h0M922.5 3465.5h0M918.3 3473.6h0M972.2 3455.8h0M899.8 3474.0h0M878.3 3445.4h0M999.2 3411.1h0M905.3 3451.7h0M899.9 3447.1h0M998.6 3466.8h0M896.1 3459.7h0M959.6 3470.7h0M949.9 3476.1h0M926.4 3473.6h0M881.2 3444.0h0M996.5 3446.2h0M1004.4 3453.2h0M984.8 3430.4h0M885.4 3427.4h0M988.1 3464.5h0M959.6 3471.8h0M978.0 3470.8h0M993.2 3470.8h0M924.0 3480.6h0M984.0 3471.6h0M989.5 3468.9h0M879.1 3453.6h0M900.3 3446.7h0M929.4 3475.4h0M996.8 3425.3h0M885.3 3459.9h0M963.3 3472.3h0M909.4 3469.1h0M888.4 3454.9h0M998.8 3431.2h0M1001.5 3397.9h0M1005.0 3439.3h0M903.9 3474.9h0M887.8 3435.0h0M892.4 3480.2h0M991.9 3457.9h0M893.1 3473.2h0M888.4 3460.6h0M976.8 3464.2h0M884.1 3445.9h0M986.2 3433.2h0M1000.7 3480.3h0M897.2 3479.6h0M891.2 3418.3h0M883.0 3474.9h0M910.5 3450.2h0M998.4 3442.0h0M993.0 3460.7h0M971.9 3468.8h0M934.9 3477.9h0M885.0 3439.4h0M889.8 3459.9h0M878.2 3395.2h0M878.0 3395.3h0M883.9 3461.5h0M964.3 3458.6h0M983.7 3464.6h0M959.4 3468.4h0M883.2 3437.3h0M996.0 3479.6h0M996.9 3437.5h0M877.8 3443.6h0M994.6 3425.5h0M933.1 3479.4h0M971.3 3477.4h0M947.4 3480.7h0M904.2 3457.9h0M984.7 3434.0h0M937.7 3480.4h0M996.1 3430.2h0M890.6 3470.2h0M921.5 3474.7h0M985.1 3449.3h0M907.0 3452.7h0M885.3 3452.6h0M1002.2 3442.3h0M973.7 3470.1h0M985.7 3442.2h0M919.8 3461.5h0M889.6 3466.3h0M902.6 3453.2h0M892.6 3444.6h0M999.0 3458.1h0M911.0 3480.5h0M914.7 3477.6h0M913.6 3466.3h0M989.1 3428.3h0M986.7 3450.0h0M976.5 3479.0h0M997.2 3421.4h0M907.0 3466.8h0M921.8 3464.0h0M961.3 3464.0h0M890.2 3473.2h0M1003.9 3404.1h0M885.0 3476.0h0M880.9 3398.7h0M977.7 3477.9h0M939.4 3480.3h0M949.1 3479.6h0M998.9 3413.3h0M997.0 3444.2h0M996.7 3442.2h0M1000.1 3472.1h0M880.2 3410.4h0M980.7 3478.0h0M983.9 3463.5h0M921.6 3467.0h0M899.6 3468.3h0M919.8 3467.6h0M900.8 3466.4h0M946.3 3478.9h0M908.4 3465.9h0M1004.0 3449.6h0M926.7 3471.6h0M977.4 3447.9h0M878.9 3447.8h0M895.5 3430.5h0M1000.2 3453.3h0M996.4 3427.9h0M998.3 3470.6h0M892.5 3422.1h0M886.3 3455.5h0M883.4 3466.7h0M892.8 3447.5h0M887.5 3475.7h0M995.6 3469.5h0M1001.8 3430.3h0M985.6 3470.6h0M880.2 3447.1h0M883.8 3467.6h0M971.5 3480.5h0M879.0 3477.6h0M897.9 3428.4h0M914.1 3460.6h0M913.5 3461.0h0M877.3 3456.8h0M936.4 3479.8h0M1001.5 3444.1h0M887.9 3464.6h0M902.3 3442.4h0M994.7 3424.3h0M979.8 3443.7h0M916.0 3457.4h0M880.0 3451.8h0M959.7 3469.8h0M988.8 3469.9h0M1003.4 3470.2h0M970.3 3454.0h0M989.1 3423.2h0M880.0 3413.1h0M912.1 3460.8h0M994.0 3414.5h0M976.3 3469.9h0M881.6 3437.0h0M909.1 3460.4h0M908.0 3478.6h0M883.8 3439.8h0M998.8 3448.5h0M892.7 3438.3h0M992.8 3444.4h0M1005.0 3464.1h0M975.3 3475.4h0M890.8 3418.2h0M991.0 3476.6h0M933.2 3478.9h0M883.0 3470.9h0M884.1 3479.9h0M886.4 3446.7h0M986.3 3447.8h0M892.5 3467.3h0M988.1 3456.7h0M989.9 3457.6h0M977.8 3452.5h0M972.1 3456.6h0M998.9 3428.4h0M879.2 3414.5h0M905.4 3440.0h0M884.8 3418.2h0M984.4 3449.6h0M1003.6 3412.5h0M998.9 3436.3h0M898.5 3434.2h0M962.1 3465.0h0M930.9 3476.5h0M1004.2 3396.3h0M886.8 3430.6h0M880.2 3425.2h0M896.2 3431.8h0M996.8 3467.8h0M892.2 3430.8h0M971.8 3464.7h0M966.2 3460.2h0M987.3 3440.1h0M966.7 3458.1h0M905.1 3468.0h0M1003.6 3461.6h0M956.5 3468.4h0M994.4 3469.0h0M988.9 3458.9h0M883.1 3476.2h0M984.9 3449.5h0M889.3 3457.0h0M1003.3 3405.8h0M885.1 3479.6h0M966.5 3474.1h0M909.0 3471.8h0M879.2 3429.6h0M911.5 3454.0h0M991.5 3479.7h0M915.7 3460.3h0M1004.2 3406.8h0M886.6 3410.0h0M878.8 3447.0h0M959.1 3472.0h0M997.5 3422.8h0M899.3 3435.0h0M963.5 3471.4h0M879.4 3424.2h0M904.6 3448.6h0M948.7 3478.0h0M884.4 3419.5h0M895.1 3479.5h0M898.1 3430.0h0M918.3 3462.4h0M882.7 3450.4h0M982.7 3445.0h0M900.9 3433.9h0M907.9 3446.6h0M963.6 3477.1h0M907.5 3448.9h0M940.4 3480.3h0M883.3 3403.2h0M896.1 3429.3h0M900.2 3456.3h0M907.7 3453.7h0M887.1 3478.8h0M901.4 3440.8h0M883.7 3469.6h0M897.9 3479.7h0M989.5 3475.8h0M883.1 3433.2h0M994.6 3473.2h0M913.9 3478.0h0M898.7 3453.1h0M925.2 3473.3h0M937.9 3480.0h0M901.9 3480.8h0M990.9 3455.8h0M894.0 3438.5h0M993.5 3461.5h0M995.7 3452.4h0M1000.0 3434.4h0M984.7 3429.3h0M895.5 3448.7h0M885.1 3459.9h0M901.6 3440.5h0M1003.6 3449.0h0M966.0 3459.7h0M902.6 3465.6h0M877.2 3481.0h0M919.2 3459.8h0M958.8 3469.8h0M906.9 3452.9h0M965.0 3462.5h0M1001.0 3430.0h0M897.9 3459.0h0M1001.2 3473.0h0M881.7 3413.2h0M986.9 3474.7h0M959.4 3477.4h0M880.9 3475.8h0M921.3 3468.5h0M987.7 3423.5h0M878.5 3457.9h0M942.5 3481.0h0M1004.1 3455.4h0M980.2 3438.3h0M1005.3 3444.8h0M887.3 3470.3h0M896.2 3447.2h0M975.0 3469.9h0M904.4 3443.1h0M973.1 3457.2h0M904.5 3455.2h0M883.6 3454.8h0M891.1 3438.6h0M978.5 3479.2h0M998.7 3456.0h0M979.0 3458.7h0M895.0 3425.6h0M988.0 3448.3h0M917.8 3463.8h0M974.4 3465.4h0M936.5 3480.9h0M954.7 3473.4h0M909.3 3477.6h0M892.1 3440.6h0M991.5 3464.5h0M974.4 3448.3h0M903.0 3461.9h0M881.0 3413.9h0M918.9 3478.6h0M887.0 3437.4h0M879.0 3428.8h0M918.0 3471.5h0M988.4 3473.6h0M980.7 3454.8h0M889.6 3453.3h0M999.7 3429.1h0M962.9 3470.0h0M982.9 3473.8h0M883.1 3404.7h0M980.1 3455.8h0M886.0 3423.9h0M903.2 3469.6h0M963.7 3478.1h0M902.4 3454.3h0M877.5 3405.7h0M925.8 3470.2h0M1002.3 3416.5h0M903.8 3474.0h0M993.8 3472.3h0M922.3 3469.8h0M968.3 3465.0h0M895.7 3459.0h0M923.2 3479.9h0M984.5 3464.2h0M894.7 3431.6h0M926.0 3479.8h0M879.0 3461.0h0M887.8 3458.7h0M978.8 3445.2h0M995.0 3412.1h0M997.4 3405.6h0M892.6 3453.5h0M988.0 3478.2h0M913.7 3469.0h0M997.9 3417.8h0M886.2 3427.0h0M920.7 3480.0h0M883.6 3438.1h0M914.4 3462.3h0M883.7 3457.8h0M891.8 3450.4h0M879.6 3450.1h0M880.2 3414.2h0M883.8 3432.8h0M883.5 3451.5h0M998.7 3436.9h0M878.0 3415.6h0M912.4 3459.2h0M970.9 3451.1h0M944.8 3480.3h0M920.5 3463.6h0M996.9 3447.6h0M891.2 3454.4h0M983.4 3468.5h0M1004.2 3479.5h0M888.7 3430.4h0M984.9 3468.3h0M992.2 3474.3h0M1001.1 3421.6h0M975.5 3470.6h0M904.2 3439.5h0M998.9 3414.7h0M949.7 3476.8h0M882.7 3422.3h0M1004.1 3421.2h0M947.4 3481.2h0M906.2 3464.4h0M963.9 3461.8h0M920.6 3468.1h0M884.0 3410.0h0M936.0 3479.3h0M877.7 3425.0h0M1003.4 3406.5h0M928.0 3477.7h0M965.7 3473.6h0M927.7 3474.6h0M902.2 3470.6h0M878.9 3402.7h0M945.7 3480.3h0M972.1 3476.8h0M1003.9 3467.2h0M954.6 3470.5h0M1002.9 3475.1h0M962.9 3476.6h0M888.6 3475.9h0M893.4 3448.8h0M877.3 3475.7h0M880.7 3477.9h0M964.0 3464.9h0M967.0 3460.6h0M924.1 3481.2h0M1000.6 3400.4h0M952.6 3479.8h0M883.4 3431.9h0M999.6 3462.4h0M905.5 3480.0h0M945.4 3481.1h0M883.5 3462.8h0M970.3 3476.3h0M1001.1 3404.4h0M946.5 3480.0h0M993.8 3460.6h0M882.5 3452.6h0M887.6 3466.6h0M961.5 3470.9h0M884.3 3418.5h0M908.4 3451.9h0M877.6 3432.8h0M966.1 3476.1h0M948.0 3478.1h0M930.5 3480.2h0M997.0 3414.6h0M997.8 3480.9h0M893.3 3431.8h0M891.8 3472.4h0M894.2 3442.7h0M894.7 3472.7h0M940.1 3479.6h0M980.4 3465.0h0M884.3 3444.5h0M1003.6 3443.3h0M995.5 3436.2h0M885.3 3408.9h0M950.1 3478.3h0M887.4 3422.3h0M884.2 3436.8h0M929.4 3476.9h0M885.2 3475.2h0M931.6 3475.4h0M958.2 3478.2h0M998.1 3461.1h0M883.1 3448.5h0M996.4 3465.9h0M879.1 3410.7h0M988.8 3480.3h0M972.9 3459.8h0M891.6 3441.9h0M908.1 3452.2h0M912.1 3451.9h0M1002.8 3400.4h0M969.5 3480.4h0M985.6 3452.4h0M892.9 3426.1h0M998.5 3436.2h0M888.0 3461.5h0M903.1 3477.6h0M975.6 3466.6h0M969.3 3452.6h0M1003.0 3394.8h0M888.2 3439.6h0M977.5 3449.9h0M948.9 3477.7h0M1001.4 3467.3h0M898.9 3429.4h0M877.9 3399.7h0M988.6 3448.5h0M883.1 3442.2h0M914.0 3474.6h0M998.9 3473.9h0M1003.7 3476.5h0M982.0 3479.7h0M899.7 3438.4h0M879.6 3480.1h0M884.0 3442.8h0M1001.3 3409.8h0M963.4 3473.1h0M938.6 3479.5h0M888.8 3468.2h0M1004.7 3391.4h0M899.9 3448.7h0M890.3 3475.6h0M934.3 3478.2h0M1004.6 3441.2h0M890.4 3447.4h0M900.8 3467.3h0M998.0 3418.0h0M998.2 3421.4h0M893.0 3424.1h0M965.3 3468.4h0M976.2 3461.8h0M971.0 3468.1h0M947.8 3479.1h0M909.5 3447.8h0M897.1 3474.7h0M905.5 3480.2h0M924.3 3470.1h0M962.1 3465.8h0M885.8 3422.8h0M975.5 3461.3h0M885.8 3442.0h0M985.0 3433.1h0M1003.5 3413.5h0M908.8 3457.3h0M990.7 3461.0h0M983.4 3452.3h0M878.5 3439.0h0M999.0 3409.5h0M1001.8 3457.6h0M879.6 3475.3h0M984.0 3454.6h0M889.2 3447.1h0M981.9 3448.3h0M895.2 3477.8h0M997.2 3438.0h0M989.1 3463.2h0M999.6 3477.5h0M998.2 3465.2h0M986.7 3466.6h0M896.2 3474.5h0M880.6 3418.8h0M964.7 3464.0h0M897.0 3460.3h0M897.7 3476.2h0M979.1 3449.3h0M989.9 3428.4h0M886.0 3456.7h0M956.9 3470.9h0M886.6 3445.6h0M985.0 3473.1h0M962.5 3468.5h0M921.8 3471.5h0M887.3 3429.1h0M963.6 3480.1h0M899.8 3472.0h0M913.9 3480.4h0M897.5 3441.7h0M887.3 3445.8h0M925.1 3469.6h0M890.7 3445.5h0M896.9 3429.5h0M899.1 3458.3h0M964.1 3474.5h0M891.6 3450.3h0M927.4 3480.5h0M881.8 3409.0h0M890.5 3440.6h0M903.8 3462.3h0M944.5 3480.7h0M968.8 3467.2h0M1004.6 3415.3h0M973.9 3464.0h0M887.3 3414.1h0M900.0 3441.4h0M943.2 3480.0h0M983.6 3471.8h0M999.1 3440.8h0M911.3 3475.7h0M882.4 3427.1h0M996.0 3446.8h0M916.6 3462.9h0M892.1 3470.0h0M958.7 3475.4h0M971.1 3479.9h0M957.8 3480.0h0M967.0 3461.2h0M878.4 3452.8h0M999.8 3468.2h0M911.5 3453.6h0M1001.5 3433.7h0M888.0 3435.2h0M989.7 3479.4h0M1000.1 3422.3h0M974.5 3456.1h0M912.3 3458.4h0M884.2 3422.5h0M885.2 3446.1h0M903.3 3461.0h0M883.6 3433.3h0M886.1 3442.4h0M916.1 3477.2h0M1003.5 3449.7h0M893.6 3475.4h0M995.2 3442.7h0M883.8 3412.7h0M915.3 3454.9h0M887.4 3434.6h0M880.2 3452.4h0M964.0 3479.4h0M888.2 3414.7h0M994.5 3474.7h0M976.7 3449.0h0M899.0 3477.0h0M999.4 3420.4h0M892.5 3423.1h0M922.0 3468.7h0M982.1 3460.2h0M956.7 3475.0h0M879.0 3475.1h0M894.8 3449.5h0M883.8 3446.0h0M899.3 3448.9h0M905.4 3478.2h0M901.0 3454.7h0M959.1 3477.6h0M880.6 3407.9h0M904.4 3455.3h0M907.7 3479.0h0M951.6 3474.3h0M1000.0 3402.7h0M957.1 3475.9h0M885.7 3479.9h0M990.7 3429.7h0M976.8 3450.7h0M922.1 3473.8h0M891.7 3465.0h0M994.9 3433.8h0M997.8 3466.6h0M877.4 3425.1h0M937.3 3479.8h0M1001.9 3429.0h0M1003.9 3442.7h0M886.3 3464.0h0M906.1 3445.3h0M973.6 3470.1h0M993.2 3414.1h0M889.1 3430.3h0M999.7 3458.6h0M890.0 3463.8h0M896.1 3442.4h0M981.5 3456.1h0M1002.8 3435.0h0M981.0 3439.3h0M997.7 3474.9h0M896.2 3455.2h0M961.7 3477.3h0M888.8 3459.4h0M898.9 3447.7h0M999.4 3407.7h0M893.4 3458.8h0M985.7 3447.0h0M894.7 3476.2h0M966.7 3481.0h0M991.0 3463.8h0M943.8 3479.7h0M968.9 3462.9h0M893.6 3475.5h0M995.9 3455.4h0M924.2 3478.3h0M909.9 3456.1h0M887.9 3463.2h0M914.4 3475.6h0M951.0 3479.5h0M910.9 3453.5h0M894.1 3462.4h0M879.3 3451.9h0M932.1 3478.9h0M904.1 3473.6h0M985.8 3456.6h0M905.4 3439.9h0M1000.8 3462.4h0M883.3 3442.6h0M981.8 3432.7h0M955.6 3478.7h0M1000.0 3421.1h0M962.0 3462.6h0M984.2 3435.9h0M899.6 3464.9h0M883.1 3481.0h0M1001.3 3441.2h0M885.0 3422.2h0M914.7 3469.4h0M951.2 3478.4h0M1000.0 3417.0h0M998.3 3436.7h0M967.6 3480.6h0M991.7 3434.2h0M981.3 3446.3h0M999.3 3410.7h0M902.0 3467.5h0M1004.2 3405.3h0M1002.2 3418.4h0M888.8 3447.2h0M924.9 3480.0h0M998.7 3447.4h0M897.3 3443.6h0M993.3 3465.3h0M978.9 3466.4h0M974.5 3460.3h0M968.7 3460.0h0M890.2 3443.7h0M881.9 3410.1h0M911.9 3461.6h0M906.9 3478.3h0M911.5 3449.8h0M997.9 3432.5h0M921.0 3474.9h0M993.9 3466.8h0M889.9 3419.5h0M900.6 3441.8h0M880.8 3398.4h0M1005.2 3417.8h0M914.4 3461.7h0M888.3 3445.6h0M1004.0 3421.9h0M972.2 3463.8h0M879.3 3478.4h0M891.9 3459.1h0M887.0 3412.2h0M1003.4 3469.3h0M879.1 3424.5h0M1000.7 3411.5h0M997.2 3407.5h0M950.4 3478.2h0M988.8 3451.8h0M996.9 3464.3h0M878.0 3442.5h0M985.8 3463.3h0M916.0 3464.2h0M993.8 3461.2h0M989.0 3435.9h0M982.0 3447.5h0M897.3 3442.5h0M981.7 3439.5h0M974.1 3475.5h0M998.3 3426.5h0M881.5 3479.6h0M930.2 3474.1h0M881.7 3462.2h0M981.8 3480.1h0M961.7 3472.0h0M901.9 3468.4h0M999.0 3411.4h0M1000.8 3450.7h0M999.2 3430.5h0M899.9 3459.7h0M903.6 3469.8h0M1000.4 3444.4h0M1000.8 3410.3h0M924.8 3475.4h0M1002.5 3467.0h0M883.3 3461.3h0M942.2 3479.8h0M902.3 3454.1h0M880.0 3453.5h0M906.0 3459.4h0M981.8 3456.1h0M914.4 3468.7h0M983.9 3429.5h0M979.6 3454.2h0M983.9 3433.7h0M972.6 3457.1h0M889.3 3462.1h0M960.2 3475.9h0M909.4 3461.2h0M987.8 3442.9h0M974.7 3464.9h0M960.6 3467.5h0M905.8 3456.0h0M921.5 3470.0h0M891.6 3452.0h0M964.4 3459.0h0M896.8 3446.0h0M890.7 3476.9h0M999.0 3414.7h0M880.9 3398.3h0M924.5 3477.3h0M900.6 3452.8h0M998.0 3457.7h0M955.2 3476.2h0M894.1 3437.3h0M891.6 3438.3h0M885.7 3428.9h0M984.5 3435.1h0M974.5 3454.5h0M943.3 3479.5h0M882.0 3456.5h0M912.7 3474.0h0M1003.0 3455.6h0M943.6 3480.0h0M881.9 3433.1h0M917.1 3478.6h0M971.9 3451.4h0M898.0 3450.6h0M879.0 3454.2h0M960.2 3468.7h0M989.7 3480.0h0M994.1 3428.8h0M975.7 3469.3h0M959.1 3472.7h0M910.9 3469.1h0M880.6 3473.2h0M993.1 3462.6h0M969.9 3452.8h0M882.5 3409.7h0M965.3 3465.5h0M995.7 3451.5h0M1001.3 3436.8h0M910.7 3480.9h0M974.0 3469.4h0M995.3 3417.6h0M979.2 3471.8h0M880.9 3465.4h0M987.2 3480.4h0M927.8 3471.2h0M990.8 3481.1h0M997.4 3431.6h0M892.0 3434.5h0M893.0 3423.3h0M929.5 3475.3h0M982.9 3453.3h0M934.2 3477.0h0M1002.8 3469.9h0M971.9 3462.7h0M914.5 3478.9h0M882.1 3479.8h0M990.2 3418.7h0M923.0 3471.0h0M922.7 3479.0h0M1004.5 3412.3h0M912.8 3453.4h0M909.4 3449.0h0M882.7 3411.5h0M975.8 3476.4h0M898.2 3436.8h0M878.8 3450.3h0M897.1 3432.2h0M1004.6 3418.6h0M897.7 3435.7h0M879.6 3446.4h0M994.8 3465.1h0M885.4 3439.5h0M885.0 3417.9h0M914.1 3476.1h0M997.4 3450.3h0M999.2 3427.1h0M922.9 3470.1h0M933.1 3479.6h0M898.3 3461.4h0M918.2 3464.0h0M877.8 3469.2h0M917.3 3470.1h0M997.5 3448.3h0M1004.0 3464.5h0M969.8 3452.2h0M1003.9 3430.7h0M887.7 3457.7h0M888.2 3455.3h0M930.0 3480.1h0M999.1 3462.7h0M981.6 3455.7h0M886.9 3421.7h0M963.6 3463.0h0M883.1 3467.0h0M915.6 3464.9h0M941.9 3481.1h0M888.0 3468.7h0M915.1 3458.1h0M977.7 3459.9h0M882.4 3405.8h0M1002.3 3411.9h0M902.0 3441.6h0M932.9 3476.9h0M894.3 3426.1h0M898.4 3440.1h0M896.7 3474.9h0M951.8 3478.3h0M1002.6 3438.1h0M881.2 3472.4h0M956.6 3478.9h0M960.7 3475.4h0M950.1 3480.2h0M962.4 3479.2h0M886.1 3441.3h0M879.6 3426.6h0M877.7 3429.5h0M947.1 3478.4h0M880.7 3410.8h0M959.0 3480.2h0M981.4 3438.2h0M878.9 3462.9h0M904.0 3479.2h0M1000.9 3424.7h0M898.1 3447.5h0M1004.1 3417.3h0M987.4 3448.0h0M961.0 3480.3h0M900.5 3449.7h0M986.8 3471.5h0M930.9 3479.2h0M890.6 3450.0h0M1000.6 3429.6h0M888.4 3462.2h0M912.8 3460.2h0M961.3 3476.8h0M1004.3 3418.9h0M891.5 3479.6h0M891.4 3459.0h0M1001.2 3446.5h0M945.4 3479.9h0M886.1 3457.2h0M1004.9 3454.1h0M919.3 3477.7h0M922.3 3480.5h0M978.1 3469.5h0M947.7 3477.7h0M974.9 3470.2h0M984.2 3471.8h0M1003.4 3465.4h0M967.8 3480.6h0M1000.1 3426.9h0M963.7 3461.2h0M978.7 3453.5h0M884.5 3469.7h0M1002.3 3420.1h0M923.2 3464.8h0M885.3 3436.1h0M1004.3 3462.5h0M879.6 3449.9h0M921.8 3465.3h0M1005.2 3463.4h0M966.5 3469.2h0M977.6 3447.1h0M886.9 3422.4h0M1000.0 3427.1h0M894.5 3477.5h0M966.0 3463.6h0M898.2 3466.7h0M999.0 3419.2h0M883.6 3426.2h0M887.7 3417.8h0M989.7 3424.1h0M1003.8 3431.9h0M899.8 3464.5h0M977.9 3448.5h0M982.6 3476.2h0M904.1 3438.5h0M980.5 3480.8h0M984.5 3429.3h0M896.5 3470.8h0M910.2 3477.4h0M878.7 3477.4h0M885.7 3460.6h0M890.9 3477.2h0M884.1 3406.1h0M953.2 3475.4h0M980.2 3467.0h0M882.9 3407.3h0M880.3 3471.4h0M991.6 3461.7h0M985.7 3460.0h0M885.0 3424.3h0M995.8 3419.7h0M995.7 3441.7h0M986.6 3460.2h0M877.9 3419.0h0M1001.3 3412.6h0M902.3 3471.1h0M983.6 3479.7h0M1005.0 3410.6h0M987.5 3480.3h0M878.6 3427.2h0M1002.5 3450.4h0M900.1 3437.9h0M905.3 3471.3h0M997.9 3463.6h0M907.3 3465.2h0M884.9 3439.0h0M908.6 3451.8h0M891.5 3479.6h0M892.4 3473.0h0M894.4 3480.6h0M983.2 3479.2h0M941.4 3479.8h0M974.6 3479.7h0M884.3 3480.0h0M901.2 3480.0h0M1005.5 3480.7h0M917.3 3479.7h0M962.6 3480.4h0M927.0 3479.9h0M999.0 3481.1h0M993.7 3479.8h0M997.2 3480.2h0M961.4 3481.1h0M903.8 3479.6h0M918.3 3479.9h0M1006.2 3479.8h0M964.0 3479.8h0M907.9 3478.7h0M925.1 3481.1h0M931.1 3480.2h0M901.6 3480.1h0M883.7 3478.8h0M944.0 3480.5h0M947.6 3479.7h0M926.3 3479.2h0M935.2 3478.9h0M977.1 3479.5h0M895.8 3479.4h0M1005.7 3479.2h0M879.8 3480.5h0M874.2 3479.5h0M993.2 3479.5h0M963.3 3479.8h0M972.2 3479.8h0M981.5 3480.8h0M937.2 3479.6h0M883.1 3479.8h0M997.1 3481.0h0M972.7 3479.4h0M993.7 3478.8h0M959.7 3479.7h0M937.8 3480.1h0M954.9 3480.4h0M981.4 3479.8h0M932.4 3479.9h0M969.3 3479.1h0M983.6 3479.4h0M906.8 3481.2h0M890.1 3481.0h0M942.2 3481.0h0M937.6 3479.3h0M933.2 3479.0h0M922.3 3480.0h0M909.6 3480.9h0M951.7 3480.9h0M893.8 3480.5h0M971.9 3478.7h0M903.1 3480.6h0M1004.4 3479.7h0M981.1 3478.7h0M962.7 3480.6h0M1006.1 3479.0h0M874.3 3478.8h0M961.2 3480.6h0M937.7 3480.4h0M978.2 3480.2h0M885.4 3479.0h0M918.5 3480.8h0M968.1 3480.9h0M955.4 3480.1h0M890.2 3478.8h0M967.2 3481.1h0M995.0 3479.6h0M984.6 3479.3h0M896.8 3480.4h0M897.1 3479.2h0M1001.4 3479.8h0M963.5 3478.7h0M944.0 3480.1h0M911.7 3478.7h0M890.3 3480.7h0M988.5 3481.1h0M900.6 3479.9h0M905.8 3480.2h0M877.3 3479.5h0M883.9 3480.5h0M887.6 3479.5h0M903.2 3479.8h0M878.4 3479.8h0M920.0 3478.9h0M900.0 3480.5h0M990.8 3481.0h0M939.9 3480.0h0M913.1 3480.8h0M941.0 3481.1h0M875.2 3480.5h0M924.7 3480.6h0M969.5 3480.2h0M955.9 3479.7h0M969.6 3478.9h0M949.4 3479.5h0M948.8 3481.0h0M986.2 3479.9h0M879.2 3479.3h0M941.4 3478.8h0M930.0 3480.0h0M994.5 3478.9h0M977.6 3480.1h0M931.9 3479.3h0M994.7 3480.0h0M968.4 3479.8h0M948.1 3480.7h0M911.8 3480.6h0M1006.4 3481.1h0M903.4 3480.7h0M983.7 3479.5h0M915.4 3480.9h0M964.5 3479.3h0M960.3 3479.4h0M954.4 3481.1h0M980.9 3479.0h0M896.4 3480.2h0M1006.3 3478.7h0M983.9 3479.1h0M895.1 3479.0h0M984.6 3480.7h0M996.7 3479.2h0M997.2 3478.9h0M886.4 3480.8h0M982.4 3480.8h0M920.8 3479.2h0M985.7 3480.2h0M929.5 3479.4h0M1007.9 3479.6h0M920.6 3480.6h0M899.1 3479.7h0M970.8 3480.6h0M974.0 3479.7h0M951.0 3479.9h0M929.3 3481.2h0M946.3 3479.5h0M993.4 3478.8h0M961.1 3480.8h0M989.5 3480.2h0M1003.6 3478.8h0M886.0 3481.1h0M880.5 3479.5h0M940.1 3479.6h0M917.6 3479.7h0M886.7 3480.7h0M972.7 3480.6h0M889.2 3479.6h0M1006.2 3478.8h0M992.6 3479.4h0M875.0 3480.8h0M952.3 3479.9h0M986.6 3481.1h0M958.1 3481.0h0M975.5 3481.0h0M939.4 3479.3h0M1006.5 3479.2h0M979.2 3480.4h0M959.9 3479.8h0M940.5 3479.7h0M933.8 3480.2h0M976.6 3479.6h0M1005.2 3478.9h0M981.7 3480.9h0M941.7 3480.0h0M980.2 3478.9h0M900.4 3481.2h0M991.0 3478.7h0M919.4 3479.7h0M925.8 3480.2h0M959.6 3479.5h0M995.2 3480.3h0M940.4 3480.1h0M1006.6 3479.9h0M997.5 3478.8h0M877.8 3479.3h0M888.9 3479.9h0M958.7 3481.0h0M951.8 3479.5h0M920.8 3479.8h0M927.2 3480.8h0M908.2 3478.8h0M959.6 3479.8h0M982.3 3479.1h0M975.7 3480.2h0M946.6 3480.4h0M882.6 3478.9h0M884.7 3480.3h0M988.6 3480.4h0M996.6 3481.1h0M894.1 3480.1h0M959.5 3479.2h0M994.6 3479.1h0M898.9 3478.7h0M880.1 3480.0h0M920.8 3481.1h0M901.2 3478.7h0M1004.5 3480.3h0M1008.5 3479.3h0M878.3 3479.7h0M901.5 3480.5h0M970.5 3480.7h0M921.3 3481.2h0M917.1 3480.4h0M889.2 3481.0h0M928.6 3481.0h0M999.9 3480.6h0M923.3 3481.0h0M983.2 3480.7h0M884.2 3480.3h0M996.7 3478.9h0M936.7 3479.7h0M883.7 3478.9h0M975.4 3480.6h0M987.0 3480.8h0M938.9 3480.5h0M950.3 3480.6h0M947.1 3480.6h0M876.0 3480.9h0M980.1 3480.1h0M942.9 3479.5h0M908.3 3480.7h0M928.8 3479.3h0M972.4 3480.0h0M955.6 3480.6h0M1001.5 3479.6h0M982.1 3480.3h0M951.8 3479.4h0M945.5 3479.3h0M910.5 3479.2h0M916.7 3479.9h0M893.2 3480.2h0M993.2 3481.1h0M899.2 3479.8h0M962.4 3479.5h0M966.3 3479.4h0M955.0 3480.8h0M947.2 3480.5h0M874.6 3479.9h0M1005.1 3480.0h0M976.2 3479.6h0M878.9 3479.8h0M1006.9 3479.6h0M913.9 3478.9h0M964.0 3478.9h0M1083.9 3476.6h0M1115.9 3476.4h0M1023.1 3479.9h0M1212.9 3478.9h0M1032.1 3480.9h0M1026.9 3478.5h0M838.0 3481.1h0M710.7 3473.8h0M1017.9 3479.8h0M857.0 3478.5h0M1156.6 3475.0h0M688.2 3480.6h0M1008.2 3480.1h0M810.1 3478.8h0M728.0 3478.8h0M1049.5 3477.4h0M784.6 3480.9h0M765.1 3478.7h0M1041.6 3480.4h0M1032.1 3480.4h0M1041.2 3480.2h0M1058.2 3477.5h0M812.6 3478.6h0M1034.2 3480.4h0M870.4 3479.0h0M1023.2 3480.1h0M1095.8 3477.4h0M1009.1 3481.1h0M1050.9 3479.0h0M1125.9 3478.3h0M1101.2 3480.2h0M774.1 3476.3h0M1107.3 3479.9h0M806.1 3478.9h0M832.3 3477.6h0M1155.3 3477.6h0M728.8 3474.5h0M1142.1 3479.4h0M1013.5 3480.8h0M779.8 3478.0h0M787.8 3478.4h0M1093.0 3477.9h0M1035.5 3481.2h0M1132.1 3479.6h0M862.2 3480.0h0M1018.5 3479.6h0M1077.2 3480.0h0M1014.3 3479.5h0M1051.9 3478.2h0M807.1 3479.8h0M1074.0 3479.0h0M751.4 3481.0h0M1059.6 3477.4h0M819.9 3477.9h0M1097.8 3476.5h0M863.5 3479.7h0M1123.6 3477.9h0M1053.8 3480.6h0M849.1 3480.4h0M1193.0 3478.4h0M749.1 3475.5h0M1196.0 3474.5h0M781.9 3479.0h0M1011.9 3478.9h0M819.1 3479.7h0M1058.5 3479.1h0M1042.3 3478.1h0M1138.8 3476.0h0M1013.1 3480.9h0M824.9 3477.6h0M843.4 3480.7h0M1018.6 3480.2h0M1018.8 3478.6h0M875.7 3479.5h0M1056.8 3478.2h0M808.8 3480.9h0M1038.9 3479.1h0M1009.4 3480.8h0M1061.1 3479.6h0M1131.9 3478.1h0M1074.3 3477.7h0M848.9 3478.1h0M783.4 3477.2h0M1016.1 3479.5h0M730.8 3479.4h0M1117.2 3479.6h0M1010.3 3480.8h0M1017.4 3480.2h0M845.2 3478.3h0M784.5 3480.9h0M763.2 3481.2h0M874.6 3480.8h0M1124.2 3479.3h0M776.0 3479.3h0M751.5 3480.1h0M678.3 3474.9h0M770.3 3478.4h0M1140.7 3475.0h0M1038.7 3478.3h0M863.9 3478.9h0M1083.7 3480.5h0M766.1 3475.5h0M810.0 3477.0h0M872.1 3479.1h0M1169.6 3479.9h0M1007.8 3480.7h0M735.0 3479.9h0M1100.9 3480.5h0M1095.1 3478.8h0M1120.8 3475.4h0M826.7 3477.5h0M1101.5 3477.9h0M1218.6 3480.5h0M1147.1 3479.5h0M1023.1 3479.5h0M812.2 3479.8h0M827.5 3479.9h0M1164.4 3477.3h0M1067.4 3477.9h0M833.0 3480.4h0M1060.8 3480.3h0M1068.4 3480.4h0M1034.8 3479.2h0M822.4 3479.8h0M1061.4 3480.5h0M1025.4 3479.8h0M1052.1 3478.3h0M1084.0 3478.5h0M1062.8 3478.8h0M1008.7 3481.0h0M1130.2 3480.7h0M855.0 3479.3h0M1053.6 3477.7h0M1153.4 3474.4h0M855.4 3479.8h0M830.7 3480.6h0M1082.6 3478.1h0M852.3 3480.0h0M844.9 3481.1h0M1089.7 3477.6h0M1103.3 3478.3h0M861.4 3479.1h0M762.0 3480.2h0M1012.1 3478.7h0M1183.1 3480.2h0M1038.9 3478.1h0M1126.1 3477.7h0M791.2 3477.5h0M843.1 3480.8h0M707.3 3475.6h0M820.6 3477.0h0M1121.9 3477.3h0M1009.1 3479.7h0M737.9 3474.7h0M808.3 3480.0h0M1112.6 3480.1h0M1052.9 3478.8h0M829.0 3481.2h0M1034.9 3480.7h0M1164.0 3475.5h0M1085.4 3477.0h0M1140.2 3480.1h0M1060.9 3480.5h0M1203.0 3480.1h0M831.5 3478.3h0M783.4 3479.0h0M874.4 3480.8h0M1125.4 3475.3h0M864.8 3478.5h0M835.5 3477.9h0M726.5 3478.2h0M1092.4 3477.7h0M1063.5 3477.2h0M1235.7 3475.6h0M1069.3 3481.0h0M1109.9 3476.2h0M675.3 3476.1h0M807.6 3478.1h0M797.3 3476.3h0M723.5 3474.6h0M1012.0 3479.6h0M770.7 3479.3h0M844.2 3479.6h0M807.1 3477.0h0M725.3 3479.8h0M1062.3 3479.6h0M1027.4 3478.4h0M829.0 3478.6h0M1045.7 3479.4h0M780.2 3479.7h0M856.1 3479.7h0M723.5 3478.2h0M783.3 3476.3h0M1025.5 3478.9h0M1016.9 3480.6h0M711.6 3474.2h0M800.5 3480.8h0M842.2 3481.2h0M844.1 3478.0h0M790.0 3480.6h0M1020.4 3478.8h0M997.6 3370.7h0M997.6 3393.4h0M879.0 3382.3h0M1001.0 3380.0h0M883.0 3395.0h0M672.8 3472.9h0M692.1 3471.5h0M701.1 3472.9h0M719.5 3472.9h0M736.0 3469.5h0M745.9 3472.9h0M757.2 3478.6h0M772.8 3475.8h0M782.7 3477.2h0M809.6 3475.8h0M822.4 3478.0h0M840.8 3480.0h0M850.7 3480.0h0M870.5 3481.4h0" fill="none" stroke="#1e1e1e" stroke-width="15.2" stroke-linecap="round"/>
<rect x="179.8" y="2463.4" width="1483.2" height="1064.7999999999997" fill="none" stroke="#262626" stroke-width="3.6"/>
<line x1="300.2" y1="3528.2" x2="300.2" y2="3537.2" stroke="#333" stroke-width="3"/>
<text x="300.2" y="3563.7" font-size="26" text-anchor="middle" class="g">−10</text>
<line x1="620.7" y1="3528.2" x2="620.7" y2="3537.2" stroke="#333" stroke-width="3"/>
<text x="620.7" y="3563.7" font-size="26" text-anchor="middle" class="g">−5</text>
<line x1="941.2" y1="3528.2" x2="941.2" y2="3537.2" stroke="#333" stroke-width="3"/>
<text x="941.2" y="3563.7" font-size="26" text-anchor="middle" class="g">0</text>
<line x1="1261.7" y1="3528.2" x2="1261.7" y2="3537.2" stroke="#333" stroke-width="3"/>
<text x="1261.7" y="3563.7" font-size="26" text-anchor="middle" class="g">5</text>
<line x1="1582.2" y1="3528.2" x2="1582.2" y2="3537.2" stroke="#333" stroke-width="3"/>
<text x="1582.2" y="3563.7" font-size="26" text-anchor="middle" class="g">10</text>
<line x1="170.8" y1="3481.2" x2="179.8" y2="3481.2" stroke="#333" stroke-width="3"/>
<text x="163.8" y="3490.7" font-size="26" text-anchor="end" class="g">0</text>
<line x1="170.8" y1="3166.8" x2="179.8" y2="3166.8" stroke="#333" stroke-width="3"/>
<text x="163.8" y="3176.3" font-size="26" text-anchor="end" class="g">50</text>
<line x1="170.8" y1="2852.5" x2="179.8" y2="2852.5" stroke="#333" stroke-width="3"/>
<text x="163.8" y="2862.0" font-size="26" text-anchor="end" class="g">100</text>
<line x1="170.8" y1="2538.1" x2="179.8" y2="2538.1" stroke="#333" stroke-width="3"/>
<text x="163.8" y="2547.6" font-size="26" text-anchor="end" class="g">150</text>
<text x="179.8" y="2439.5" font-size="38.46856" text-anchor="start">Volcano plot</text>
<text x="212" y="2564.4" font-size="47.9" text-anchor="start" class="b">EgLR vs EgHR</text>
<text x="921" y="3596.3" font-size="32.1" text-anchor="middle">log2(FC)</text>
<text transform="translate(102.7,2996) rotate(-90)" font-size="31.2" text-anchor="middle">−log10(FDR)</text>
<text x="1715" y="2925" font-size="32.2296" text-anchor="start">Significant</text>
<circle cx="1738.5" cy="2969.1995" r="7.6" fill="#f03223"/>
<text x="1781" y="2978.1995" font-size="26.857999999999997" text-anchor="start">Up(2726)</text>
<circle cx="1738.5" cy="3017.8995" r="7.6" fill="#00b93c"/>
<text x="1781" y="3026.8995" font-size="26.857999999999997" text-anchor="start">Down(2086)</text>
<circle cx="1738.5" cy="3066.5995000000003" r="7.6" fill="#1e1e1e"/>
<text x="1781" y="3075.5995000000003" font-size="26.857999999999997" text-anchor="start">Normal(18272)</text>
</g>
</svg></body></html>
